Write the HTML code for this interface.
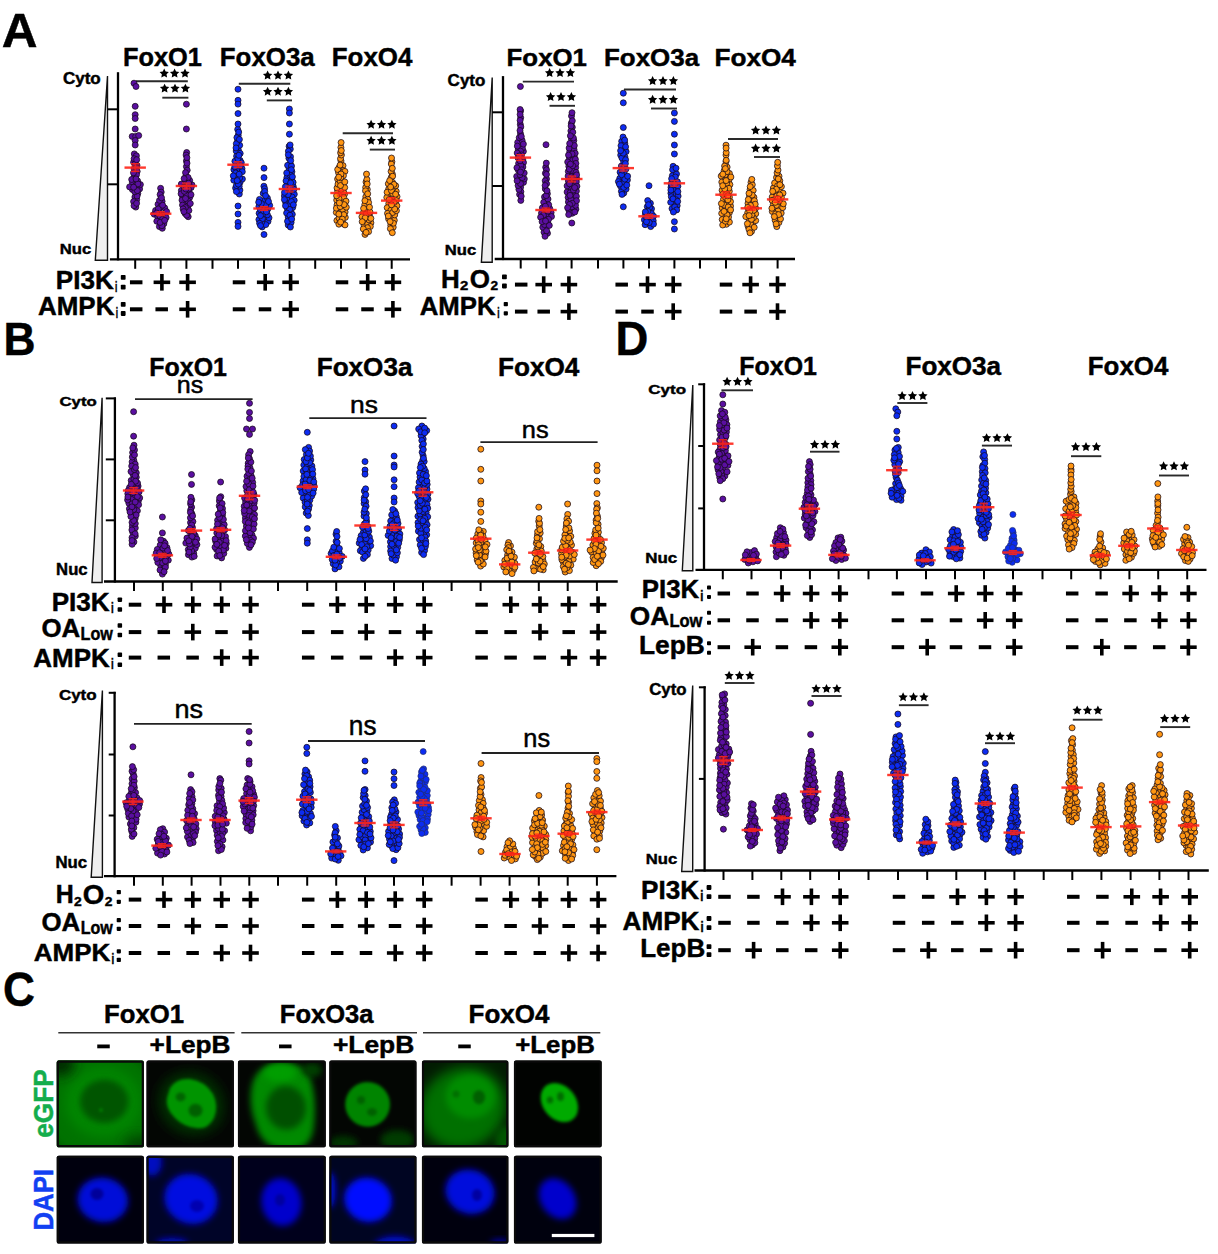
<!DOCTYPE html><html><head><meta charset="utf-8"><style>html,body{margin:0;padding:0;background:#fff;overflow:hidden;width:1218px;height:1254px;}svg{display:block;font-family:"Liberation Sans",sans-serif;}</style></head><body><svg width="1218" height="1254" viewBox="0 0 1218 1254"><rect width="100%" height="100%" fill="#fff"/><defs>
<filter id="b3" x="-50%" y="-50%" width="200%" height="200%"><feGaussianBlur stdDeviation="3"/></filter>
<filter id="b2" x="-50%" y="-50%" width="200%" height="200%"><feGaussianBlur stdDeviation="1.6"/></filter>
<filter id="b6" x="-50%" y="-50%" width="200%" height="200%"><feGaussianBlur stdDeviation="6"/></filter>
<clipPath id="c00"><rect x="56.8" y="1060.6" width="87.0" height="86.6" rx="1.5"/></clipPath>
<clipPath id="c01"><rect x="56.8" y="1155.8" width="87.0" height="87.6" rx="1.5"/></clipPath>
<clipPath id="c10"><rect x="146.6" y="1060.6" width="87.2" height="86.6" rx="1.5"/></clipPath>
<clipPath id="c11"><rect x="146.6" y="1155.8" width="87.2" height="87.6" rx="1.5"/></clipPath>
<clipPath id="c20"><rect x="238.0" y="1060.6" width="87.7" height="86.6" rx="1.5"/></clipPath>
<clipPath id="c21"><rect x="238.0" y="1155.8" width="87.7" height="87.6" rx="1.5"/></clipPath>
<clipPath id="c30"><rect x="329.4" y="1060.6" width="87.0" height="86.6" rx="1.5"/></clipPath>
<clipPath id="c31"><rect x="329.4" y="1155.8" width="87.0" height="87.6" rx="1.5"/></clipPath>
<clipPath id="c40"><rect x="422.0" y="1060.6" width="86.3" height="86.6" rx="1.5"/></clipPath>
<clipPath id="c41"><rect x="422.0" y="1155.8" width="86.3" height="87.6" rx="1.5"/></clipPath>
<clipPath id="c50"><rect x="514.0" y="1060.6" width="87.6" height="86.6" rx="1.5"/></clipPath>
<clipPath id="c51"><rect x="514.0" y="1155.8" width="87.6" height="87.6" rx="1.5"/></clipPath>
</defs>
<text x="1.69" y="46.88" font-size="47.60" font-weight="bold" fill="#000" stroke="#000" stroke-width="0.45" textLength="35.79" lengthAdjust="spacingAndGlyphs">A</text>
<text x="123.03" y="66.28" font-size="26.53" font-weight="bold" fill="#000" stroke="#000" stroke-width="0.45" textLength="78.95" lengthAdjust="spacingAndGlyphs">FoxO1</text>
<text x="219.79" y="66.28" font-size="26.53" font-weight="bold" fill="#000" stroke="#000" stroke-width="0.45" textLength="94.92" lengthAdjust="spacingAndGlyphs">FoxO3a</text>
<text x="331.79" y="66.28" font-size="26.53" font-weight="bold" fill="#000" stroke="#000" stroke-width="0.45" textLength="80.62" lengthAdjust="spacingAndGlyphs">FoxO4</text>
<text x="62.93" y="84.28" font-size="15.77" font-weight="bold" fill="#000" stroke="#000" stroke-width="0.45" textLength="37.81" lengthAdjust="spacingAndGlyphs">Cyto</text>
<text x="59.71" y="253.97" font-size="15.48" font-weight="bold" fill="#000" stroke="#000" stroke-width="0.45" textLength="31.45" lengthAdjust="spacingAndGlyphs">Nuc</text>
<polygon points="107.50,76.00 107.50,260.30 95.30,260.30" fill="#efefef" stroke="#111" stroke-width="1.4" stroke-linejoin="miter"/>
<line x1="118.00" y1="72.20" x2="118.00" y2="260.40" stroke="#000" stroke-width="2.30"/>
<line x1="107.50" y1="109.30" x2="118.00" y2="109.30" stroke="#000" stroke-width="2.00"/>
<line x1="107.50" y1="184.30" x2="118.00" y2="184.30" stroke="#000" stroke-width="2.00"/>
<line x1="109.90" y1="259.30" x2="410.00" y2="259.30" stroke="#000" stroke-width="2.30"/>
<line x1="135.20" y1="259.30" x2="135.20" y2="268.80" stroke="#000" stroke-width="2.00"/>
<line x1="160.70" y1="259.30" x2="160.70" y2="268.80" stroke="#000" stroke-width="2.00"/>
<line x1="186.40" y1="259.30" x2="186.40" y2="268.80" stroke="#000" stroke-width="2.00"/>
<line x1="238.00" y1="259.30" x2="238.00" y2="268.80" stroke="#000" stroke-width="2.00"/>
<line x1="264.00" y1="259.30" x2="264.00" y2="268.80" stroke="#000" stroke-width="2.00"/>
<line x1="289.40" y1="259.30" x2="289.40" y2="268.80" stroke="#000" stroke-width="2.00"/>
<line x1="341.00" y1="259.30" x2="341.00" y2="268.80" stroke="#000" stroke-width="2.00"/>
<line x1="366.50" y1="259.30" x2="366.50" y2="268.80" stroke="#000" stroke-width="2.00"/>
<line x1="391.70" y1="259.30" x2="391.70" y2="268.80" stroke="#000" stroke-width="2.00"/>
<line x1="212.50" y1="259.30" x2="212.50" y2="268.80" stroke="#000" stroke-width="2.00"/>
<line x1="315.20" y1="259.30" x2="315.20" y2="268.80" stroke="#000" stroke-width="2.00"/>
<line x1="136.00" y1="81.30" x2="187.80" y2="81.30" stroke="#2a2a2a" stroke-width="1.90"/>
<polygon points="164.20,68.57 165.64,71.49 168.86,71.95 166.53,74.23 167.08,77.43 164.20,75.92 161.32,77.43 161.87,74.23 159.54,71.95 162.76,71.49" fill="#000"/>
<polygon points="174.60,68.57 176.04,71.49 179.26,71.95 176.93,74.23 177.48,77.43 174.60,75.92 171.72,77.43 172.27,74.23 169.94,71.95 173.16,71.49" fill="#000"/>
<polygon points="185.00,68.57 186.44,71.49 189.66,71.95 187.33,74.23 187.88,77.43 185.00,75.92 182.12,77.43 182.67,74.23 180.34,71.95 183.56,71.49" fill="#000"/>
<line x1="162.30" y1="97.70" x2="188.40" y2="97.70" stroke="#2a2a2a" stroke-width="1.90"/>
<polygon points="164.60,83.67 166.04,86.59 169.26,87.05 166.93,89.33 167.48,92.53 164.60,91.02 161.72,92.53 162.27,89.33 159.94,87.05 163.16,86.59" fill="#000"/>
<polygon points="175.00,83.67 176.44,86.59 179.66,87.05 177.33,89.33 177.88,92.53 175.00,91.02 172.12,92.53 172.67,89.33 170.34,87.05 173.56,86.59" fill="#000"/>
<polygon points="185.40,83.67 186.84,86.59 190.06,87.05 187.73,89.33 188.28,92.53 185.40,91.02 182.52,92.53 183.07,89.33 180.74,87.05 183.96,86.59" fill="#000"/>
<line x1="238.80" y1="83.80" x2="290.30" y2="83.80" stroke="#2a2a2a" stroke-width="1.90"/>
<polygon points="267.60,70.57 269.04,73.49 272.26,73.95 269.93,76.23 270.48,79.43 267.60,77.92 264.72,79.43 265.27,76.23 262.94,73.95 266.16,73.49" fill="#000"/>
<polygon points="278.00,70.57 279.44,73.49 282.66,73.95 280.33,76.23 280.88,79.43 278.00,77.92 275.12,79.43 275.67,76.23 273.34,73.95 276.56,73.49" fill="#000"/>
<polygon points="288.40,70.57 289.84,73.49 293.06,73.95 290.73,76.23 291.28,79.43 288.40,77.92 285.52,79.43 286.07,76.23 283.74,73.95 286.96,73.49" fill="#000"/>
<line x1="266.80" y1="100.40" x2="292.00" y2="100.40" stroke="#2a2a2a" stroke-width="1.90"/>
<polygon points="267.60,86.77 269.04,89.69 272.26,90.15 269.93,92.43 270.48,95.63 267.60,94.12 264.72,95.63 265.27,92.43 262.94,90.15 266.16,89.69" fill="#000"/>
<polygon points="278.00,86.77 279.44,89.69 282.66,90.15 280.33,92.43 280.88,95.63 278.00,94.12 275.12,95.63 275.67,92.43 273.34,90.15 276.56,89.69" fill="#000"/>
<polygon points="288.40,86.77 289.84,89.69 293.06,90.15 290.73,92.43 291.28,95.63 288.40,94.12 285.52,95.63 286.07,92.43 283.74,90.15 286.96,89.69" fill="#000"/>
<line x1="342.70" y1="133.30" x2="393.00" y2="133.30" stroke="#2a2a2a" stroke-width="1.90"/>
<polygon points="371.10,119.77 372.54,122.69 375.76,123.15 373.43,125.43 373.98,128.63 371.10,127.12 368.22,128.63 368.77,125.43 366.44,123.15 369.66,122.69" fill="#000"/>
<polygon points="381.50,119.77 382.94,122.69 386.16,123.15 383.83,125.43 384.38,128.63 381.50,127.12 378.62,128.63 379.17,125.43 376.84,123.15 380.06,122.69" fill="#000"/>
<polygon points="391.90,119.77 393.34,122.69 396.56,123.15 394.23,125.43 394.78,128.63 391.90,127.12 389.02,128.63 389.57,125.43 387.24,123.15 390.46,122.69" fill="#000"/>
<line x1="369.80" y1="149.60" x2="395.00" y2="149.60" stroke="#2a2a2a" stroke-width="1.90"/>
<polygon points="371.10,135.87 372.54,138.79 375.76,139.25 373.43,141.53 373.98,144.73 371.10,143.22 368.22,144.73 368.77,141.53 366.44,139.25 369.66,138.79" fill="#000"/>
<polygon points="381.50,135.87 382.94,138.79 386.16,139.25 383.83,141.53 384.38,144.73 381.50,143.22 378.62,144.73 379.17,141.53 376.84,139.25 380.06,138.79" fill="#000"/>
<polygon points="391.90,135.87 393.34,138.79 396.56,139.25 394.23,141.53 394.78,144.73 391.90,143.22 389.02,144.73 389.57,141.53 387.24,139.25 390.46,138.79" fill="#000"/>
<g fill="#5a0fa0" stroke="#150818" stroke-width="0.75"><circle cx="134.9" cy="197.0" r="3.00"/><circle cx="137.0" cy="165.3" r="3.00"/><circle cx="134.3" cy="153.9" r="3.00"/><circle cx="136.7" cy="199.5" r="3.00"/><circle cx="134.1" cy="176.9" r="3.00"/><circle cx="135.8" cy="207.1" r="3.00"/><circle cx="137.8" cy="193.5" r="3.00"/><circle cx="134.1" cy="169.0" r="3.00"/><circle cx="136.4" cy="155.8" r="3.00"/><circle cx="132.4" cy="182.5" r="3.00"/><circle cx="133.6" cy="162.3" r="3.00"/><circle cx="137.1" cy="196.0" r="3.00"/><circle cx="139.6" cy="188.9" r="3.00"/><circle cx="135.7" cy="185.5" r="3.00"/><circle cx="132.4" cy="189.5" r="3.00"/><circle cx="137.6" cy="180.9" r="3.00"/><circle cx="133.6" cy="201.6" r="3.00"/><circle cx="134.1" cy="158.7" r="3.00"/><circle cx="129.6" cy="186.9" r="3.00"/><circle cx="135.2" cy="163.9" r="3.00"/><circle cx="136.4" cy="167.8" r="3.00"/><circle cx="137.2" cy="171.4" r="3.00"/><circle cx="136.5" cy="174.7" r="3.00"/><circle cx="134.8" cy="191.8" r="3.00"/><circle cx="140.4" cy="184.6" r="3.00"/><circle cx="131.7" cy="179.5" r="3.00"/><circle cx="133.5" cy="172.8" r="3.00"/><circle cx="137.3" cy="190.6" r="3.00"/><circle cx="134.0" cy="205.7" r="3.00"/><circle cx="137.9" cy="183.9" r="3.00"/><circle cx="133.6" cy="187.2" r="3.00"/><circle cx="136.6" cy="203.3" r="3.00"/><circle cx="136.0" cy="178.9" r="3.00"/><circle cx="136.7" cy="159.7" r="3.00"/><circle cx="134.0" cy="83.2" r="3.00"/><circle cx="136.0" cy="86.5" r="3.00"/><circle cx="135.2" cy="106.3" r="3.00"/><circle cx="135.2" cy="114.7" r="3.00"/><circle cx="135.2" cy="118.5" r="3.00"/><circle cx="135.2" cy="129.0" r="3.00"/><circle cx="132.2" cy="136.4" r="3.00"/><circle cx="135.7" cy="136.4" r="3.00"/><circle cx="138.7" cy="135.5" r="3.00"/><circle cx="135.2" cy="140.5" r="3.00"/><circle cx="135.2" cy="145.0" r="3.00"/></g>
<g stroke="#ff2418" opacity="0.9"><rect x="131.0" y="163.6" width="8.4" height="8.0" fill="#ff2418" fill-opacity="0.45" stroke="none"/><line x1="124.5" y1="167.6" x2="145.9" y2="167.6" stroke-width="2.4"/><line x1="135.2" y1="163.6" x2="135.2" y2="171.6" stroke-width="1.4"/><line x1="131.0" y1="163.6" x2="139.4" y2="163.6" stroke-width="1.2"/><line x1="131.0" y1="171.6" x2="139.4" y2="171.6" stroke-width="1.2"/></g>
<g fill="#5a0fa0" stroke="#150818" stroke-width="0.75"><circle cx="159.3" cy="211.9" r="3.00"/><circle cx="159.4" cy="226.6" r="3.00"/><circle cx="154.2" cy="214.2" r="3.00"/><circle cx="164.7" cy="207.9" r="3.00"/><circle cx="162.5" cy="215.1" r="3.00"/><circle cx="157.8" cy="216.8" r="3.00"/><circle cx="162.1" cy="201.3" r="3.00"/><circle cx="158.0" cy="204.3" r="3.00"/><circle cx="160.7" cy="206.8" r="3.00"/><circle cx="166.6" cy="211.6" r="3.00"/><circle cx="163.8" cy="223.8" r="3.00"/><circle cx="162.3" cy="228.3" r="3.00"/><circle cx="161.9" cy="225.7" r="3.00"/><circle cx="155.6" cy="210.4" r="3.00"/><circle cx="158.3" cy="208.9" r="3.00"/><circle cx="166.1" cy="217.5" r="3.00"/><circle cx="162.6" cy="205.2" r="3.00"/><circle cx="159.5" cy="200.4" r="3.00"/><circle cx="160.6" cy="188.3" r="3.00"/><circle cx="161.2" cy="192.1" r="3.00"/><circle cx="160.1" cy="216.2" r="3.00"/><circle cx="160.1" cy="194.6" r="3.00"/><circle cx="156.7" cy="213.0" r="3.00"/><circle cx="162.5" cy="219.3" r="3.00"/><circle cx="156.8" cy="221.2" r="3.00"/><circle cx="160.2" cy="222.4" r="3.00"/><circle cx="161.5" cy="197.8" r="3.00"/><circle cx="164.7" cy="220.4" r="3.00"/></g>
<g stroke="#ff2418" opacity="0.9"><rect x="156.5" y="211.7" width="8.4" height="4.0" fill="#ff2418" fill-opacity="0.45" stroke="none"/><line x1="150.0" y1="213.7" x2="171.4" y2="213.7" stroke-width="2.4"/><line x1="160.7" y1="211.7" x2="160.7" y2="215.7" stroke-width="1.4"/><line x1="156.5" y1="211.7" x2="164.9" y2="211.7" stroke-width="1.2"/><line x1="156.5" y1="215.7" x2="164.9" y2="215.7" stroke-width="1.2"/></g>
<g fill="#5a0fa0" stroke="#150818" stroke-width="0.75"><circle cx="189.7" cy="197.5" r="3.00"/><circle cx="188.1" cy="186.1" r="3.00"/><circle cx="184.5" cy="202.3" r="3.00"/><circle cx="181.4" cy="190.4" r="3.00"/><circle cx="189.4" cy="192.7" r="3.00"/><circle cx="188.1" cy="205.9" r="3.00"/><circle cx="185.3" cy="181.7" r="3.00"/><circle cx="181.3" cy="184.1" r="3.00"/><circle cx="192.0" cy="184.9" r="3.00"/><circle cx="188.2" cy="201.1" r="3.00"/><circle cx="184.1" cy="187.2" r="3.00"/><circle cx="185.2" cy="213.6" r="3.00"/><circle cx="186.1" cy="175.4" r="3.00"/><circle cx="188.2" cy="216.7" r="3.00"/><circle cx="186.4" cy="160.9" r="3.00"/><circle cx="182.6" cy="196.9" r="3.00"/><circle cx="191.1" cy="187.6" r="3.00"/><circle cx="182.0" cy="200.2" r="3.00"/><circle cx="182.5" cy="205.1" r="3.00"/><circle cx="186.7" cy="215.2" r="3.00"/><circle cx="188.4" cy="189.2" r="3.00"/><circle cx="186.7" cy="195.3" r="3.00"/><circle cx="190.3" cy="203.5" r="3.00"/><circle cx="181.1" cy="193.8" r="3.00"/><circle cx="186.7" cy="152.5" r="3.00"/><circle cx="184.3" cy="191.3" r="3.00"/><circle cx="188.9" cy="210.5" r="3.00"/><circle cx="189.7" cy="180.5" r="3.00"/><circle cx="186.4" cy="166.6" r="3.00"/><circle cx="185.5" cy="198.5" r="3.00"/><circle cx="185.9" cy="189.0" r="3.00"/><circle cx="187.2" cy="170.2" r="3.00"/><circle cx="185.5" cy="172.6" r="3.00"/><circle cx="186.1" cy="155.0" r="3.00"/><circle cx="186.9" cy="157.7" r="3.00"/><circle cx="188.1" cy="177.5" r="3.00"/><circle cx="184.1" cy="178.6" r="3.00"/><circle cx="185.3" cy="207.6" r="3.00"/><circle cx="187.0" cy="163.2" r="3.00"/><circle cx="183.1" cy="208.9" r="3.00"/><circle cx="183.9" cy="211.6" r="3.00"/><circle cx="191.0" cy="194.7" r="3.00"/><circle cx="188.6" cy="183.2" r="3.00"/><circle cx="186.4" cy="104.2" r="3.00"/><circle cx="186.4" cy="129.0" r="3.00"/></g>
<g stroke="#ff2418" opacity="0.9"><rect x="182.2" y="183.0" width="8.4" height="6.0" fill="#ff2418" fill-opacity="0.45" stroke="none"/><line x1="175.7" y1="186.0" x2="197.1" y2="186.0" stroke-width="2.4"/><line x1="186.4" y1="183.0" x2="186.4" y2="189.0" stroke-width="1.4"/><line x1="182.2" y1="183.0" x2="190.6" y2="183.0" stroke-width="1.2"/><line x1="182.2" y1="189.0" x2="190.6" y2="189.0" stroke-width="1.2"/></g>
<g fill="#0c2cf2" stroke="#150818" stroke-width="0.75"><circle cx="238.4" cy="150.2" r="3.00"/><circle cx="239.7" cy="145.3" r="3.00"/><circle cx="236.2" cy="151.0" r="3.00"/><circle cx="236.6" cy="156.2" r="3.00"/><circle cx="237.6" cy="141.2" r="3.00"/><circle cx="238.2" cy="135.3" r="3.00"/><circle cx="235.6" cy="188.0" r="3.00"/><circle cx="236.5" cy="176.8" r="3.00"/><circle cx="240.2" cy="153.4" r="3.00"/><circle cx="240.1" cy="160.4" r="3.00"/><circle cx="236.3" cy="143.7" r="3.00"/><circle cx="237.7" cy="129.4" r="3.00"/><circle cx="237.2" cy="164.6" r="3.00"/><circle cx="234.9" cy="161.2" r="3.00"/><circle cx="239.3" cy="194.0" r="3.00"/><circle cx="236.9" cy="137.6" r="3.00"/><circle cx="238.3" cy="170.5" r="3.00"/><circle cx="241.3" cy="162.7" r="3.00"/><circle cx="233.9" cy="169.7" r="3.00"/><circle cx="242.0" cy="168.6" r="3.00"/><circle cx="240.1" cy="182.3" r="3.00"/><circle cx="240.3" cy="165.6" r="3.00"/><circle cx="239.9" cy="190.1" r="3.00"/><circle cx="242.4" cy="179.0" r="3.00"/><circle cx="239.2" cy="186.2" r="3.00"/><circle cx="233.8" cy="180.2" r="3.00"/><circle cx="236.4" cy="185.5" r="3.00"/><circle cx="236.4" cy="191.6" r="3.00"/><circle cx="238.3" cy="184.1" r="3.00"/><circle cx="239.7" cy="177.9" r="3.00"/><circle cx="242.3" cy="171.7" r="3.00"/><circle cx="235.7" cy="172.9" r="3.00"/><circle cx="239.2" cy="174.2" r="3.00"/><circle cx="236.0" cy="147.9" r="3.00"/><circle cx="237.9" cy="158.7" r="3.00"/><circle cx="238.7" cy="132.1" r="3.00"/><circle cx="237.2" cy="180.6" r="3.00"/><circle cx="238.9" cy="155.3" r="3.00"/><circle cx="233.3" cy="175.8" r="3.00"/><circle cx="234.8" cy="166.8" r="3.00"/><circle cx="239.4" cy="139.4" r="3.00"/><circle cx="238.0" cy="89.2" r="3.00"/><circle cx="238.0" cy="100.3" r="3.00"/><circle cx="238.0" cy="104.1" r="3.00"/><circle cx="238.0" cy="113.6" r="3.00"/><circle cx="238.0" cy="124.0" r="3.00"/><circle cx="238.0" cy="206.0" r="3.00"/><circle cx="238.0" cy="214.0" r="3.00"/><circle cx="238.0" cy="222.4" r="3.00"/><circle cx="238.0" cy="226.4" r="3.00"/></g>
<g stroke="#ff2418" opacity="0.9"><rect x="233.8" y="161.7" width="8.4" height="6.0" fill="#ff2418" fill-opacity="0.45" stroke="none"/><line x1="227.3" y1="164.7" x2="248.7" y2="164.7" stroke-width="2.4"/><line x1="238.0" y1="161.7" x2="238.0" y2="167.7" stroke-width="1.4"/><line x1="233.8" y1="161.7" x2="242.2" y2="161.7" stroke-width="1.2"/><line x1="233.8" y1="167.7" x2="242.2" y2="167.7" stroke-width="1.2"/></g>
<g fill="#0c2cf2" stroke="#150818" stroke-width="0.75"><circle cx="262.2" cy="226.9" r="3.00"/><circle cx="258.9" cy="219.6" r="3.00"/><circle cx="263.2" cy="193.4" r="3.00"/><circle cx="263.9" cy="186.2" r="3.00"/><circle cx="268.0" cy="221.4" r="3.00"/><circle cx="265.8" cy="224.6" r="3.00"/><circle cx="267.8" cy="209.1" r="3.00"/><circle cx="258.9" cy="206.5" r="3.00"/><circle cx="262.9" cy="207.2" r="3.00"/><circle cx="264.6" cy="188.7" r="3.00"/><circle cx="264.5" cy="216.7" r="3.00"/><circle cx="265.4" cy="208.3" r="3.00"/><circle cx="269.7" cy="205.4" r="3.00"/><circle cx="269.0" cy="217.8" r="3.00"/><circle cx="264.0" cy="200.6" r="3.00"/><circle cx="265.9" cy="204.6" r="3.00"/><circle cx="261.7" cy="222.2" r="3.00"/><circle cx="267.4" cy="198.1" r="3.00"/><circle cx="259.1" cy="213.3" r="3.00"/><circle cx="267.4" cy="214.8" r="3.00"/><circle cx="262.4" cy="218.7" r="3.00"/><circle cx="259.5" cy="199.4" r="3.00"/><circle cx="264.7" cy="191.4" r="3.00"/><circle cx="261.3" cy="203.6" r="3.00"/><circle cx="262.7" cy="213.9" r="3.00"/><circle cx="260.4" cy="209.7" r="3.00"/><circle cx="263.5" cy="210.9" r="3.00"/><circle cx="259.6" cy="223.3" r="3.00"/><circle cx="268.5" cy="201.5" r="3.00"/><circle cx="260.5" cy="225.6" r="3.00"/><circle cx="260.5" cy="215.7" r="3.00"/><circle cx="266.4" cy="211.8" r="3.00"/><circle cx="258.7" cy="202.2" r="3.00"/><circle cx="265.6" cy="195.7" r="3.00"/><circle cx="264.0" cy="168.2" r="3.00"/><circle cx="264.0" cy="177.6" r="3.00"/><circle cx="264.0" cy="234.5" r="3.00"/></g>
<g stroke="#ff2418" opacity="0.9"><rect x="259.8" y="206.5" width="8.4" height="4.0" fill="#ff2418" fill-opacity="0.45" stroke="none"/><line x1="253.3" y1="208.5" x2="274.7" y2="208.5" stroke-width="2.4"/><line x1="264.0" y1="206.5" x2="264.0" y2="210.5" stroke-width="1.4"/><line x1="259.8" y1="206.5" x2="268.2" y2="206.5" stroke-width="1.2"/><line x1="259.8" y1="210.5" x2="268.2" y2="210.5" stroke-width="1.2"/></g>
<g fill="#0c2cf2" stroke="#150818" stroke-width="0.75"><circle cx="289.1" cy="146.3" r="3.00"/><circle cx="288.2" cy="225.0" r="3.00"/><circle cx="288.2" cy="217.0" r="3.00"/><circle cx="290.8" cy="211.2" r="3.00"/><circle cx="289.1" cy="168.9" r="3.00"/><circle cx="291.0" cy="191.8" r="3.00"/><circle cx="291.5" cy="179.8" r="3.00"/><circle cx="286.9" cy="177.6" r="3.00"/><circle cx="290.1" cy="163.6" r="3.00"/><circle cx="284.4" cy="195.9" r="3.00"/><circle cx="290.3" cy="149.1" r="3.00"/><circle cx="291.1" cy="222.5" r="3.00"/><circle cx="287.5" cy="221.3" r="3.00"/><circle cx="294.3" cy="194.2" r="3.00"/><circle cx="288.9" cy="158.2" r="3.00"/><circle cx="293.2" cy="186.3" r="3.00"/><circle cx="288.7" cy="198.2" r="3.00"/><circle cx="285.7" cy="202.5" r="3.00"/><circle cx="286.6" cy="190.2" r="3.00"/><circle cx="290.4" cy="227.0" r="3.00"/><circle cx="287.5" cy="184.1" r="3.00"/><circle cx="290.1" cy="144.9" r="3.00"/><circle cx="287.6" cy="165.3" r="3.00"/><circle cx="291.9" cy="171.8" r="3.00"/><circle cx="286.0" cy="180.9" r="3.00"/><circle cx="287.3" cy="208.4" r="3.00"/><circle cx="291.5" cy="166.0" r="3.00"/><circle cx="292.1" cy="197.0" r="3.00"/><circle cx="293.9" cy="189.3" r="3.00"/><circle cx="292.7" cy="207.5" r="3.00"/><circle cx="293.1" cy="182.3" r="3.00"/><circle cx="292.3" cy="214.3" r="3.00"/><circle cx="290.5" cy="156.7" r="3.00"/><circle cx="289.8" cy="203.9" r="3.00"/><circle cx="285.4" cy="186.7" r="3.00"/><circle cx="290.6" cy="182.9" r="3.00"/><circle cx="289.6" cy="209.4" r="3.00"/><circle cx="290.2" cy="188.3" r="3.00"/><circle cx="288.4" cy="151.2" r="3.00"/><circle cx="294.2" cy="200.3" r="3.00"/><circle cx="288.0" cy="194.6" r="3.00"/><circle cx="286.6" cy="213.0" r="3.00"/><circle cx="284.4" cy="199.6" r="3.00"/><circle cx="284.5" cy="192.4" r="3.00"/><circle cx="291.4" cy="201.6" r="3.00"/><circle cx="291.3" cy="169.7" r="3.00"/><circle cx="290.3" cy="175.3" r="3.00"/><circle cx="286.7" cy="173.0" r="3.00"/><circle cx="289.9" cy="215.2" r="3.00"/><circle cx="292.4" cy="176.8" r="3.00"/><circle cx="291.7" cy="219.1" r="3.00"/><circle cx="288.3" cy="154.8" r="3.00"/><circle cx="290.7" cy="160.6" r="3.00"/><circle cx="293.4" cy="204.8" r="3.00"/><circle cx="285.5" cy="205.8" r="3.00"/><circle cx="289.4" cy="109.0" r="3.00"/><circle cx="289.4" cy="113.0" r="3.00"/><circle cx="289.4" cy="124.0" r="3.00"/><circle cx="289.4" cy="134.2" r="3.00"/></g>
<g stroke="#ff2418" opacity="0.9"><rect x="285.2" y="186.0" width="8.4" height="6.0" fill="#ff2418" fill-opacity="0.45" stroke="none"/><line x1="278.7" y1="189.0" x2="300.1" y2="189.0" stroke-width="2.4"/><line x1="289.4" y1="186.0" x2="289.4" y2="192.0" stroke-width="1.4"/><line x1="285.2" y1="186.0" x2="293.6" y2="186.0" stroke-width="1.2"/><line x1="285.2" y1="192.0" x2="293.6" y2="192.0" stroke-width="1.2"/></g>
<g fill="#ff9612" stroke="#150818" stroke-width="0.75"><circle cx="337.0" cy="205.0" r="3.00"/><circle cx="344.5" cy="194.2" r="3.00"/><circle cx="345.1" cy="212.0" r="3.00"/><circle cx="342.2" cy="201.8" r="3.00"/><circle cx="341.0" cy="160.9" r="3.00"/><circle cx="336.9" cy="220.5" r="3.00"/><circle cx="339.0" cy="210.5" r="3.00"/><circle cx="336.7" cy="200.1" r="3.00"/><circle cx="342.6" cy="209.3" r="3.00"/><circle cx="340.2" cy="196.6" r="3.00"/><circle cx="346.3" cy="207.2" r="3.00"/><circle cx="336.3" cy="212.4" r="3.00"/><circle cx="343.0" cy="165.6" r="3.00"/><circle cx="342.9" cy="223.3" r="3.00"/><circle cx="337.6" cy="190.9" r="3.00"/><circle cx="341.1" cy="193.5" r="3.00"/><circle cx="336.4" cy="208.2" r="3.00"/><circle cx="342.2" cy="183.1" r="3.00"/><circle cx="340.5" cy="158.7" r="3.00"/><circle cx="342.2" cy="170.2" r="3.00"/><circle cx="340.9" cy="147.4" r="3.00"/><circle cx="343.6" cy="192.3" r="3.00"/><circle cx="341.0" cy="215.7" r="3.00"/><circle cx="340.2" cy="206.6" r="3.00"/><circle cx="341.4" cy="155.0" r="3.00"/><circle cx="343.7" cy="197.5" r="3.00"/><circle cx="338.5" cy="172.6" r="3.00"/><circle cx="344.9" cy="171.4" r="3.00"/><circle cx="339.0" cy="198.8" r="3.00"/><circle cx="345.3" cy="217.4" r="3.00"/><circle cx="336.6" cy="195.8" r="3.00"/><circle cx="338.9" cy="224.2" r="3.00"/><circle cx="345.0" cy="224.9" r="3.00"/><circle cx="339.1" cy="167.6" r="3.00"/><circle cx="337.7" cy="169.5" r="3.00"/><circle cx="340.6" cy="152.8" r="3.00"/><circle cx="343.4" cy="175.7" r="3.00"/><circle cx="346.0" cy="201.2" r="3.00"/><circle cx="341.1" cy="189.3" r="3.00"/><circle cx="341.1" cy="142.5" r="3.00"/><circle cx="339.0" cy="218.1" r="3.00"/><circle cx="340.1" cy="165.1" r="3.00"/><circle cx="337.6" cy="179.1" r="3.00"/><circle cx="344.7" cy="187.5" r="3.00"/><circle cx="337.0" cy="187.9" r="3.00"/><circle cx="338.0" cy="184.1" r="3.00"/><circle cx="344.1" cy="204.6" r="3.00"/><circle cx="343.8" cy="214.7" r="3.00"/><circle cx="340.1" cy="181.0" r="3.00"/><circle cx="340.5" cy="185.5" r="3.00"/><circle cx="340.8" cy="177.8" r="3.00"/><circle cx="342.3" cy="219.1" r="3.00"/><circle cx="341.0" cy="174.0" r="3.00"/><circle cx="344.8" cy="181.9" r="3.00"/><circle cx="340.6" cy="222.1" r="3.00"/><circle cx="341.3" cy="150.5" r="3.00"/><circle cx="339.4" cy="202.9" r="3.00"/><circle cx="338.7" cy="177.2" r="3.00"/><circle cx="338.8" cy="214.1" r="3.00"/></g>
<g stroke="#ff2418" opacity="0.9"><rect x="336.8" y="190.0" width="8.4" height="6.0" fill="#ff2418" fill-opacity="0.45" stroke="none"/><line x1="330.3" y1="193.0" x2="351.7" y2="193.0" stroke-width="2.4"/><line x1="341.0" y1="190.0" x2="341.0" y2="196.0" stroke-width="1.4"/><line x1="336.8" y1="190.0" x2="345.2" y2="190.0" stroke-width="1.2"/><line x1="336.8" y1="196.0" x2="345.2" y2="196.0" stroke-width="1.2"/></g>
<g fill="#ff9612" stroke="#150818" stroke-width="0.75"><circle cx="367.3" cy="189.4" r="3.00"/><circle cx="369.3" cy="215.1" r="3.00"/><circle cx="364.2" cy="225.8" r="3.00"/><circle cx="366.0" cy="182.0" r="3.00"/><circle cx="370.9" cy="222.8" r="3.00"/><circle cx="363.5" cy="212.5" r="3.00"/><circle cx="367.8" cy="210.6" r="3.00"/><circle cx="365.8" cy="221.2" r="3.00"/><circle cx="365.0" cy="234.4" r="3.00"/><circle cx="365.8" cy="196.8" r="3.00"/><circle cx="367.8" cy="199.2" r="3.00"/><circle cx="366.3" cy="214.0" r="3.00"/><circle cx="361.9" cy="216.8" r="3.00"/><circle cx="365.7" cy="187.4" r="3.00"/><circle cx="367.7" cy="224.0" r="3.00"/><circle cx="370.0" cy="212.1" r="3.00"/><circle cx="367.6" cy="205.4" r="3.00"/><circle cx="364.8" cy="204.7" r="3.00"/><circle cx="370.3" cy="226.5" r="3.00"/><circle cx="366.9" cy="179.4" r="3.00"/><circle cx="368.6" cy="202.5" r="3.00"/><circle cx="365.5" cy="190.8" r="3.00"/><circle cx="367.4" cy="227.7" r="3.00"/><circle cx="363.3" cy="228.9" r="3.00"/><circle cx="369.0" cy="219.9" r="3.00"/><circle cx="363.6" cy="208.4" r="3.00"/><circle cx="365.2" cy="217.9" r="3.00"/><circle cx="368.6" cy="231.6" r="3.00"/><circle cx="367.2" cy="183.9" r="3.00"/><circle cx="370.9" cy="218.4" r="3.00"/><circle cx="364.9" cy="200.7" r="3.00"/><circle cx="366.1" cy="232.4" r="3.00"/><circle cx="366.5" cy="174.1" r="3.00"/><circle cx="369.5" cy="207.2" r="3.00"/><circle cx="367.7" cy="193.8" r="3.00"/><circle cx="362.2" cy="221.7" r="3.00"/></g>
<g stroke="#ff2418" opacity="0.9"><rect x="362.3" y="210.9" width="8.4" height="4.0" fill="#ff2418" fill-opacity="0.45" stroke="none"/><line x1="355.8" y1="212.9" x2="377.2" y2="212.9" stroke-width="2.4"/><line x1="366.5" y1="210.9" x2="366.5" y2="214.9" stroke-width="1.4"/><line x1="362.3" y1="210.9" x2="370.7" y2="210.9" stroke-width="1.2"/><line x1="362.3" y1="214.9" x2="370.7" y2="214.9" stroke-width="1.2"/></g>
<g fill="#ff9612" stroke="#150818" stroke-width="0.75"><circle cx="388.7" cy="189.0" r="3.00"/><circle cx="388.8" cy="203.5" r="3.00"/><circle cx="391.9" cy="161.7" r="3.00"/><circle cx="391.3" cy="164.0" r="3.00"/><circle cx="396.2" cy="191.3" r="3.00"/><circle cx="388.9" cy="195.0" r="3.00"/><circle cx="390.8" cy="225.3" r="3.00"/><circle cx="393.7" cy="206.8" r="3.00"/><circle cx="391.2" cy="177.5" r="3.00"/><circle cx="393.2" cy="227.2" r="3.00"/><circle cx="392.6" cy="198.6" r="3.00"/><circle cx="390.5" cy="217.4" r="3.00"/><circle cx="387.2" cy="207.7" r="3.00"/><circle cx="393.2" cy="188.0" r="3.00"/><circle cx="394.3" cy="220.3" r="3.00"/><circle cx="390.8" cy="210.3" r="3.00"/><circle cx="397.0" cy="196.6" r="3.00"/><circle cx="396.3" cy="200.6" r="3.00"/><circle cx="394.7" cy="214.9" r="3.00"/><circle cx="391.4" cy="201.7" r="3.00"/><circle cx="387.5" cy="213.4" r="3.00"/><circle cx="392.3" cy="174.0" r="3.00"/><circle cx="391.1" cy="171.4" r="3.00"/><circle cx="392.7" cy="212.5" r="3.00"/><circle cx="392.6" cy="176.2" r="3.00"/><circle cx="386.8" cy="197.4" r="3.00"/><circle cx="396.4" cy="210.7" r="3.00"/><circle cx="392.5" cy="182.4" r="3.00"/><circle cx="392.3" cy="168.3" r="3.00"/><circle cx="393.4" cy="223.2" r="3.00"/><circle cx="388.3" cy="183.8" r="3.00"/><circle cx="389.3" cy="199.5" r="3.00"/><circle cx="392.7" cy="193.5" r="3.00"/><circle cx="395.7" cy="185.8" r="3.00"/><circle cx="393.9" cy="184.4" r="3.00"/><circle cx="396.9" cy="205.8" r="3.00"/><circle cx="394.7" cy="209.0" r="3.00"/><circle cx="388.6" cy="218.8" r="3.00"/><circle cx="390.4" cy="228.7" r="3.00"/><circle cx="394.0" cy="202.4" r="3.00"/><circle cx="388.3" cy="216.0" r="3.00"/><circle cx="389.7" cy="180.6" r="3.00"/><circle cx="387.1" cy="192.2" r="3.00"/><circle cx="391.4" cy="190.5" r="3.00"/><circle cx="390.1" cy="221.6" r="3.00"/><circle cx="391.5" cy="158.0" r="3.00"/><circle cx="392.3" cy="232.7" r="3.00"/><circle cx="395.6" cy="194.2" r="3.00"/><circle cx="390.6" cy="187.0" r="3.00"/><circle cx="391.5" cy="204.8" r="3.00"/></g>
<g stroke="#ff2418" opacity="0.9"><rect x="387.5" y="197.6" width="8.4" height="6.0" fill="#ff2418" fill-opacity="0.45" stroke="none"/><line x1="381.0" y1="200.6" x2="402.4" y2="200.6" stroke-width="2.4"/><line x1="391.7" y1="197.6" x2="391.7" y2="203.6" stroke-width="1.4"/><line x1="387.5" y1="197.6" x2="395.9" y2="197.6" stroke-width="1.2"/><line x1="387.5" y1="203.6" x2="395.9" y2="203.6" stroke-width="1.2"/></g>
<text x="506.60" y="66.28" font-size="24.78" font-weight="bold" fill="#000" stroke="#000" stroke-width="0.45" textLength="80.40" lengthAdjust="spacingAndGlyphs">FoxO1</text>
<text x="603.99" y="66.28" font-size="24.78" font-weight="bold" fill="#000" stroke="#000" stroke-width="0.45" textLength="95.12" lengthAdjust="spacingAndGlyphs">FoxO3a</text>
<text x="714.47" y="66.28" font-size="24.78" font-weight="bold" fill="#000" stroke="#000" stroke-width="0.45" textLength="81.44" lengthAdjust="spacingAndGlyphs">FoxO4</text>
<text x="447.63" y="85.88" font-size="15.92" font-weight="bold" fill="#000" stroke="#000" stroke-width="0.45" textLength="37.71" lengthAdjust="spacingAndGlyphs">Cyto</text>
<text x="444.71" y="255.28" font-size="15.19" font-weight="bold" fill="#000" stroke="#000" stroke-width="0.45" textLength="31.45" lengthAdjust="spacingAndGlyphs">Nuc</text>
<polygon points="492.20,77.60 492.20,262.20 481.40,262.20" fill="#efefef" stroke="#111" stroke-width="1.4" stroke-linejoin="miter"/>
<line x1="503.00" y1="76.10" x2="503.00" y2="260.10" stroke="#000" stroke-width="2.30"/>
<line x1="492.20" y1="112.30" x2="503.00" y2="112.30" stroke="#000" stroke-width="2.00"/>
<line x1="492.20" y1="186.00" x2="503.00" y2="186.00" stroke="#000" stroke-width="2.00"/>
<line x1="494.70" y1="259.00" x2="795.00" y2="259.00" stroke="#000" stroke-width="2.30"/>
<line x1="520.70" y1="259.00" x2="520.70" y2="268.50" stroke="#000" stroke-width="2.00"/>
<line x1="546.30" y1="259.00" x2="546.30" y2="268.50" stroke="#000" stroke-width="2.00"/>
<line x1="571.60" y1="259.00" x2="571.60" y2="268.50" stroke="#000" stroke-width="2.00"/>
<line x1="623.40" y1="259.00" x2="623.40" y2="268.50" stroke="#000" stroke-width="2.00"/>
<line x1="649.00" y1="259.00" x2="649.00" y2="268.50" stroke="#000" stroke-width="2.00"/>
<line x1="674.40" y1="259.00" x2="674.40" y2="268.50" stroke="#000" stroke-width="2.00"/>
<line x1="726.00" y1="259.00" x2="726.00" y2="268.50" stroke="#000" stroke-width="2.00"/>
<line x1="751.50" y1="259.00" x2="751.50" y2="268.50" stroke="#000" stroke-width="2.00"/>
<line x1="777.60" y1="259.00" x2="777.60" y2="268.50" stroke="#000" stroke-width="2.00"/>
<line x1="598.00" y1="259.00" x2="598.00" y2="268.50" stroke="#000" stroke-width="2.00"/>
<line x1="700.00" y1="259.00" x2="700.00" y2="268.50" stroke="#000" stroke-width="2.00"/>
<line x1="522.80" y1="81.60" x2="574.00" y2="81.60" stroke="#2a2a2a" stroke-width="1.90"/>
<polygon points="549.60,68.07 551.04,70.99 554.26,71.45 551.93,73.73 552.48,76.93 549.60,75.42 546.72,76.93 547.27,73.73 544.94,71.45 548.16,70.99" fill="#000"/>
<polygon points="560.00,68.07 561.44,70.99 564.66,71.45 562.33,73.73 562.88,76.93 560.00,75.42 557.12,76.93 557.67,73.73 555.34,71.45 558.56,70.99" fill="#000"/>
<polygon points="570.40,68.07 571.84,70.99 575.06,71.45 572.73,73.73 573.28,76.93 570.40,75.42 567.52,76.93 568.07,73.73 565.74,71.45 568.96,70.99" fill="#000"/>
<line x1="549.50" y1="105.80" x2="575.00" y2="105.80" stroke="#2a2a2a" stroke-width="1.90"/>
<polygon points="550.60,92.07 552.04,94.99 555.26,95.45 552.93,97.73 553.48,100.93 550.60,99.42 547.72,100.93 548.27,97.73 545.94,95.45 549.16,94.99" fill="#000"/>
<polygon points="561.00,92.07 562.44,94.99 565.66,95.45 563.33,97.73 563.88,100.93 561.00,99.42 558.12,100.93 558.67,97.73 556.34,95.45 559.56,94.99" fill="#000"/>
<polygon points="571.40,92.07 572.84,94.99 576.06,95.45 573.73,97.73 574.28,100.93 571.40,99.42 568.52,100.93 569.07,97.73 566.74,95.45 569.96,94.99" fill="#000"/>
<line x1="624.00" y1="89.50" x2="676.00" y2="89.50" stroke="#2a2a2a" stroke-width="1.90"/>
<polygon points="652.60,76.07 654.04,78.99 657.26,79.45 654.93,81.73 655.48,84.93 652.60,83.42 649.72,84.93 650.27,81.73 647.94,79.45 651.16,78.99" fill="#000"/>
<polygon points="663.00,76.07 664.44,78.99 667.66,79.45 665.33,81.73 665.88,84.93 663.00,83.42 660.12,84.93 660.67,81.73 658.34,79.45 661.56,78.99" fill="#000"/>
<polygon points="673.40,76.07 674.84,78.99 678.06,79.45 675.73,81.73 676.28,84.93 673.40,83.42 670.52,84.93 671.07,81.73 668.74,79.45 671.96,78.99" fill="#000"/>
<line x1="651.00" y1="108.50" x2="677.00" y2="108.50" stroke="#2a2a2a" stroke-width="1.90"/>
<polygon points="652.60,94.87 654.04,97.79 657.26,98.25 654.93,100.53 655.48,103.73 652.60,102.22 649.72,103.73 650.27,100.53 647.94,98.25 651.16,97.79" fill="#000"/>
<polygon points="663.00,94.87 664.44,97.79 667.66,98.25 665.33,100.53 665.88,103.73 663.00,102.22 660.12,103.73 660.67,100.53 658.34,98.25 661.56,97.79" fill="#000"/>
<polygon points="673.40,94.87 674.84,97.79 678.06,98.25 675.73,100.53 676.28,103.73 673.40,102.22 670.52,103.73 671.07,100.53 668.74,98.25 671.96,97.79" fill="#000"/>
<line x1="728.00" y1="139.00" x2="778.00" y2="139.00" stroke="#2a2a2a" stroke-width="1.90"/>
<polygon points="755.60,125.57 757.04,128.49 760.26,128.95 757.93,131.23 758.48,134.43 755.60,132.92 752.72,134.43 753.27,131.23 750.94,128.95 754.16,128.49" fill="#000"/>
<polygon points="766.00,125.57 767.44,128.49 770.66,128.95 768.33,131.23 768.88,134.43 766.00,132.92 763.12,134.43 763.67,131.23 761.34,128.95 764.56,128.49" fill="#000"/>
<polygon points="776.40,125.57 777.84,128.49 781.06,128.95 778.73,131.23 779.28,134.43 776.40,132.92 773.52,134.43 774.07,131.23 771.74,128.95 774.96,128.49" fill="#000"/>
<line x1="754.00" y1="157.00" x2="780.00" y2="157.00" stroke="#2a2a2a" stroke-width="1.90"/>
<polygon points="755.60,143.57 757.04,146.49 760.26,146.95 757.93,149.23 758.48,152.43 755.60,150.92 752.72,152.43 753.27,149.23 750.94,146.95 754.16,146.49" fill="#000"/>
<polygon points="766.00,143.57 767.44,146.49 770.66,146.95 768.33,149.23 768.88,152.43 766.00,150.92 763.12,152.43 763.67,149.23 761.34,146.95 764.56,146.49" fill="#000"/>
<polygon points="776.40,143.57 777.84,146.49 781.06,146.95 778.73,149.23 779.28,152.43 776.40,150.92 773.52,152.43 774.07,149.23 771.74,146.95 774.96,146.49" fill="#000"/>
<g fill="#5a0fa0" stroke="#150818" stroke-width="0.75"><circle cx="518.3" cy="149.2" r="3.00"/><circle cx="520.9" cy="145.1" r="3.00"/><circle cx="519.9" cy="179.5" r="3.00"/><circle cx="518.4" cy="170.3" r="3.00"/><circle cx="520.6" cy="110.9" r="3.00"/><circle cx="518.6" cy="163.4" r="3.00"/><circle cx="523.5" cy="182.4" r="3.00"/><circle cx="524.3" cy="178.9" r="3.00"/><circle cx="517.7" cy="142.4" r="3.00"/><circle cx="520.9" cy="191.7" r="3.00"/><circle cx="520.3" cy="124.3" r="3.00"/><circle cx="520.5" cy="133.7" r="3.00"/><circle cx="520.8" cy="126.9" r="3.00"/><circle cx="516.7" cy="176.4" r="3.00"/><circle cx="522.7" cy="159.6" r="3.00"/><circle cx="522.2" cy="177.6" r="3.00"/><circle cx="520.6" cy="187.2" r="3.00"/><circle cx="523.5" cy="162.5" r="3.00"/><circle cx="523.4" cy="151.4" r="3.00"/><circle cx="520.0" cy="174.7" r="3.00"/><circle cx="520.7" cy="117.7" r="3.00"/><circle cx="522.9" cy="167.0" r="3.00"/><circle cx="518.1" cy="157.9" r="3.00"/><circle cx="520.1" cy="109.5" r="3.00"/><circle cx="522.4" cy="148.3" r="3.00"/><circle cx="520.5" cy="151.1" r="3.00"/><circle cx="520.8" cy="165.3" r="3.00"/><circle cx="520.0" cy="130.5" r="3.00"/><circle cx="520.1" cy="114.4" r="3.00"/><circle cx="521.5" cy="154.9" r="3.00"/><circle cx="519.6" cy="194.4" r="3.00"/><circle cx="517.2" cy="153.0" r="3.00"/><circle cx="519.4" cy="155.9" r="3.00"/><circle cx="516.9" cy="167.8" r="3.00"/><circle cx="520.1" cy="120.4" r="3.00"/><circle cx="520.0" cy="160.8" r="3.00"/><circle cx="518.9" cy="189.4" r="3.00"/><circle cx="522.1" cy="140.4" r="3.00"/><circle cx="517.3" cy="146.1" r="3.00"/><circle cx="518.1" cy="185.6" r="3.00"/><circle cx="519.2" cy="137.7" r="3.00"/><circle cx="524.2" cy="173.0" r="3.00"/><circle cx="521.6" cy="169.8" r="3.00"/><circle cx="523.4" cy="144.1" r="3.00"/><circle cx="520.5" cy="172.0" r="3.00"/><circle cx="520.8" cy="200.4" r="3.00"/><circle cx="521.2" cy="196.2" r="3.00"/><circle cx="520.5" cy="183.6" r="3.00"/><circle cx="517.1" cy="180.8" r="3.00"/><circle cx="521.3" cy="136.5" r="3.00"/><circle cx="520.4" cy="86.5" r="3.00"/></g>
<g stroke="#ff2418" opacity="0.9"><rect x="516.2" y="154.6" width="8.4" height="6.0" fill="#ff2418" fill-opacity="0.45" stroke="none"/><line x1="509.7" y1="157.6" x2="531.1" y2="157.6" stroke-width="2.4"/><line x1="520.4" y1="154.6" x2="520.4" y2="160.6" stroke-width="1.4"/><line x1="516.2" y1="154.6" x2="524.6" y2="154.6" stroke-width="1.2"/><line x1="516.2" y1="160.6" x2="524.6" y2="160.6" stroke-width="1.2"/></g>
<g fill="#5a0fa0" stroke="#150818" stroke-width="0.75"><circle cx="548.2" cy="214.4" r="3.00"/><circle cx="546.1" cy="228.0" r="3.00"/><circle cx="546.3" cy="201.6" r="3.00"/><circle cx="544.0" cy="232.2" r="3.00"/><circle cx="545.5" cy="210.1" r="3.00"/><circle cx="549.8" cy="208.7" r="3.00"/><circle cx="541.5" cy="213.1" r="3.00"/><circle cx="542.8" cy="227.2" r="3.00"/><circle cx="544.5" cy="196.9" r="3.00"/><circle cx="544.3" cy="218.2" r="3.00"/><circle cx="545.3" cy="188.9" r="3.00"/><circle cx="547.9" cy="223.4" r="3.00"/><circle cx="543.7" cy="202.3" r="3.00"/><circle cx="551.1" cy="212.6" r="3.00"/><circle cx="547.4" cy="193.7" r="3.00"/><circle cx="546.5" cy="178.9" r="3.00"/><circle cx="544.5" cy="224.6" r="3.00"/><circle cx="543.4" cy="215.2" r="3.00"/><circle cx="548.0" cy="199.1" r="3.00"/><circle cx="545.2" cy="180.8" r="3.00"/><circle cx="548.7" cy="204.8" r="3.00"/><circle cx="545.7" cy="167.3" r="3.00"/><circle cx="546.6" cy="183.7" r="3.00"/><circle cx="547.5" cy="233.3" r="3.00"/><circle cx="546.5" cy="169.8" r="3.00"/><circle cx="546.3" cy="163.1" r="3.00"/><circle cx="546.2" cy="195.6" r="3.00"/><circle cx="551.5" cy="216.5" r="3.00"/><circle cx="545.4" cy="173.3" r="3.00"/><circle cx="548.0" cy="211.2" r="3.00"/><circle cx="546.6" cy="230.8" r="3.00"/><circle cx="542.4" cy="207.8" r="3.00"/><circle cx="545.1" cy="185.5" r="3.00"/><circle cx="545.0" cy="236.3" r="3.00"/><circle cx="547.0" cy="190.8" r="3.00"/><circle cx="546.5" cy="174.4" r="3.00"/><circle cx="540.6" cy="217.2" r="3.00"/><circle cx="549.3" cy="225.4" r="3.00"/><circle cx="542.1" cy="221.7" r="3.00"/><circle cx="545.4" cy="206.2" r="3.00"/><circle cx="548.6" cy="219.3" r="3.00"/><circle cx="545.5" cy="221.0" r="3.00"/><circle cx="546.0" cy="144.7" r="3.00"/></g>
<g stroke="#ff2418" opacity="0.9"><rect x="541.8" y="208.0" width="8.4" height="4.0" fill="#ff2418" fill-opacity="0.45" stroke="none"/><line x1="535.3" y1="210.0" x2="556.7" y2="210.0" stroke-width="2.4"/><line x1="546.0" y1="208.0" x2="546.0" y2="212.0" stroke-width="1.4"/><line x1="541.8" y1="208.0" x2="550.2" y2="208.0" stroke-width="1.2"/><line x1="541.8" y1="212.0" x2="550.2" y2="212.0" stroke-width="1.2"/></g>
<g fill="#5a0fa0" stroke="#150818" stroke-width="0.75"><circle cx="575.7" cy="167.6" r="3.00"/><circle cx="568.9" cy="210.2" r="3.00"/><circle cx="569.5" cy="158.0" r="3.00"/><circle cx="573.4" cy="173.7" r="3.00"/><circle cx="569.8" cy="151.6" r="3.00"/><circle cx="571.5" cy="116.0" r="3.00"/><circle cx="572.3" cy="127.2" r="3.00"/><circle cx="571.8" cy="146.7" r="3.00"/><circle cx="568.3" cy="171.4" r="3.00"/><circle cx="574.8" cy="198.8" r="3.00"/><circle cx="568.1" cy="197.4" r="3.00"/><circle cx="570.9" cy="130.9" r="3.00"/><circle cx="571.5" cy="139.2" r="3.00"/><circle cx="572.5" cy="184.3" r="3.00"/><circle cx="570.3" cy="189.0" r="3.00"/><circle cx="574.3" cy="157.3" r="3.00"/><circle cx="575.9" cy="209.2" r="3.00"/><circle cx="574.0" cy="149.5" r="3.00"/><circle cx="568.4" cy="181.1" r="3.00"/><circle cx="576.4" cy="191.1" r="3.00"/><circle cx="572.0" cy="112.7" r="3.00"/><circle cx="572.8" cy="194.4" r="3.00"/><circle cx="572.0" cy="206.9" r="3.00"/><circle cx="571.3" cy="123.2" r="3.00"/><circle cx="576.6" cy="178.6" r="3.00"/><circle cx="567.1" cy="192.0" r="3.00"/><circle cx="575.2" cy="153.2" r="3.00"/><circle cx="568.1" cy="176.1" r="3.00"/><circle cx="572.8" cy="180.1" r="3.00"/><circle cx="568.4" cy="201.9" r="3.00"/><circle cx="576.4" cy="196.3" r="3.00"/><circle cx="572.2" cy="213.3" r="3.00"/><circle cx="570.2" cy="192.7" r="3.00"/><circle cx="572.1" cy="153.9" r="3.00"/><circle cx="568.5" cy="155.1" r="3.00"/><circle cx="572.6" cy="160.4" r="3.00"/><circle cx="571.1" cy="199.6" r="3.00"/><circle cx="574.8" cy="212.0" r="3.00"/><circle cx="573.8" cy="140.6" r="3.00"/><circle cx="569.1" cy="148.0" r="3.00"/><circle cx="576.3" cy="181.9" r="3.00"/><circle cx="575.5" cy="205.3" r="3.00"/><circle cx="573.4" cy="190.0" r="3.00"/><circle cx="576.9" cy="186.2" r="3.00"/><circle cx="575.4" cy="159.3" r="3.00"/><circle cx="572.2" cy="170.4" r="3.00"/><circle cx="568.8" cy="166.4" r="3.00"/><circle cx="569.3" cy="169.1" r="3.00"/><circle cx="571.5" cy="176.8" r="3.00"/><circle cx="574.3" cy="145.6" r="3.00"/><circle cx="576.5" cy="200.7" r="3.00"/><circle cx="573.4" cy="138.0" r="3.00"/><circle cx="576.0" cy="172.4" r="3.00"/><circle cx="569.7" cy="143.5" r="3.00"/><circle cx="572.8" cy="132.2" r="3.00"/><circle cx="574.0" cy="177.8" r="3.00"/><circle cx="575.9" cy="163.4" r="3.00"/><circle cx="572.7" cy="165.7" r="3.00"/><circle cx="568.7" cy="214.6" r="3.00"/><circle cx="572.3" cy="120.8" r="3.00"/><circle cx="572.2" cy="203.3" r="3.00"/><circle cx="567.7" cy="162.0" r="3.00"/><circle cx="569.6" cy="204.5" r="3.00"/><circle cx="567.1" cy="185.9" r="3.00"/><circle cx="570.4" cy="164.1" r="3.00"/><circle cx="570.4" cy="135.8" r="3.00"/><circle cx="567.6" cy="207.7" r="3.00"/><circle cx="576.6" cy="174.9" r="3.00"/><circle cx="571.1" cy="126.0" r="3.00"/><circle cx="570.0" cy="195.4" r="3.00"/><circle cx="569.5" cy="183.8" r="3.00"/><circle cx="574.7" cy="187.6" r="3.00"/><circle cx="571.8" cy="223.0" r="3.00"/></g>
<g stroke="#ff2418" opacity="0.9"><rect x="567.6" y="176.0" width="8.4" height="6.0" fill="#ff2418" fill-opacity="0.45" stroke="none"/><line x1="561.1" y1="179.0" x2="582.5" y2="179.0" stroke-width="2.4"/><line x1="571.8" y1="176.0" x2="571.8" y2="182.0" stroke-width="1.4"/><line x1="567.6" y1="176.0" x2="576.0" y2="176.0" stroke-width="1.2"/><line x1="567.6" y1="182.0" x2="576.0" y2="182.0" stroke-width="1.2"/></g>
<g fill="#0c2cf2" stroke="#150818" stroke-width="0.75"><circle cx="621.7" cy="141.3" r="3.00"/><circle cx="621.4" cy="166.1" r="3.00"/><circle cx="625.9" cy="169.1" r="3.00"/><circle cx="619.8" cy="178.3" r="3.00"/><circle cx="624.9" cy="156.9" r="3.00"/><circle cx="623.7" cy="148.8" r="3.00"/><circle cx="623.0" cy="137.0" r="3.00"/><circle cx="623.6" cy="161.6" r="3.00"/><circle cx="624.8" cy="143.3" r="3.00"/><circle cx="620.7" cy="155.1" r="3.00"/><circle cx="624.7" cy="140.1" r="3.00"/><circle cx="623.8" cy="193.1" r="3.00"/><circle cx="621.4" cy="191.3" r="3.00"/><circle cx="627.4" cy="180.0" r="3.00"/><circle cx="621.9" cy="157.9" r="3.00"/><circle cx="626.1" cy="151.6" r="3.00"/><circle cx="621.0" cy="145.7" r="3.00"/><circle cx="620.5" cy="186.1" r="3.00"/><circle cx="626.1" cy="189.1" r="3.00"/><circle cx="624.3" cy="173.7" r="3.00"/><circle cx="625.6" cy="159.7" r="3.00"/><circle cx="623.3" cy="182.5" r="3.00"/><circle cx="625.6" cy="146.8" r="3.00"/><circle cx="623.4" cy="177.1" r="3.00"/><circle cx="623.3" cy="153.2" r="3.00"/><circle cx="623.9" cy="167.3" r="3.00"/><circle cx="620.6" cy="150.7" r="3.00"/><circle cx="618.4" cy="181.6" r="3.00"/><circle cx="624.8" cy="179.1" r="3.00"/><circle cx="620.1" cy="172.2" r="3.00"/><circle cx="623.7" cy="187.4" r="3.00"/><circle cx="621.6" cy="174.7" r="3.00"/><circle cx="622.5" cy="170.1" r="3.00"/><circle cx="625.4" cy="163.5" r="3.00"/><circle cx="626.8" cy="185.1" r="3.00"/><circle cx="622.0" cy="194.4" r="3.00"/><circle cx="627.6" cy="176.2" r="3.00"/><circle cx="619.4" cy="184.1" r="3.00"/><circle cx="623.3" cy="93.2" r="3.00"/><circle cx="623.3" cy="102.8" r="3.00"/><circle cx="623.3" cy="127.5" r="3.00"/><circle cx="623.3" cy="206.8" r="3.00"/></g>
<g stroke="#ff2418" opacity="0.9"><rect x="619.1" y="165.1" width="8.4" height="6.0" fill="#ff2418" fill-opacity="0.45" stroke="none"/><line x1="612.6" y1="168.1" x2="634.0" y2="168.1" stroke-width="2.4"/><line x1="623.3" y1="165.1" x2="623.3" y2="171.1" stroke-width="1.4"/><line x1="619.1" y1="165.1" x2="627.5" y2="165.1" stroke-width="1.2"/><line x1="619.1" y1="171.1" x2="627.5" y2="171.1" stroke-width="1.2"/></g>
<g fill="#0c2cf2" stroke="#150818" stroke-width="0.75"><circle cx="650.4" cy="203.3" r="3.00"/><circle cx="647.3" cy="206.6" r="3.00"/><circle cx="649.2" cy="217.5" r="3.00"/><circle cx="647.7" cy="200.6" r="3.00"/><circle cx="650.7" cy="226.6" r="3.00"/><circle cx="645.1" cy="224.7" r="3.00"/><circle cx="651.5" cy="208.8" r="3.00"/><circle cx="645.4" cy="214.4" r="3.00"/><circle cx="649.6" cy="207.6" r="3.00"/><circle cx="653.2" cy="220.7" r="3.00"/><circle cx="651.5" cy="213.5" r="3.00"/><circle cx="653.5" cy="224.1" r="3.00"/><circle cx="647.8" cy="211.2" r="3.00"/><circle cx="644.4" cy="219.8" r="3.00"/><circle cx="648.5" cy="204.7" r="3.00"/><circle cx="645.3" cy="211.9" r="3.00"/><circle cx="653.5" cy="216.2" r="3.00"/><circle cx="649.2" cy="222.5" r="3.00"/><circle cx="646.6" cy="217.9" r="3.00"/><circle cx="646.5" cy="221.8" r="3.00"/><circle cx="649.0" cy="185.7" r="3.00"/></g>
<g stroke="#ff2418" opacity="0.9"><rect x="644.8" y="214.3" width="8.4" height="4.0" fill="#ff2418" fill-opacity="0.45" stroke="none"/><line x1="638.3" y1="216.3" x2="659.7" y2="216.3" stroke-width="2.4"/><line x1="649.0" y1="214.3" x2="649.0" y2="218.3" stroke-width="1.4"/><line x1="644.8" y1="214.3" x2="653.2" y2="214.3" stroke-width="1.2"/><line x1="644.8" y1="218.3" x2="653.2" y2="218.3" stroke-width="1.2"/></g>
<g fill="#0c2cf2" stroke="#150818" stroke-width="0.75"><circle cx="672.0" cy="208.6" r="3.00"/><circle cx="674.3" cy="203.5" r="3.00"/><circle cx="677.2" cy="205.7" r="3.00"/><circle cx="674.0" cy="194.3" r="3.00"/><circle cx="673.1" cy="166.3" r="3.00"/><circle cx="674.2" cy="188.7" r="3.00"/><circle cx="678.1" cy="196.1" r="3.00"/><circle cx="670.7" cy="202.3" r="3.00"/><circle cx="673.2" cy="181.0" r="3.00"/><circle cx="675.9" cy="199.7" r="3.00"/><circle cx="670.9" cy="193.2" r="3.00"/><circle cx="677.9" cy="186.3" r="3.00"/><circle cx="677.9" cy="191.6" r="3.00"/><circle cx="674.7" cy="206.9" r="3.00"/><circle cx="674.6" cy="172.7" r="3.00"/><circle cx="672.4" cy="175.6" r="3.00"/><circle cx="676.5" cy="173.9" r="3.00"/><circle cx="675.3" cy="177.0" r="3.00"/><circle cx="671.3" cy="196.7" r="3.00"/><circle cx="676.7" cy="209.9" r="3.00"/><circle cx="671.0" cy="187.3" r="3.00"/><circle cx="672.6" cy="169.7" r="3.00"/><circle cx="671.1" cy="183.7" r="3.00"/><circle cx="670.9" cy="190.1" r="3.00"/><circle cx="677.4" cy="181.8" r="3.00"/><circle cx="674.7" cy="184.4" r="3.00"/><circle cx="676.0" cy="168.2" r="3.00"/><circle cx="673.0" cy="198.8" r="3.00"/><circle cx="677.7" cy="201.4" r="3.00"/><circle cx="671.6" cy="178.7" r="3.00"/><circle cx="673.4" cy="212.0" r="3.00"/><circle cx="674.4" cy="113.0" r="3.00"/><circle cx="674.4" cy="121.4" r="3.00"/><circle cx="674.4" cy="134.2" r="3.00"/><circle cx="674.4" cy="145.0" r="3.00"/><circle cx="674.4" cy="154.0" r="3.00"/><circle cx="674.4" cy="221.7" r="3.00"/><circle cx="674.4" cy="229.0" r="3.00"/></g>
<g stroke="#ff2418" opacity="0.9"><rect x="670.2" y="180.3" width="8.4" height="6.0" fill="#ff2418" fill-opacity="0.45" stroke="none"/><line x1="663.7" y1="183.3" x2="685.1" y2="183.3" stroke-width="2.4"/><line x1="674.4" y1="180.3" x2="674.4" y2="186.3" stroke-width="1.4"/><line x1="670.2" y1="180.3" x2="678.6" y2="180.3" stroke-width="1.2"/><line x1="670.2" y1="186.3" x2="678.6" y2="186.3" stroke-width="1.2"/></g>
<g fill="#ff9612" stroke="#150818" stroke-width="0.75"><circle cx="726.4" cy="224.3" r="3.00"/><circle cx="726.3" cy="186.5" r="3.00"/><circle cx="722.7" cy="225.0" r="3.00"/><circle cx="724.2" cy="170.6" r="3.00"/><circle cx="726.0" cy="161.6" r="3.00"/><circle cx="723.5" cy="199.4" r="3.00"/><circle cx="729.4" cy="222.1" r="3.00"/><circle cx="726.9" cy="202.8" r="3.00"/><circle cx="729.3" cy="191.3" r="3.00"/><circle cx="724.1" cy="215.7" r="3.00"/><circle cx="730.5" cy="206.1" r="3.00"/><circle cx="729.4" cy="197.2" r="3.00"/><circle cx="722.2" cy="207.9" r="3.00"/><circle cx="726.0" cy="155.1" r="3.00"/><circle cx="724.8" cy="178.5" r="3.00"/><circle cx="730.5" cy="201.6" r="3.00"/><circle cx="729.4" cy="173.4" r="3.00"/><circle cx="721.2" cy="176.1" r="3.00"/><circle cx="729.1" cy="179.7" r="3.00"/><circle cx="727.1" cy="167.1" r="3.00"/><circle cx="730.9" cy="177.0" r="3.00"/><circle cx="729.4" cy="212.6" r="3.00"/><circle cx="725.6" cy="197.5" r="3.00"/><circle cx="725.2" cy="174.8" r="3.00"/><circle cx="721.8" cy="182.1" r="3.00"/><circle cx="726.0" cy="208.9" r="3.00"/><circle cx="724.2" cy="205.1" r="3.00"/><circle cx="728.5" cy="217.1" r="3.00"/><circle cx="729.9" cy="184.6" r="3.00"/><circle cx="722.1" cy="190.3" r="3.00"/><circle cx="722.7" cy="194.3" r="3.00"/><circle cx="727.0" cy="214.9" r="3.00"/><circle cx="722.2" cy="219.5" r="3.00"/><circle cx="728.8" cy="188.3" r="3.00"/><circle cx="727.9" cy="199.8" r="3.00"/><circle cx="721.4" cy="203.6" r="3.00"/><circle cx="727.0" cy="171.6" r="3.00"/><circle cx="721.7" cy="213.4" r="3.00"/><circle cx="726.7" cy="183.1" r="3.00"/><circle cx="726.7" cy="193.5" r="3.00"/><circle cx="727.8" cy="195.8" r="3.00"/><circle cx="725.4" cy="221.2" r="3.00"/><circle cx="726.2" cy="218.8" r="3.00"/><circle cx="724.6" cy="166.0" r="3.00"/><circle cx="724.7" cy="188.8" r="3.00"/><circle cx="725.3" cy="168.6" r="3.00"/><circle cx="726.0" cy="145.2" r="3.00"/><circle cx="726.2" cy="152.7" r="3.00"/><circle cx="726.1" cy="148.1" r="3.00"/><circle cx="724.0" cy="211.4" r="3.00"/><circle cx="728.2" cy="207.0" r="3.00"/><circle cx="726.2" cy="160.3" r="3.00"/><circle cx="722.7" cy="185.7" r="3.00"/><circle cx="730.6" cy="209.9" r="3.00"/><circle cx="726.1" cy="180.6" r="3.00"/><circle cx="722.8" cy="174.2" r="3.00"/></g>
<g stroke="#ff2418" opacity="0.9"><rect x="721.8" y="191.7" width="8.4" height="6.0" fill="#ff2418" fill-opacity="0.45" stroke="none"/><line x1="715.3" y1="194.7" x2="736.7" y2="194.7" stroke-width="2.4"/><line x1="726.0" y1="191.7" x2="726.0" y2="197.7" stroke-width="1.4"/><line x1="721.8" y1="191.7" x2="730.2" y2="191.7" stroke-width="1.2"/><line x1="721.8" y1="197.7" x2="730.2" y2="197.7" stroke-width="1.2"/></g>
<g fill="#ff9612" stroke="#150818" stroke-width="0.75"><circle cx="751.2" cy="209.3" r="3.00"/><circle cx="753.1" cy="222.3" r="3.00"/><circle cx="749.4" cy="219.8" r="3.00"/><circle cx="747.7" cy="212.8" r="3.00"/><circle cx="755.6" cy="208.2" r="3.00"/><circle cx="752.0" cy="202.5" r="3.00"/><circle cx="748.1" cy="226.4" r="3.00"/><circle cx="749.6" cy="196.1" r="3.00"/><circle cx="748.0" cy="203.3" r="3.00"/><circle cx="750.1" cy="189.4" r="3.00"/><circle cx="751.0" cy="182.4" r="3.00"/><circle cx="753.2" cy="190.4" r="3.00"/><circle cx="753.9" cy="197.3" r="3.00"/><circle cx="750.8" cy="224.5" r="3.00"/><circle cx="755.7" cy="220.6" r="3.00"/><circle cx="751.5" cy="231.4" r="3.00"/><circle cx="754.2" cy="227.3" r="3.00"/><circle cx="752.3" cy="184.7" r="3.00"/><circle cx="751.8" cy="179.4" r="3.00"/><circle cx="755.7" cy="213.8" r="3.00"/><circle cx="753.4" cy="217.8" r="3.00"/><circle cx="751.4" cy="219.3" r="3.00"/><circle cx="751.9" cy="214.8" r="3.00"/><circle cx="749.0" cy="229.4" r="3.00"/><circle cx="752.2" cy="195.1" r="3.00"/><circle cx="753.8" cy="210.3" r="3.00"/><circle cx="745.8" cy="216.6" r="3.00"/><circle cx="754.4" cy="200.7" r="3.00"/><circle cx="747.4" cy="223.7" r="3.00"/><circle cx="750.0" cy="232.8" r="3.00"/><circle cx="755.2" cy="204.2" r="3.00"/><circle cx="749.0" cy="193.3" r="3.00"/><circle cx="750.2" cy="186.6" r="3.00"/><circle cx="749.8" cy="211.4" r="3.00"/><circle cx="749.1" cy="215.6" r="3.00"/><circle cx="750.5" cy="205.4" r="3.00"/><circle cx="747.7" cy="207.4" r="3.00"/><circle cx="748.3" cy="199.5" r="3.00"/></g>
<g stroke="#ff2418" opacity="0.9"><rect x="747.1" y="206.3" width="8.4" height="4.0" fill="#ff2418" fill-opacity="0.45" stroke="none"/><line x1="740.6" y1="208.3" x2="762.0" y2="208.3" stroke-width="2.4"/><line x1="751.3" y1="206.3" x2="751.3" y2="210.3" stroke-width="1.4"/><line x1="747.1" y1="206.3" x2="755.5" y2="206.3" stroke-width="1.2"/><line x1="747.1" y1="210.3" x2="755.5" y2="210.3" stroke-width="1.2"/></g>
<g fill="#ff9612" stroke="#150818" stroke-width="0.75"><circle cx="781.2" cy="213.1" r="3.00"/><circle cx="776.5" cy="177.5" r="3.00"/><circle cx="774.9" cy="192.3" r="3.00"/><circle cx="774.7" cy="209.5" r="3.00"/><circle cx="779.3" cy="190.4" r="3.00"/><circle cx="773.4" cy="188.0" r="3.00"/><circle cx="778.8" cy="206.5" r="3.00"/><circle cx="772.2" cy="197.0" r="3.00"/><circle cx="779.0" cy="176.2" r="3.00"/><circle cx="783.0" cy="193.2" r="3.00"/><circle cx="781.4" cy="186.6" r="3.00"/><circle cx="779.8" cy="180.7" r="3.00"/><circle cx="773.3" cy="204.6" r="3.00"/><circle cx="777.1" cy="172.8" r="3.00"/><circle cx="777.7" cy="217.7" r="3.00"/><circle cx="778.0" cy="170.1" r="3.00"/><circle cx="781.4" cy="197.5" r="3.00"/><circle cx="775.1" cy="220.2" r="3.00"/><circle cx="776.8" cy="196.0" r="3.00"/><circle cx="778.9" cy="222.6" r="3.00"/><circle cx="777.4" cy="165.9" r="3.00"/><circle cx="775.0" cy="199.3" r="3.00"/><circle cx="778.1" cy="210.9" r="3.00"/><circle cx="774.6" cy="183.0" r="3.00"/><circle cx="776.8" cy="226.6" r="3.00"/><circle cx="777.7" cy="162.3" r="3.00"/><circle cx="782.7" cy="207.6" r="3.00"/><circle cx="772.3" cy="211.5" r="3.00"/><circle cx="783.3" cy="203.8" r="3.00"/><circle cx="777.6" cy="185.8" r="3.00"/><circle cx="776.3" cy="205.3" r="3.00"/><circle cx="780.5" cy="218.9" r="3.00"/><circle cx="776.4" cy="189.2" r="3.00"/><circle cx="779.0" cy="201.2" r="3.00"/><circle cx="779.7" cy="194.9" r="3.00"/><circle cx="775.6" cy="214.0" r="3.00"/><circle cx="777.8" cy="198.7" r="3.00"/><circle cx="778.3" cy="178.9" r="3.00"/><circle cx="771.9" cy="208.3" r="3.00"/><circle cx="772.7" cy="191.3" r="3.00"/><circle cx="778.6" cy="214.6" r="3.00"/><circle cx="774.3" cy="216.6" r="3.00"/><circle cx="772.1" cy="200.3" r="3.00"/><circle cx="776.1" cy="223.9" r="3.00"/><circle cx="775.2" cy="202.4" r="3.00"/><circle cx="779.9" cy="184.7" r="3.00"/></g>
<g stroke="#ff2418" opacity="0.9"><rect x="773.4" y="196.4" width="8.4" height="6.0" fill="#ff2418" fill-opacity="0.45" stroke="none"/><line x1="766.9" y1="199.4" x2="788.3" y2="199.4" stroke-width="2.4"/><line x1="777.6" y1="196.4" x2="777.6" y2="202.4" stroke-width="1.4"/><line x1="773.4" y1="196.4" x2="781.8" y2="196.4" stroke-width="1.2"/><line x1="773.4" y1="202.4" x2="781.8" y2="202.4" stroke-width="1.2"/></g>
<text x="55.78" y="288.97" font-size="26.24" font-weight="bold" fill="#000" stroke="#000" stroke-width="0.45" textLength="58.04" lengthAdjust="spacingAndGlyphs">PI3K</text>
<text x="115.04" y="291.67" font-size="14.20" font-weight="bold" fill="#000" stroke="#000" stroke-width="0.45" textLength="2.33" lengthAdjust="spacingAndGlyphs">i</text>
<rect x="120.80" y="275.00" width="4.80" height="4.80" fill="#000" rx="0.8"/>
<rect x="120.80" y="284.70" width="4.80" height="4.80" fill="#000" rx="0.8"/>
<text x="37.98" y="315.38" font-size="26.24" font-weight="bold" fill="#000" stroke="#000" stroke-width="0.45" textLength="76.44" lengthAdjust="spacingAndGlyphs">AMPK</text>
<text x="115.64" y="317.67" font-size="14.20" font-weight="bold" fill="#000" stroke="#000" stroke-width="0.45" textLength="2.33" lengthAdjust="spacingAndGlyphs">i</text>
<rect x="120.80" y="302.00" width="4.80" height="4.80" fill="#000" rx="0.8"/>
<rect x="120.80" y="311.10" width="4.80" height="4.80" fill="#000" rx="0.8"/>
<rect x="129.95" y="280.30" width="12.50" height="4.00" fill="#000" />
<rect x="153.60" y="280.50" width="16.60" height="3.60" fill="#000" />
<rect x="160.10" y="274.00" width="3.60" height="16.60" fill="#000" />
<rect x="179.30" y="280.50" width="16.60" height="3.60" fill="#000" />
<rect x="185.80" y="274.00" width="3.60" height="16.60" fill="#000" />
<rect x="232.75" y="280.30" width="12.50" height="4.00" fill="#000" />
<rect x="256.90" y="280.50" width="16.60" height="3.60" fill="#000" />
<rect x="263.40" y="274.00" width="3.60" height="16.60" fill="#000" />
<rect x="282.30" y="280.50" width="16.60" height="3.60" fill="#000" />
<rect x="288.80" y="274.00" width="3.60" height="16.60" fill="#000" />
<rect x="335.75" y="280.30" width="12.50" height="4.00" fill="#000" />
<rect x="359.40" y="280.50" width="16.60" height="3.60" fill="#000" />
<rect x="365.90" y="274.00" width="3.60" height="16.60" fill="#000" />
<rect x="384.60" y="280.50" width="16.60" height="3.60" fill="#000" />
<rect x="391.10" y="274.00" width="3.60" height="16.60" fill="#000" />
<rect x="129.95" y="307.30" width="12.50" height="4.00" fill="#000" />
<rect x="155.45" y="307.30" width="12.50" height="4.00" fill="#000" />
<rect x="179.30" y="307.50" width="16.60" height="3.60" fill="#000" />
<rect x="185.80" y="301.00" width="3.60" height="16.60" fill="#000" />
<rect x="232.75" y="307.30" width="12.50" height="4.00" fill="#000" />
<rect x="258.75" y="307.30" width="12.50" height="4.00" fill="#000" />
<rect x="282.30" y="307.50" width="16.60" height="3.60" fill="#000" />
<rect x="288.80" y="301.00" width="3.60" height="16.60" fill="#000" />
<rect x="335.75" y="307.30" width="12.50" height="4.00" fill="#000" />
<rect x="361.25" y="307.30" width="12.50" height="4.00" fill="#000" />
<rect x="384.60" y="307.50" width="16.60" height="3.60" fill="#000" />
<rect x="391.10" y="301.00" width="3.60" height="16.60" fill="#000" />
<text x="440.99" y="287.88" font-size="25.51" font-weight="bold" fill="#000" stroke="#000" stroke-width="0.45" textLength="18.73" lengthAdjust="spacingAndGlyphs">H</text>
<text x="460.01" y="290.47" font-size="13.60" font-weight="bold" fill="#000" stroke="#000" stroke-width="0.45" textLength="8.26" lengthAdjust="spacingAndGlyphs">2</text>
<text x="469.86" y="288.38" font-size="26.53" font-weight="bold" fill="#000" stroke="#000" stroke-width="0.45" textLength="20.21" lengthAdjust="spacingAndGlyphs">O</text>
<text x="490.55" y="290.47" font-size="13.60" font-weight="bold" fill="#000" stroke="#000" stroke-width="0.45" textLength="7.57" lengthAdjust="spacingAndGlyphs">2</text>
<rect x="502.00" y="274.40" width="4.80" height="4.80" fill="#000" rx="0.8"/>
<rect x="502.00" y="283.60" width="4.80" height="4.80" fill="#000" rx="0.8"/>
<text x="419.68" y="314.88" font-size="26.38" font-weight="bold" fill="#000" stroke="#000" stroke-width="0.45" textLength="75.83" lengthAdjust="spacingAndGlyphs">AMPK</text>
<text x="497.14" y="317.67" font-size="14.20" font-weight="bold" fill="#000" stroke="#000" stroke-width="0.45" textLength="2.33" lengthAdjust="spacingAndGlyphs">i</text>
<rect x="503.70" y="302.00" width="4.20" height="4.20" fill="#000" rx="0.8"/>
<rect x="503.70" y="311.20" width="4.20" height="4.20" fill="#000" rx="0.8"/>
<rect x="514.95" y="282.60" width="12.50" height="4.00" fill="#000" />
<rect x="535.40" y="282.80" width="16.60" height="3.60" fill="#000" />
<rect x="541.90" y="276.30" width="3.60" height="16.60" fill="#000" />
<rect x="560.60" y="282.80" width="16.60" height="3.60" fill="#000" />
<rect x="567.10" y="276.30" width="3.60" height="16.60" fill="#000" />
<rect x="615.45" y="282.60" width="12.50" height="4.00" fill="#000" />
<rect x="639.20" y="282.80" width="16.60" height="3.60" fill="#000" />
<rect x="645.70" y="276.30" width="3.60" height="16.60" fill="#000" />
<rect x="664.90" y="282.80" width="16.60" height="3.60" fill="#000" />
<rect x="671.40" y="276.30" width="3.60" height="16.60" fill="#000" />
<rect x="719.75" y="282.60" width="12.50" height="4.00" fill="#000" />
<rect x="742.30" y="282.80" width="16.60" height="3.60" fill="#000" />
<rect x="748.80" y="276.30" width="3.60" height="16.60" fill="#000" />
<rect x="769.20" y="282.80" width="16.60" height="3.60" fill="#000" />
<rect x="775.70" y="276.30" width="3.60" height="16.60" fill="#000" />
<rect x="514.95" y="309.60" width="12.50" height="4.00" fill="#000" />
<rect x="537.45" y="309.60" width="12.50" height="4.00" fill="#000" />
<rect x="560.60" y="309.80" width="16.60" height="3.60" fill="#000" />
<rect x="567.10" y="303.30" width="3.60" height="16.60" fill="#000" />
<rect x="615.45" y="309.60" width="12.50" height="4.00" fill="#000" />
<rect x="641.25" y="309.60" width="12.50" height="4.00" fill="#000" />
<rect x="664.90" y="309.80" width="16.60" height="3.60" fill="#000" />
<rect x="671.40" y="303.30" width="3.60" height="16.60" fill="#000" />
<rect x="719.75" y="309.60" width="12.50" height="4.00" fill="#000" />
<rect x="744.35" y="309.60" width="12.50" height="4.00" fill="#000" />
<rect x="769.20" y="309.80" width="16.60" height="3.60" fill="#000" />
<rect x="775.70" y="303.30" width="3.60" height="16.60" fill="#000" />
<text x="3.46" y="354.97" font-size="46.87" font-weight="bold" fill="#000" stroke="#000" stroke-width="0.45" textLength="32.03" lengthAdjust="spacingAndGlyphs">B</text>
<text x="149.36" y="375.57" font-size="25.94" font-weight="bold" fill="#000" stroke="#000" stroke-width="0.45" textLength="77.61" lengthAdjust="spacingAndGlyphs">FoxO1</text>
<text x="316.68" y="375.57" font-size="25.94" font-weight="bold" fill="#000" stroke="#000" stroke-width="0.45" textLength="95.83" lengthAdjust="spacingAndGlyphs">FoxO3a</text>
<text x="497.97" y="375.57" font-size="25.94" font-weight="bold" fill="#000" stroke="#000" stroke-width="0.45" textLength="81.44" lengthAdjust="spacingAndGlyphs">FoxO4</text>
<text x="176.89" y="393.15" font-size="24.24" font-weight="normal" fill="#000" stroke="#000" stroke-width="0.50" textLength="26.47" lengthAdjust="spacingAndGlyphs">ns</text>
<text x="350.00" y="413.05" font-size="24.24" font-weight="normal" fill="#000" stroke="#000" stroke-width="0.50" textLength="27.91" lengthAdjust="spacingAndGlyphs">ns</text>
<text x="521.86" y="438.15" font-size="24.05" font-weight="normal" fill="#000" stroke="#000" stroke-width="0.50" textLength="26.80" lengthAdjust="spacingAndGlyphs">ns</text>
<line x1="135.00" y1="399.20" x2="252.60" y2="399.20" stroke="#222" stroke-width="1.80"/>
<line x1="309.30" y1="418.20" x2="426.50" y2="418.20" stroke="#222" stroke-width="1.80"/>
<line x1="480.40" y1="442.20" x2="597.60" y2="442.20" stroke="#222" stroke-width="1.80"/>
<text x="59.44" y="405.67" font-size="13.44" font-weight="bold" fill="#000" stroke="#000" stroke-width="0.45" textLength="37.29" lengthAdjust="spacingAndGlyphs">Cyto</text>
<text x="56.11" y="575.48" font-size="15.77" font-weight="bold" fill="#000" stroke="#000" stroke-width="0.45" textLength="31.45" lengthAdjust="spacingAndGlyphs">Nuc</text>
<polygon points="102.10,397.80 102.10,582.50 92.00,582.50" fill="#efefef" stroke="#111" stroke-width="1.4" stroke-linejoin="miter"/>
<line x1="114.90" y1="397.40" x2="114.90" y2="582.60" stroke="#000" stroke-width="2.30"/>
<line x1="105.80" y1="459.40" x2="114.90" y2="459.40" stroke="#000" stroke-width="2.00"/>
<line x1="105.80" y1="520.30" x2="114.90" y2="520.30" stroke="#000" stroke-width="2.00"/>
<line x1="105.80" y1="398.40" x2="116.00" y2="398.40" stroke="#000" stroke-width="2.00"/>
<line x1="104.00" y1="581.50" x2="617.70" y2="581.50" stroke="#000" stroke-width="2.30"/>
<line x1="134.00" y1="581.50" x2="134.00" y2="591.00" stroke="#000" stroke-width="2.00"/>
<line x1="162.80" y1="581.50" x2="162.80" y2="591.00" stroke="#000" stroke-width="2.00"/>
<line x1="191.60" y1="581.50" x2="191.60" y2="591.00" stroke="#000" stroke-width="2.00"/>
<line x1="220.50" y1="581.50" x2="220.50" y2="591.00" stroke="#000" stroke-width="2.00"/>
<line x1="249.30" y1="581.50" x2="249.30" y2="591.00" stroke="#000" stroke-width="2.00"/>
<line x1="307.20" y1="581.50" x2="307.20" y2="591.00" stroke="#000" stroke-width="2.00"/>
<line x1="336.20" y1="581.50" x2="336.20" y2="591.00" stroke="#000" stroke-width="2.00"/>
<line x1="365.00" y1="581.50" x2="365.00" y2="591.00" stroke="#000" stroke-width="2.00"/>
<line x1="394.00" y1="581.50" x2="394.00" y2="591.00" stroke="#000" stroke-width="2.00"/>
<line x1="423.00" y1="581.50" x2="423.00" y2="591.00" stroke="#000" stroke-width="2.00"/>
<line x1="480.60" y1="581.50" x2="480.60" y2="591.00" stroke="#000" stroke-width="2.00"/>
<line x1="509.60" y1="581.50" x2="509.60" y2="591.00" stroke="#000" stroke-width="2.00"/>
<line x1="538.80" y1="581.50" x2="538.80" y2="591.00" stroke="#000" stroke-width="2.00"/>
<line x1="567.70" y1="581.50" x2="567.70" y2="591.00" stroke="#000" stroke-width="2.00"/>
<line x1="596.90" y1="581.50" x2="596.90" y2="591.00" stroke="#000" stroke-width="2.00"/>
<line x1="278.00" y1="581.50" x2="278.00" y2="591.00" stroke="#000" stroke-width="2.00"/>
<line x1="451.60" y1="581.50" x2="451.60" y2="591.00" stroke="#000" stroke-width="2.00"/>
<g fill="#5a0fa0" stroke="#150818" stroke-width="0.75"><circle cx="132.4" cy="513.1" r="3.00"/><circle cx="132.6" cy="452.6" r="3.00"/><circle cx="132.3" cy="526.3" r="3.00"/><circle cx="134.5" cy="449.9" r="3.00"/><circle cx="133.8" cy="460.3" r="3.00"/><circle cx="132.1" cy="461.9" r="3.00"/><circle cx="132.3" cy="457.1" r="3.00"/><circle cx="134.0" cy="445.2" r="3.00"/><circle cx="135.2" cy="485.4" r="3.00"/><circle cx="130.5" cy="494.9" r="3.00"/><circle cx="129.5" cy="487.6" r="3.00"/><circle cx="138.1" cy="486.1" r="3.00"/><circle cx="135.2" cy="464.1" r="3.00"/><circle cx="133.0" cy="474.4" r="3.00"/><circle cx="135.2" cy="518.6" r="3.00"/><circle cx="128.9" cy="503.3" r="3.00"/><circle cx="136.3" cy="472.8" r="3.00"/><circle cx="136.3" cy="477.2" r="3.00"/><circle cx="131.2" cy="480.4" r="3.00"/><circle cx="134.6" cy="489.6" r="3.00"/><circle cx="133.9" cy="541.9" r="3.00"/><circle cx="133.9" cy="479.1" r="3.00"/><circle cx="132.8" cy="447.9" r="3.00"/><circle cx="131.7" cy="466.1" r="3.00"/><circle cx="131.0" cy="471.5" r="3.00"/><circle cx="134.4" cy="469.6" r="3.00"/><circle cx="134.9" cy="505.8" r="3.00"/><circle cx="135.3" cy="527.9" r="3.00"/><circle cx="135.3" cy="523.6" r="3.00"/><circle cx="137.1" cy="488.6" r="3.00"/><circle cx="128.1" cy="490.7" r="3.00"/><circle cx="132.7" cy="498.9" r="3.00"/><circle cx="132.8" cy="532.6" r="3.00"/><circle cx="135.1" cy="475.5" r="3.00"/><circle cx="132.1" cy="544.3" r="3.00"/><circle cx="137.4" cy="510.8" r="3.00"/><circle cx="134.5" cy="454.9" r="3.00"/><circle cx="131.9" cy="529.9" r="3.00"/><circle cx="138.3" cy="501.1" r="3.00"/><circle cx="129.4" cy="508.8" r="3.00"/><circle cx="137.5" cy="483.0" r="3.00"/><circle cx="133.7" cy="509.6" r="3.00"/><circle cx="127.6" cy="499.9" r="3.00"/><circle cx="132.1" cy="503.8" r="3.00"/><circle cx="136.2" cy="515.0" r="3.00"/><circle cx="135.3" cy="536.1" r="3.00"/><circle cx="132.0" cy="522.4" r="3.00"/><circle cx="139.1" cy="491.9" r="3.00"/><circle cx="135.4" cy="495.3" r="3.00"/><circle cx="133.7" cy="520.6" r="3.00"/><circle cx="138.6" cy="504.7" r="3.00"/><circle cx="135.6" cy="481.2" r="3.00"/><circle cx="130.9" cy="516.5" r="3.00"/><circle cx="131.3" cy="484.3" r="3.00"/><circle cx="139.7" cy="497.9" r="3.00"/><circle cx="127.8" cy="493.7" r="3.00"/><circle cx="127.9" cy="497.0" r="3.00"/><circle cx="135.1" cy="533.8" r="3.00"/><circle cx="131.9" cy="506.9" r="3.00"/><circle cx="135.2" cy="502.0" r="3.00"/><circle cx="137.4" cy="496.6" r="3.00"/><circle cx="130.0" cy="512.0" r="3.00"/><circle cx="132.0" cy="537.6" r="3.00"/><circle cx="132.0" cy="540.5" r="3.00"/><circle cx="135.6" cy="467.6" r="3.00"/><circle cx="133.1" cy="492.6" r="3.00"/><circle cx="133.6" cy="411.7" r="3.00"/><circle cx="133.6" cy="436.2" r="3.00"/></g>
<g stroke="#ff2418" opacity="0.9"><rect x="129.4" y="487.5" width="8.4" height="6.0" fill="#ff2418" fill-opacity="0.45" stroke="none"/><line x1="122.9" y1="490.5" x2="144.3" y2="490.5" stroke-width="2.4"/><line x1="133.6" y1="487.5" x2="133.6" y2="493.5" stroke-width="1.4"/><line x1="129.4" y1="487.5" x2="137.8" y2="487.5" stroke-width="1.2"/><line x1="129.4" y1="493.5" x2="137.8" y2="493.5" stroke-width="1.2"/></g>
<g fill="#5a0fa0" stroke="#150818" stroke-width="0.75"><circle cx="164.7" cy="551.6" r="3.00"/><circle cx="168.3" cy="560.2" r="3.00"/><circle cx="163.5" cy="541.2" r="3.00"/><circle cx="165.4" cy="564.7" r="3.00"/><circle cx="160.2" cy="545.1" r="3.00"/><circle cx="162.0" cy="559.4" r="3.00"/><circle cx="157.3" cy="549.4" r="3.00"/><circle cx="165.1" cy="543.3" r="3.00"/><circle cx="160.7" cy="565.6" r="3.00"/><circle cx="157.9" cy="555.9" r="3.00"/><circle cx="157.8" cy="562.4" r="3.00"/><circle cx="162.6" cy="562.9" r="3.00"/><circle cx="163.7" cy="568.6" r="3.00"/><circle cx="166.3" cy="556.7" r="3.00"/><circle cx="165.4" cy="567.3" r="3.00"/><circle cx="162.4" cy="574.1" r="3.00"/><circle cx="162.2" cy="555.1" r="3.00"/><circle cx="168.8" cy="554.0" r="3.00"/><circle cx="156.2" cy="553.1" r="3.00"/><circle cx="160.0" cy="570.0" r="3.00"/><circle cx="160.7" cy="539.8" r="3.00"/><circle cx="166.9" cy="547.6" r="3.00"/><circle cx="159.7" cy="552.6" r="3.00"/><circle cx="160.3" cy="557.2" r="3.00"/><circle cx="163.0" cy="548.1" r="3.00"/><circle cx="165.4" cy="561.0" r="3.00"/><circle cx="164.1" cy="571.7" r="3.00"/><circle cx="167.6" cy="550.5" r="3.00"/><circle cx="156.7" cy="558.5" r="3.00"/><circle cx="164.5" cy="545.8" r="3.00"/><circle cx="162.4" cy="517.0" r="3.00"/><circle cx="162.4" cy="532.9" r="3.00"/></g>
<g stroke="#ff2418" opacity="0.9"><rect x="158.2" y="553.3" width="8.4" height="4.0" fill="#ff2418" fill-opacity="0.45" stroke="none"/><line x1="151.7" y1="555.3" x2="173.1" y2="555.3" stroke-width="2.4"/><line x1="162.4" y1="553.3" x2="162.4" y2="557.3" stroke-width="1.4"/><line x1="158.2" y1="553.3" x2="166.6" y2="553.3" stroke-width="1.2"/><line x1="158.2" y1="557.3" x2="166.6" y2="557.3" stroke-width="1.2"/></g>
<g fill="#5a0fa0" stroke="#150818" stroke-width="0.75"><circle cx="190.5" cy="522.6" r="3.00"/><circle cx="193.7" cy="553.3" r="3.00"/><circle cx="188.4" cy="554.7" r="3.00"/><circle cx="190.7" cy="533.8" r="3.00"/><circle cx="193.2" cy="545.7" r="3.00"/><circle cx="191.8" cy="513.6" r="3.00"/><circle cx="191.6" cy="507.2" r="3.00"/><circle cx="191.9" cy="557.1" r="3.00"/><circle cx="192.9" cy="521.6" r="3.00"/><circle cx="190.4" cy="517.8" r="3.00"/><circle cx="195.3" cy="535.8" r="3.00"/><circle cx="192.4" cy="527.3" r="3.00"/><circle cx="192.6" cy="539.6" r="3.00"/><circle cx="191.8" cy="499.9" r="3.00"/><circle cx="185.8" cy="543.1" r="3.00"/><circle cx="188.4" cy="530.5" r="3.00"/><circle cx="188.3" cy="549.6" r="3.00"/><circle cx="195.3" cy="548.2" r="3.00"/><circle cx="190.6" cy="510.1" r="3.00"/><circle cx="190.4" cy="512.4" r="3.00"/><circle cx="193.7" cy="532.9" r="3.00"/><circle cx="186.9" cy="538.1" r="3.00"/><circle cx="191.6" cy="524.9" r="3.00"/><circle cx="196.9" cy="544.6" r="3.00"/><circle cx="190.9" cy="497.3" r="3.00"/><circle cx="194.2" cy="556.3" r="3.00"/><circle cx="191.3" cy="531.1" r="3.00"/><circle cx="191.7" cy="551.0" r="3.00"/><circle cx="190.6" cy="504.0" r="3.00"/><circle cx="192.6" cy="515.9" r="3.00"/><circle cx="190.2" cy="547.0" r="3.00"/><circle cx="196.8" cy="539.1" r="3.00"/><circle cx="189.9" cy="528.4" r="3.00"/><circle cx="192.0" cy="536.5" r="3.00"/><circle cx="189.6" cy="543.9" r="3.00"/><circle cx="188.8" cy="540.8" r="3.00"/><circle cx="189.0" cy="552.1" r="3.00"/><circle cx="195.5" cy="542.2" r="3.00"/><circle cx="190.7" cy="501.7" r="3.00"/><circle cx="191.5" cy="474.5" r="3.00"/><circle cx="191.5" cy="484.4" r="3.00"/></g>
<g stroke="#ff2418" opacity="0.9"><rect x="187.3" y="528.6" width="8.4" height="4.0" fill="#ff2418" fill-opacity="0.45" stroke="none"/><line x1="180.8" y1="530.6" x2="202.2" y2="530.6" stroke-width="2.4"/><line x1="191.5" y1="528.6" x2="191.5" y2="532.6" stroke-width="1.4"/><line x1="187.3" y1="528.6" x2="195.7" y2="528.6" stroke-width="1.2"/><line x1="187.3" y1="532.6" x2="195.7" y2="532.6" stroke-width="1.2"/></g>
<g fill="#5a0fa0" stroke="#150818" stroke-width="0.75"><circle cx="221.6" cy="557.9" r="3.00"/><circle cx="222.6" cy="540.1" r="3.00"/><circle cx="218.1" cy="537.5" r="3.00"/><circle cx="220.3" cy="511.4" r="3.00"/><circle cx="220.8" cy="496.7" r="3.00"/><circle cx="222.5" cy="531.4" r="3.00"/><circle cx="215.7" cy="541.5" r="3.00"/><circle cx="226.3" cy="543.5" r="3.00"/><circle cx="220.6" cy="522.3" r="3.00"/><circle cx="219.4" cy="500.9" r="3.00"/><circle cx="221.1" cy="546.5" r="3.00"/><circle cx="216.8" cy="533.0" r="3.00"/><circle cx="217.6" cy="520.2" r="3.00"/><circle cx="217.1" cy="556.0" r="3.00"/><circle cx="220.7" cy="552.8" r="3.00"/><circle cx="225.9" cy="548.3" r="3.00"/><circle cx="222.4" cy="515.5" r="3.00"/><circle cx="222.5" cy="508.6" r="3.00"/><circle cx="223.8" cy="553.5" r="3.00"/><circle cx="219.2" cy="505.8" r="3.00"/><circle cx="219.6" cy="532.1" r="3.00"/><circle cx="216.6" cy="528.6" r="3.00"/><circle cx="224.2" cy="524.6" r="3.00"/><circle cx="222.8" cy="512.6" r="3.00"/><circle cx="219.6" cy="526.0" r="3.00"/><circle cx="216.6" cy="549.6" r="3.00"/><circle cx="225.5" cy="536.6" r="3.00"/><circle cx="219.3" cy="542.3" r="3.00"/><circle cx="223.4" cy="550.0" r="3.00"/><circle cx="224.7" cy="529.9" r="3.00"/><circle cx="222.1" cy="503.6" r="3.00"/><circle cx="221.7" cy="535.6" r="3.00"/><circle cx="219.6" cy="497.9" r="3.00"/><circle cx="223.4" cy="519.4" r="3.00"/><circle cx="215.0" cy="547.2" r="3.00"/><circle cx="218.7" cy="551.1" r="3.00"/><circle cx="226.1" cy="540.7" r="3.00"/><circle cx="222.5" cy="527.7" r="3.00"/><circle cx="220.2" cy="507.9" r="3.00"/><circle cx="215.1" cy="539.0" r="3.00"/><circle cx="219.5" cy="517.4" r="3.00"/><circle cx="219.8" cy="555.5" r="3.00"/><circle cx="218.9" cy="535.0" r="3.00"/><circle cx="218.2" cy="514.2" r="3.00"/><circle cx="216.9" cy="544.4" r="3.00"/><circle cx="224.6" cy="545.4" r="3.00"/><circle cx="217.5" cy="524.0" r="3.00"/><circle cx="220.6" cy="482.0" r="3.00"/></g>
<g stroke="#ff2418" opacity="0.9"><rect x="216.4" y="527.8" width="8.4" height="4.0" fill="#ff2418" fill-opacity="0.45" stroke="none"/><line x1="209.9" y1="529.8" x2="231.3" y2="529.8" stroke-width="2.4"/><line x1="220.6" y1="527.8" x2="220.6" y2="531.8" stroke-width="1.4"/><line x1="216.4" y1="527.8" x2="224.8" y2="527.8" stroke-width="1.2"/><line x1="216.4" y1="531.8" x2="224.8" y2="531.8" stroke-width="1.2"/></g>
<g fill="#5a0fa0" stroke="#150818" stroke-width="0.75"><circle cx="245.6" cy="502.1" r="3.00"/><circle cx="246.9" cy="533.9" r="3.00"/><circle cx="249.9" cy="467.4" r="3.00"/><circle cx="249.5" cy="458.7" r="3.00"/><circle cx="251.5" cy="507.2" r="3.00"/><circle cx="251.1" cy="475.7" r="3.00"/><circle cx="251.3" cy="520.4" r="3.00"/><circle cx="246.8" cy="490.7" r="3.00"/><circle cx="246.6" cy="509.4" r="3.00"/><circle cx="245.4" cy="517.9" r="3.00"/><circle cx="247.6" cy="495.1" r="3.00"/><circle cx="254.0" cy="494.8" r="3.00"/><circle cx="249.4" cy="547.4" r="3.00"/><circle cx="254.1" cy="503.2" r="3.00"/><circle cx="250.9" cy="496.9" r="3.00"/><circle cx="244.6" cy="498.1" r="3.00"/><circle cx="251.0" cy="524.9" r="3.00"/><circle cx="252.0" cy="534.9" r="3.00"/><circle cx="251.5" cy="488.6" r="3.00"/><circle cx="252.8" cy="512.0" r="3.00"/><circle cx="246.0" cy="486.5" r="3.00"/><circle cx="248.2" cy="463.2" r="3.00"/><circle cx="248.1" cy="519.6" r="3.00"/><circle cx="248.7" cy="537.3" r="3.00"/><circle cx="247.0" cy="476.2" r="3.00"/><circle cx="248.7" cy="473.3" r="3.00"/><circle cx="249.3" cy="515.3" r="3.00"/><circle cx="244.2" cy="506.3" r="3.00"/><circle cx="248.0" cy="466.0" r="3.00"/><circle cx="244.6" cy="513.5" r="3.00"/><circle cx="253.5" cy="538.2" r="3.00"/><circle cx="247.8" cy="469.1" r="3.00"/><circle cx="249.6" cy="479.6" r="3.00"/><circle cx="246.4" cy="526.2" r="3.00"/><circle cx="254.1" cy="524.1" r="3.00"/><circle cx="250.2" cy="451.5" r="3.00"/><circle cx="248.9" cy="503.7" r="3.00"/><circle cx="247.3" cy="543.4" r="3.00"/><circle cx="251.3" cy="500.6" r="3.00"/><circle cx="249.2" cy="510.9" r="3.00"/><circle cx="250.2" cy="529.8" r="3.00"/><circle cx="247.7" cy="499.0" r="3.00"/><circle cx="252.7" cy="482.4" r="3.00"/><circle cx="250.6" cy="540.4" r="3.00"/><circle cx="248.6" cy="454.8" r="3.00"/><circle cx="250.7" cy="493.3" r="3.00"/><circle cx="252.2" cy="478.2" r="3.00"/><circle cx="245.3" cy="521.5" r="3.00"/><circle cx="254.5" cy="514.5" r="3.00"/><circle cx="245.3" cy="536.1" r="3.00"/><circle cx="252.4" cy="542.1" r="3.00"/><circle cx="245.4" cy="530.7" r="3.00"/><circle cx="254.6" cy="508.0" r="3.00"/><circle cx="250.1" cy="532.7" r="3.00"/><circle cx="248.4" cy="522.9" r="3.00"/><circle cx="252.3" cy="516.9" r="3.00"/><circle cx="250.9" cy="462.1" r="3.00"/><circle cx="248.9" cy="484.1" r="3.00"/><circle cx="249.3" cy="489.8" r="3.00"/><circle cx="251.0" cy="544.8" r="3.00"/><circle cx="248.3" cy="458.0" r="3.00"/><circle cx="246.7" cy="505.1" r="3.00"/><circle cx="254.5" cy="518.7" r="3.00"/><circle cx="253.0" cy="486.1" r="3.00"/><circle cx="251.4" cy="471.0" r="3.00"/><circle cx="254.7" cy="500.3" r="3.00"/><circle cx="253.4" cy="529.0" r="3.00"/><circle cx="253.3" cy="492.2" r="3.00"/><circle cx="246.6" cy="481.2" r="3.00"/><circle cx="246.3" cy="539.7" r="3.00"/><circle cx="244.2" cy="510.5" r="3.00"/><circle cx="248.4" cy="527.9" r="3.00"/><circle cx="249.5" cy="403.3" r="3.00"/><circle cx="249.5" cy="412.4" r="3.00"/><circle cx="249.5" cy="418.5" r="3.00"/><circle cx="246.5" cy="429.0" r="3.00"/><circle cx="252.5" cy="429.0" r="3.00"/><circle cx="249.5" cy="434.4" r="3.00"/></g>
<g stroke="#ff2418" opacity="0.9"><rect x="245.3" y="491.8" width="8.4" height="8.0" fill="#ff2418" fill-opacity="0.45" stroke="none"/><line x1="238.8" y1="495.8" x2="260.2" y2="495.8" stroke-width="2.4"/><line x1="249.5" y1="491.8" x2="249.5" y2="499.8" stroke-width="1.4"/><line x1="245.3" y1="491.8" x2="253.7" y2="491.8" stroke-width="1.2"/><line x1="245.3" y1="499.8" x2="253.7" y2="499.8" stroke-width="1.2"/></g>
<g fill="#0c2cf2" stroke="#150818" stroke-width="0.75"><circle cx="306.2" cy="486.9" r="3.00"/><circle cx="310.8" cy="460.0" r="3.00"/><circle cx="308.9" cy="467.2" r="3.00"/><circle cx="313.9" cy="485.4" r="3.00"/><circle cx="309.3" cy="505.4" r="3.00"/><circle cx="312.9" cy="478.5" r="3.00"/><circle cx="303.2" cy="471.0" r="3.00"/><circle cx="305.3" cy="495.0" r="3.00"/><circle cx="303.1" cy="480.9" r="3.00"/><circle cx="300.1" cy="487.8" r="3.00"/><circle cx="309.9" cy="500.1" r="3.00"/><circle cx="304.2" cy="459.5" r="3.00"/><circle cx="310.3" cy="472.4" r="3.00"/><circle cx="303.2" cy="498.1" r="3.00"/><circle cx="303.9" cy="476.4" r="3.00"/><circle cx="311.6" cy="491.7" r="3.00"/><circle cx="310.1" cy="486.2" r="3.00"/><circle cx="305.2" cy="506.9" r="3.00"/><circle cx="311.7" cy="496.1" r="3.00"/><circle cx="306.4" cy="454.6" r="3.00"/><circle cx="303.8" cy="465.0" r="3.00"/><circle cx="311.9" cy="466.0" r="3.00"/><circle cx="308.6" cy="508.9" r="3.00"/><circle cx="306.7" cy="471.3" r="3.00"/><circle cx="307.2" cy="464.0" r="3.00"/><circle cx="301.7" cy="492.5" r="3.00"/><circle cx="309.7" cy="462.7" r="3.00"/><circle cx="312.5" cy="469.6" r="3.00"/><circle cx="302.7" cy="484.7" r="3.00"/><circle cx="308.1" cy="477.3" r="3.00"/><circle cx="308.6" cy="447.4" r="3.00"/><circle cx="313.7" cy="489.1" r="3.00"/><circle cx="306.0" cy="461.6" r="3.00"/><circle cx="306.2" cy="513.0" r="3.00"/><circle cx="308.8" cy="494.2" r="3.00"/><circle cx="307.8" cy="483.3" r="3.00"/><circle cx="310.9" cy="475.7" r="3.00"/><circle cx="305.6" cy="490.8" r="3.00"/><circle cx="305.6" cy="468.9" r="3.00"/><circle cx="309.6" cy="451.1" r="3.00"/><circle cx="305.0" cy="502.2" r="3.00"/><circle cx="306.2" cy="479.7" r="3.00"/><circle cx="308.7" cy="489.6" r="3.00"/><circle cx="306.9" cy="474.4" r="3.00"/><circle cx="307.2" cy="501.0" r="3.00"/><circle cx="305.3" cy="449.6" r="3.00"/><circle cx="310.4" cy="456.1" r="3.00"/><circle cx="313.1" cy="493.1" r="3.00"/><circle cx="305.2" cy="484.0" r="3.00"/><circle cx="307.4" cy="457.9" r="3.00"/><circle cx="308.5" cy="453.3" r="3.00"/><circle cx="309.9" cy="480.4" r="3.00"/><circle cx="308.3" cy="515.5" r="3.00"/><circle cx="307.5" cy="497.3" r="3.00"/><circle cx="307.2" cy="504.0" r="3.00"/><circle cx="307.7" cy="511.1" r="3.00"/><circle cx="312.8" cy="474.0" r="3.00"/><circle cx="313.8" cy="481.9" r="3.00"/><circle cx="307.3" cy="432.3" r="3.00"/><circle cx="307.3" cy="528.6" r="3.00"/><circle cx="307.3" cy="539.8" r="3.00"/><circle cx="307.3" cy="543.2" r="3.00"/></g>
<g stroke="#ff2418" opacity="0.9"><rect x="303.1" y="484.7" width="8.4" height="4.0" fill="#ff2418" fill-opacity="0.45" stroke="none"/><line x1="296.6" y1="486.7" x2="318.0" y2="486.7" stroke-width="2.4"/><line x1="307.3" y1="484.7" x2="307.3" y2="488.7" stroke-width="1.4"/><line x1="303.1" y1="484.7" x2="311.5" y2="484.7" stroke-width="1.2"/><line x1="303.1" y1="488.7" x2="311.5" y2="488.7" stroke-width="1.2"/></g>
<g fill="#0c2cf2" stroke="#150818" stroke-width="0.75"><circle cx="336.4" cy="557.6" r="3.00"/><circle cx="331.1" cy="553.5" r="3.00"/><circle cx="336.7" cy="546.1" r="3.00"/><circle cx="336.0" cy="534.2" r="3.00"/><circle cx="333.2" cy="563.8" r="3.00"/><circle cx="336.1" cy="541.3" r="3.00"/><circle cx="335.0" cy="568.9" r="3.00"/><circle cx="340.3" cy="561.2" r="3.00"/><circle cx="339.2" cy="552.6" r="3.00"/><circle cx="334.9" cy="550.1" r="3.00"/><circle cx="332.2" cy="559.5" r="3.00"/><circle cx="339.0" cy="566.8" r="3.00"/><circle cx="342.2" cy="556.4" r="3.00"/><circle cx="336.7" cy="531.5" r="3.00"/><circle cx="336.7" cy="562.4" r="3.00"/><circle cx="337.0" cy="536.5" r="3.00"/><circle cx="332.4" cy="551.0" r="3.00"/><circle cx="333.8" cy="547.2" r="3.00"/><circle cx="335.6" cy="564.9" r="3.00"/><circle cx="339.6" cy="558.1" r="3.00"/><circle cx="337.2" cy="542.4" r="3.00"/><circle cx="339.4" cy="548.5" r="3.00"/><circle cx="335.0" cy="560.2" r="3.00"/><circle cx="333.9" cy="555.4" r="3.00"/><circle cx="336.8" cy="554.2" r="3.00"/></g>
<g stroke="#ff2418" opacity="0.9"><rect x="332.2" y="554.8" width="8.4" height="4.0" fill="#ff2418" fill-opacity="0.45" stroke="none"/><line x1="325.7" y1="556.8" x2="347.1" y2="556.8" stroke-width="2.4"/><line x1="336.4" y1="554.8" x2="336.4" y2="558.8" stroke-width="1.4"/><line x1="332.2" y1="554.8" x2="340.6" y2="554.8" stroke-width="1.2"/><line x1="332.2" y1="558.8" x2="340.6" y2="558.8" stroke-width="1.2"/></g>
<g fill="#0c2cf2" stroke="#150818" stroke-width="0.75"><circle cx="363.5" cy="540.3" r="3.00"/><circle cx="362.2" cy="547.6" r="3.00"/><circle cx="369.4" cy="537.1" r="3.00"/><circle cx="363.2" cy="532.6" r="3.00"/><circle cx="364.9" cy="553.0" r="3.00"/><circle cx="365.7" cy="501.7" r="3.00"/><circle cx="370.7" cy="545.7" r="3.00"/><circle cx="359.2" cy="543.1" r="3.00"/><circle cx="367.9" cy="542.4" r="3.00"/><circle cx="367.3" cy="533.4" r="3.00"/><circle cx="364.3" cy="491.1" r="3.00"/><circle cx="368.2" cy="550.0" r="3.00"/><circle cx="370.4" cy="540.9" r="3.00"/><circle cx="361.1" cy="535.8" r="3.00"/><circle cx="364.0" cy="516.1" r="3.00"/><circle cx="364.6" cy="543.8" r="3.00"/><circle cx="366.3" cy="513.5" r="3.00"/><circle cx="364.3" cy="524.0" r="3.00"/><circle cx="366.1" cy="538.6" r="3.00"/><circle cx="367.8" cy="526.4" r="3.00"/><circle cx="366.6" cy="521.2" r="3.00"/><circle cx="364.8" cy="534.9" r="3.00"/><circle cx="366.8" cy="546.8" r="3.00"/><circle cx="364.0" cy="512.2" r="3.00"/><circle cx="365.8" cy="529.9" r="3.00"/><circle cx="360.0" cy="539.5" r="3.00"/><circle cx="364.1" cy="503.6" r="3.00"/><circle cx="364.3" cy="497.5" r="3.00"/><circle cx="364.1" cy="500.1" r="3.00"/><circle cx="365.8" cy="522.8" r="3.00"/><circle cx="360.3" cy="550.7" r="3.00"/><circle cx="366.4" cy="517.8" r="3.00"/><circle cx="362.5" cy="552.0" r="3.00"/><circle cx="363.4" cy="558.4" r="3.00"/><circle cx="367.4" cy="554.6" r="3.00"/><circle cx="362.6" cy="527.1" r="3.00"/><circle cx="365.6" cy="488.8" r="3.00"/><circle cx="368.8" cy="531.2" r="3.00"/><circle cx="366.1" cy="506.2" r="3.00"/><circle cx="361.7" cy="544.6" r="3.00"/><circle cx="365.0" cy="548.9" r="3.00"/><circle cx="368.1" cy="528.5" r="3.00"/><circle cx="365.8" cy="494.7" r="3.00"/><circle cx="365.1" cy="556.3" r="3.00"/><circle cx="364.8" cy="509.1" r="3.00"/><circle cx="365.0" cy="461.6" r="3.00"/><circle cx="365.0" cy="470.0" r="3.00"/><circle cx="365.0" cy="474.2" r="3.00"/></g>
<g stroke="#ff2418" opacity="0.9"><rect x="360.8" y="523.5" width="8.4" height="4.0" fill="#ff2418" fill-opacity="0.45" stroke="none"/><line x1="354.3" y1="525.5" x2="375.7" y2="525.5" stroke-width="2.4"/><line x1="365.0" y1="523.5" x2="365.0" y2="527.5" stroke-width="1.4"/><line x1="360.8" y1="523.5" x2="369.2" y2="523.5" stroke-width="1.2"/><line x1="360.8" y1="527.5" x2="369.2" y2="527.5" stroke-width="1.2"/></g>
<g fill="#0c2cf2" stroke="#150818" stroke-width="0.75"><circle cx="395.2" cy="545.0" r="3.00"/><circle cx="394.6" cy="511.1" r="3.00"/><circle cx="390.4" cy="541.8" r="3.00"/><circle cx="396.5" cy="556.7" r="3.00"/><circle cx="394.4" cy="526.7" r="3.00"/><circle cx="388.1" cy="535.4" r="3.00"/><circle cx="390.0" cy="526.2" r="3.00"/><circle cx="393.0" cy="517.8" r="3.00"/><circle cx="390.6" cy="546.6" r="3.00"/><circle cx="394.3" cy="539.1" r="3.00"/><circle cx="398.5" cy="529.0" r="3.00"/><circle cx="398.0" cy="523.5" r="3.00"/><circle cx="396.4" cy="516.9" r="3.00"/><circle cx="393.1" cy="533.1" r="3.00"/><circle cx="391.7" cy="514.9" r="3.00"/><circle cx="389.4" cy="531.0" r="3.00"/><circle cx="392.0" cy="558.5" r="3.00"/><circle cx="397.0" cy="532.3" r="3.00"/><circle cx="392.8" cy="509.5" r="3.00"/><circle cx="393.3" cy="555.1" r="3.00"/><circle cx="399.3" cy="539.9" r="3.00"/><circle cx="397.7" cy="547.4" r="3.00"/><circle cx="390.7" cy="521.0" r="3.00"/><circle cx="396.5" cy="541.3" r="3.00"/><circle cx="392.0" cy="528.3" r="3.00"/><circle cx="394.2" cy="548.4" r="3.00"/><circle cx="394.8" cy="530.1" r="3.00"/><circle cx="394.1" cy="522.8" r="3.00"/><circle cx="397.3" cy="520.1" r="3.00"/><circle cx="398.7" cy="543.2" r="3.00"/><circle cx="392.2" cy="524.6" r="3.00"/><circle cx="397.4" cy="552.8" r="3.00"/><circle cx="395.9" cy="513.7" r="3.00"/><circle cx="391.9" cy="544.2" r="3.00"/><circle cx="390.6" cy="551.0" r="3.00"/><circle cx="399.9" cy="534.0" r="3.00"/><circle cx="391.1" cy="537.8" r="3.00"/><circle cx="395.6" cy="560.2" r="3.00"/><circle cx="391.1" cy="553.7" r="3.00"/><circle cx="396.4" cy="549.9" r="3.00"/><circle cx="397.2" cy="536.2" r="3.00"/><circle cx="399.6" cy="537.3" r="3.00"/><circle cx="394.1" cy="426.0" r="3.00"/><circle cx="394.1" cy="456.0" r="3.00"/><circle cx="394.1" cy="465.0" r="3.00"/><circle cx="394.1" cy="467.0" r="3.00"/><circle cx="394.1" cy="479.8" r="3.00"/><circle cx="394.1" cy="486.7" r="3.00"/><circle cx="394.1" cy="498.0" r="3.00"/><circle cx="394.1" cy="502.0" r="3.00"/></g>
<g stroke="#ff2418" opacity="0.9"><rect x="389.9" y="524.5" width="8.4" height="6.0" fill="#ff2418" fill-opacity="0.45" stroke="none"/><line x1="383.4" y1="527.5" x2="404.8" y2="527.5" stroke-width="2.4"/><line x1="394.1" y1="524.5" x2="394.1" y2="530.5" stroke-width="1.4"/><line x1="389.9" y1="524.5" x2="398.3" y2="524.5" stroke-width="1.2"/><line x1="389.9" y1="530.5" x2="398.3" y2="530.5" stroke-width="1.2"/></g>
<g fill="#0c2cf2" stroke="#150818" stroke-width="0.75"><circle cx="422.6" cy="460.6" r="3.00"/><circle cx="423.6" cy="506.2" r="3.00"/><circle cx="421.6" cy="552.5" r="3.00"/><circle cx="423.1" cy="455.6" r="3.00"/><circle cx="417.9" cy="516.2" r="3.00"/><circle cx="427.0" cy="489.1" r="3.00"/><circle cx="421.6" cy="470.7" r="3.00"/><circle cx="424.6" cy="550.5" r="3.00"/><circle cx="421.3" cy="492.2" r="3.00"/><circle cx="425.1" cy="495.4" r="3.00"/><circle cx="421.6" cy="523.4" r="3.00"/><circle cx="422.3" cy="485.4" r="3.00"/><circle cx="424.2" cy="461.5" r="3.00"/><circle cx="422.4" cy="535.8" r="3.00"/><circle cx="419.0" cy="496.2" r="3.00"/><circle cx="426.7" cy="534.8" r="3.00"/><circle cx="422.9" cy="434.4" r="3.00"/><circle cx="423.2" cy="439.0" r="3.00"/><circle cx="426.7" cy="430.6" r="3.00"/><circle cx="418.4" cy="487.7" r="3.00"/><circle cx="425.9" cy="521.2" r="3.00"/><circle cx="421.9" cy="426.0" r="3.00"/><circle cx="422.1" cy="446.4" r="3.00"/><circle cx="423.5" cy="490.0" r="3.00"/><circle cx="419.5" cy="539.5" r="3.00"/><circle cx="417.7" cy="502.5" r="3.00"/><circle cx="425.2" cy="478.4" r="3.00"/><circle cx="426.2" cy="512.6" r="3.00"/><circle cx="428.0" cy="499.2" r="3.00"/><circle cx="425.6" cy="471.6" r="3.00"/><circle cx="420.0" cy="477.0" r="3.00"/><circle cx="418.4" cy="531.2" r="3.00"/><circle cx="422.1" cy="452.3" r="3.00"/><circle cx="419.1" cy="482.0" r="3.00"/><circle cx="424.1" cy="532.1" r="3.00"/><circle cx="422.8" cy="515.3" r="3.00"/><circle cx="421.1" cy="435.7" r="3.00"/><circle cx="421.8" cy="440.5" r="3.00"/><circle cx="418.0" cy="522.6" r="3.00"/><circle cx="423.4" cy="541.6" r="3.00"/><circle cx="427.9" cy="494.2" r="3.00"/><circle cx="422.3" cy="498.2" r="3.00"/><circle cx="417.6" cy="493.4" r="3.00"/><circle cx="418.7" cy="429.0" r="3.00"/><circle cx="423.5" cy="458.3" r="3.00"/><circle cx="424.2" cy="468.5" r="3.00"/><circle cx="424.9" cy="487.0" r="3.00"/><circle cx="424.5" cy="501.5" r="3.00"/><circle cx="425.0" cy="537.0" r="3.00"/><circle cx="425.7" cy="540.9" r="3.00"/><circle cx="421.8" cy="479.9" r="3.00"/><circle cx="427.7" cy="516.8" r="3.00"/><circle cx="420.7" cy="533.2" r="3.00"/><circle cx="420.7" cy="519.4" r="3.00"/><circle cx="419.5" cy="472.9" r="3.00"/><circle cx="418.0" cy="507.6" r="3.00"/><circle cx="427.0" cy="504.5" r="3.00"/><circle cx="420.1" cy="514.0" r="3.00"/><circle cx="420.8" cy="431.8" r="3.00"/><circle cx="424.6" cy="428.1" r="3.00"/><circle cx="424.7" cy="432.8" r="3.00"/><circle cx="423.4" cy="443.9" r="3.00"/><circle cx="420.2" cy="545.0" r="3.00"/><circle cx="427.2" cy="484.4" r="3.00"/><circle cx="425.4" cy="546.5" r="3.00"/><circle cx="421.5" cy="537.9" r="3.00"/><circle cx="421.0" cy="464.0" r="3.00"/><circle cx="426.4" cy="497.5" r="3.00"/><circle cx="427.1" cy="524.8" r="3.00"/><circle cx="424.5" cy="483.1" r="3.00"/><circle cx="422.8" cy="511.6" r="3.00"/><circle cx="419.3" cy="510.8" r="3.00"/><circle cx="420.1" cy="505.3" r="3.00"/><circle cx="421.5" cy="548.3" r="3.00"/><circle cx="423.3" cy="449.5" r="3.00"/><circle cx="422.7" cy="466.2" r="3.00"/><circle cx="418.8" cy="491.0" r="3.00"/><circle cx="424.8" cy="518.4" r="3.00"/><circle cx="423.6" cy="554.6" r="3.00"/><circle cx="421.0" cy="528.3" r="3.00"/><circle cx="427.7" cy="508.2" r="3.00"/><circle cx="423.2" cy="474.4" r="3.00"/><circle cx="422.3" cy="503.2" r="3.00"/><circle cx="425.3" cy="527.2" r="3.00"/><circle cx="425.9" cy="543.5" r="3.00"/><circle cx="426.9" cy="481.0" r="3.00"/><circle cx="420.2" cy="500.7" r="3.00"/><circle cx="426.4" cy="475.7" r="3.00"/><circle cx="424.9" cy="509.2" r="3.00"/><circle cx="423.0" cy="520.8" r="3.00"/><circle cx="418.2" cy="526.1" r="3.00"/><circle cx="420.3" cy="467.5" r="3.00"/><circle cx="426.7" cy="529.9" r="3.00"/></g>
<g stroke="#ff2418" opacity="0.9"><rect x="418.5" y="488.3" width="8.4" height="8.0" fill="#ff2418" fill-opacity="0.45" stroke="none"/><line x1="412.0" y1="492.3" x2="433.4" y2="492.3" stroke-width="2.4"/><line x1="422.7" y1="488.3" x2="422.7" y2="496.3" stroke-width="1.4"/><line x1="418.5" y1="488.3" x2="426.9" y2="488.3" stroke-width="1.2"/><line x1="418.5" y1="496.3" x2="426.9" y2="496.3" stroke-width="1.2"/></g>
<g fill="#ff9612" stroke="#150818" stroke-width="0.75"><circle cx="482.4" cy="545.7" r="3.00"/><circle cx="477.2" cy="559.9" r="3.00"/><circle cx="480.6" cy="566.1" r="3.00"/><circle cx="483.4" cy="550.7" r="3.00"/><circle cx="477.8" cy="533.9" r="3.00"/><circle cx="476.2" cy="542.9" r="3.00"/><circle cx="483.3" cy="564.0" r="3.00"/><circle cx="482.2" cy="558.4" r="3.00"/><circle cx="483.3" cy="531.4" r="3.00"/><circle cx="485.0" cy="540.3" r="3.00"/><circle cx="487.0" cy="544.4" r="3.00"/><circle cx="479.4" cy="554.9" r="3.00"/><circle cx="480.3" cy="532.3" r="3.00"/><circle cx="480.7" cy="542.5" r="3.00"/><circle cx="476.1" cy="552.9" r="3.00"/><circle cx="485.4" cy="554.0" r="3.00"/><circle cx="479.5" cy="549.9" r="3.00"/><circle cx="483.0" cy="536.3" r="3.00"/><circle cx="478.8" cy="529.8" r="3.00"/><circle cx="480.4" cy="560.9" r="3.00"/><circle cx="476.3" cy="555.7" r="3.00"/><circle cx="476.3" cy="538.0" r="3.00"/><circle cx="478.0" cy="541.0" r="3.00"/><circle cx="486.0" cy="551.2" r="3.00"/><circle cx="478.1" cy="562.2" r="3.00"/><circle cx="481.2" cy="539.4" r="3.00"/><circle cx="478.6" cy="544.8" r="3.00"/><circle cx="475.6" cy="549.0" r="3.00"/><circle cx="485.1" cy="557.0" r="3.00"/><circle cx="485.3" cy="546.9" r="3.00"/><circle cx="478.3" cy="547.6" r="3.00"/><circle cx="480.7" cy="535.2" r="3.00"/><circle cx="480.8" cy="449.2" r="3.00"/><circle cx="480.8" cy="469.3" r="3.00"/><circle cx="480.8" cy="481.0" r="3.00"/><circle cx="480.8" cy="501.0" r="3.00"/><circle cx="480.8" cy="504.0" r="3.00"/><circle cx="480.8" cy="512.2" r="3.00"/><circle cx="480.8" cy="521.4" r="3.00"/></g>
<g stroke="#ff2418" opacity="0.9"><rect x="476.6" y="536.7" width="8.4" height="4.0" fill="#ff2418" fill-opacity="0.45" stroke="none"/><line x1="470.1" y1="538.7" x2="491.5" y2="538.7" stroke-width="2.4"/><line x1="480.8" y1="536.7" x2="480.8" y2="540.7" stroke-width="1.4"/><line x1="476.6" y1="536.7" x2="485.0" y2="536.7" stroke-width="1.2"/><line x1="476.6" y1="540.7" x2="485.0" y2="540.7" stroke-width="1.2"/></g>
<g fill="#ff9612" stroke="#150818" stroke-width="0.75"><circle cx="514.8" cy="563.2" r="3.00"/><circle cx="510.5" cy="545.9" r="3.00"/><circle cx="504.8" cy="560.4" r="3.00"/><circle cx="508.6" cy="542.5" r="3.00"/><circle cx="508.2" cy="564.7" r="3.00"/><circle cx="503.8" cy="567.0" r="3.00"/><circle cx="507.9" cy="545.1" r="3.00"/><circle cx="513.5" cy="569.8" r="3.00"/><circle cx="510.3" cy="559.4" r="3.00"/><circle cx="508.0" cy="561.5" r="3.00"/><circle cx="512.0" cy="565.9" r="3.00"/><circle cx="514.4" cy="557.2" r="3.00"/><circle cx="512.0" cy="552.2" r="3.00"/><circle cx="514.9" cy="567.2" r="3.00"/><circle cx="507.6" cy="555.0" r="3.00"/><circle cx="509.1" cy="570.7" r="3.00"/><circle cx="509.7" cy="553.3" r="3.00"/><circle cx="508.5" cy="547.6" r="3.00"/><circle cx="512.0" cy="573.6" r="3.00"/><circle cx="507.0" cy="568.3" r="3.00"/><circle cx="506.7" cy="549.8" r="3.00"/><circle cx="507.1" cy="558.2" r="3.00"/><circle cx="511.9" cy="562.0" r="3.00"/><circle cx="509.0" cy="551.2" r="3.00"/><circle cx="505.8" cy="571.9" r="3.00"/><circle cx="504.6" cy="564.3" r="3.00"/><circle cx="511.1" cy="556.2" r="3.00"/></g>
<g stroke="#ff2418" opacity="0.9"><rect x="505.5" y="562.9" width="8.4" height="3.0" fill="#ff2418" fill-opacity="0.45" stroke="none"/><line x1="499.0" y1="564.4" x2="520.4" y2="564.4" stroke-width="2.4"/><line x1="509.7" y1="562.9" x2="509.7" y2="565.9" stroke-width="1.4"/><line x1="505.5" y1="562.9" x2="513.9" y2="562.9" stroke-width="1.2"/><line x1="505.5" y1="565.9" x2="513.9" y2="565.9" stroke-width="1.2"/></g>
<g fill="#ff9612" stroke="#150818" stroke-width="0.75"><circle cx="536.9" cy="568.5" r="3.00"/><circle cx="536.8" cy="549.0" r="3.00"/><circle cx="539.5" cy="538.8" r="3.00"/><circle cx="543.2" cy="569.8" r="3.00"/><circle cx="540.8" cy="546.5" r="3.00"/><circle cx="533.4" cy="567.4" r="3.00"/><circle cx="539.2" cy="525.9" r="3.00"/><circle cx="537.5" cy="534.8" r="3.00"/><circle cx="540.6" cy="565.5" r="3.00"/><circle cx="538.0" cy="547.3" r="3.00"/><circle cx="540.5" cy="569.2" r="3.00"/><circle cx="536.3" cy="543.3" r="3.00"/><circle cx="536.9" cy="555.3" r="3.00"/><circle cx="540.2" cy="533.0" r="3.00"/><circle cx="535.1" cy="562.0" r="3.00"/><circle cx="538.7" cy="521.3" r="3.00"/><circle cx="539.5" cy="523.3" r="3.00"/><circle cx="537.0" cy="540.8" r="3.00"/><circle cx="541.3" cy="551.1" r="3.00"/><circle cx="538.9" cy="544.8" r="3.00"/><circle cx="538.0" cy="552.1" r="3.00"/><circle cx="542.9" cy="560.4" r="3.00"/><circle cx="537.6" cy="531.6" r="3.00"/><circle cx="538.3" cy="563.0" r="3.00"/><circle cx="537.0" cy="537.9" r="3.00"/><circle cx="544.3" cy="564.0" r="3.00"/><circle cx="543.2" cy="566.6" r="3.00"/><circle cx="533.9" cy="570.9" r="3.00"/><circle cx="539.5" cy="558.1" r="3.00"/><circle cx="539.1" cy="518.4" r="3.00"/><circle cx="542.9" cy="556.6" r="3.00"/><circle cx="534.8" cy="553.1" r="3.00"/><circle cx="540.3" cy="554.3" r="3.00"/><circle cx="540.0" cy="561.2" r="3.00"/><circle cx="539.9" cy="529.6" r="3.00"/><circle cx="536.3" cy="558.9" r="3.00"/><circle cx="538.8" cy="507.2" r="3.00"/></g>
<g stroke="#ff2418" opacity="0.9"><rect x="534.6" y="550.7" width="8.4" height="4.0" fill="#ff2418" fill-opacity="0.45" stroke="none"/><line x1="528.1" y1="552.7" x2="549.5" y2="552.7" stroke-width="2.4"/><line x1="538.8" y1="550.7" x2="538.8" y2="554.7" stroke-width="1.4"/><line x1="534.6" y1="550.7" x2="543.0" y2="550.7" stroke-width="1.2"/><line x1="534.6" y1="554.7" x2="543.0" y2="554.7" stroke-width="1.2"/></g>
<g fill="#ff9612" stroke="#150818" stroke-width="0.75"><circle cx="564.8" cy="551.7" r="3.00"/><circle cx="573.2" cy="559.2" r="3.00"/><circle cx="571.5" cy="545.1" r="3.00"/><circle cx="564.7" cy="557.8" r="3.00"/><circle cx="566.7" cy="532.5" r="3.00"/><circle cx="568.8" cy="561.2" r="3.00"/><circle cx="572.7" cy="552.4" r="3.00"/><circle cx="563.2" cy="562.0" r="3.00"/><circle cx="569.6" cy="556.0" r="3.00"/><circle cx="563.3" cy="566.5" r="3.00"/><circle cx="567.1" cy="543.6" r="3.00"/><circle cx="567.7" cy="514.4" r="3.00"/><circle cx="570.8" cy="565.2" r="3.00"/><circle cx="566.9" cy="518.9" r="3.00"/><circle cx="569.6" cy="530.9" r="3.00"/><circle cx="570.8" cy="536.3" r="3.00"/><circle cx="565.2" cy="572.0" r="3.00"/><circle cx="568.7" cy="549.1" r="3.00"/><circle cx="561.5" cy="553.6" r="3.00"/><circle cx="566.3" cy="526.2" r="3.00"/><circle cx="561.6" cy="549.8" r="3.00"/><circle cx="566.2" cy="555.2" r="3.00"/><circle cx="565.0" cy="548.0" r="3.00"/><circle cx="574.3" cy="554.5" r="3.00"/><circle cx="569.4" cy="570.6" r="3.00"/><circle cx="561.9" cy="559.7" r="3.00"/><circle cx="568.6" cy="521.2" r="3.00"/><circle cx="562.3" cy="547.2" r="3.00"/><circle cx="567.0" cy="567.7" r="3.00"/><circle cx="565.7" cy="545.6" r="3.00"/><circle cx="563.5" cy="541.3" r="3.00"/><circle cx="566.1" cy="563.2" r="3.00"/><circle cx="570.3" cy="542.1" r="3.00"/><circle cx="564.9" cy="534.9" r="3.00"/><circle cx="567.4" cy="540.3" r="3.00"/><circle cx="568.9" cy="527.9" r="3.00"/><circle cx="570.5" cy="551.1" r="3.00"/><circle cx="564.8" cy="538.3" r="3.00"/><circle cx="565.7" cy="529.5" r="3.00"/><circle cx="561.7" cy="557.2" r="3.00"/><circle cx="568.3" cy="564.5" r="3.00"/><circle cx="568.7" cy="537.9" r="3.00"/><circle cx="564.5" cy="569.2" r="3.00"/><circle cx="566.4" cy="523.0" r="3.00"/><circle cx="567.6" cy="504.0" r="3.00"/></g>
<g stroke="#ff2418" opacity="0.9"><rect x="563.4" y="548.5" width="8.4" height="4.0" fill="#ff2418" fill-opacity="0.45" stroke="none"/><line x1="556.9" y1="550.5" x2="578.3" y2="550.5" stroke-width="2.4"/><line x1="567.6" y1="548.5" x2="567.6" y2="552.5" stroke-width="1.4"/><line x1="563.4" y1="548.5" x2="571.8" y2="548.5" stroke-width="1.2"/><line x1="563.4" y1="552.5" x2="571.8" y2="552.5" stroke-width="1.2"/></g>
<g fill="#ff9612" stroke="#150818" stroke-width="0.75"><circle cx="592.9" cy="545.0" r="3.00"/><circle cx="596.2" cy="565.7" r="3.00"/><circle cx="597.3" cy="559.9" r="3.00"/><circle cx="597.9" cy="541.1" r="3.00"/><circle cx="601.5" cy="542.8" r="3.00"/><circle cx="594.0" cy="538.6" r="3.00"/><circle cx="596.8" cy="503.6" r="3.00"/><circle cx="598.0" cy="536.3" r="3.00"/><circle cx="591.6" cy="552.1" r="3.00"/><circle cx="593.1" cy="557.4" r="3.00"/><circle cx="596.3" cy="553.4" r="3.00"/><circle cx="601.3" cy="557.9" r="3.00"/><circle cx="601.7" cy="551.7" r="3.00"/><circle cx="597.4" cy="507.9" r="3.00"/><circle cx="594.9" cy="533.3" r="3.00"/><circle cx="593.2" cy="562.5" r="3.00"/><circle cx="599.4" cy="554.1" r="3.00"/><circle cx="598.1" cy="547.4" r="3.00"/><circle cx="603.0" cy="555.1" r="3.00"/><circle cx="597.4" cy="516.1" r="3.00"/><circle cx="598.4" cy="532.2" r="3.00"/><circle cx="596.1" cy="520.1" r="3.00"/><circle cx="598.1" cy="524.2" r="3.00"/><circle cx="595.7" cy="529.9" r="3.00"/><circle cx="594.6" cy="541.6" r="3.00"/><circle cx="594.7" cy="559.6" r="3.00"/><circle cx="596.6" cy="509.2" r="3.00"/><circle cx="598.6" cy="550.8" r="3.00"/><circle cx="603.3" cy="548.3" r="3.00"/><circle cx="596.0" cy="535.1" r="3.00"/><circle cx="597.3" cy="556.3" r="3.00"/><circle cx="600.7" cy="561.4" r="3.00"/><circle cx="596.1" cy="544.4" r="3.00"/><circle cx="596.2" cy="522.8" r="3.00"/><circle cx="601.0" cy="546.3" r="3.00"/><circle cx="594.4" cy="548.6" r="3.00"/><circle cx="600.5" cy="539.5" r="3.00"/><circle cx="598.2" cy="528.1" r="3.00"/><circle cx="596.4" cy="513.2" r="3.00"/><circle cx="590.1" cy="550.1" r="3.00"/><circle cx="597.7" cy="518.4" r="3.00"/><circle cx="598.4" cy="563.7" r="3.00"/><circle cx="597.0" cy="465.2" r="3.00"/><circle cx="597.0" cy="470.8" r="3.00"/><circle cx="597.0" cy="481.0" r="3.00"/><circle cx="597.0" cy="493.6" r="3.00"/></g>
<g stroke="#ff2418" opacity="0.9"><rect x="592.8" y="537.6" width="8.4" height="4.0" fill="#ff2418" fill-opacity="0.45" stroke="none"/><line x1="586.3" y1="539.6" x2="607.7" y2="539.6" stroke-width="2.4"/><line x1="597.0" y1="537.6" x2="597.0" y2="541.6" stroke-width="1.4"/><line x1="592.8" y1="537.6" x2="601.2" y2="537.6" stroke-width="1.2"/><line x1="592.8" y1="541.6" x2="601.2" y2="541.6" stroke-width="1.2"/></g>
<text x="51.68" y="611.17" font-size="25.94" font-weight="bold" fill="#000" stroke="#000" stroke-width="0.45" textLength="58.04" lengthAdjust="spacingAndGlyphs">PI3K</text>
<text x="111.04" y="613.48" font-size="14.20" font-weight="bold" fill="#000" stroke="#000" stroke-width="0.45" textLength="2.73" lengthAdjust="spacingAndGlyphs">i</text>
<rect x="117.60" y="597.40" width="4.50" height="4.50" fill="#000" rx="0.8"/>
<rect x="117.60" y="607.20" width="4.50" height="4.50" fill="#000" rx="0.8"/>
<text x="41.46" y="636.98" font-size="26.38" font-weight="bold" fill="#000" stroke="#000" stroke-width="0.45" textLength="38.79" lengthAdjust="spacingAndGlyphs">OA</text>
<text x="80.54" y="639.57" font-size="18.39" font-weight="bold" fill="#000" stroke="#000" stroke-width="0.45" textLength="32.30" lengthAdjust="spacingAndGlyphs">Low</text>
<rect x="117.60" y="623.20" width="4.50" height="4.50" fill="#000" rx="0.8"/>
<rect x="117.60" y="632.70" width="4.50" height="4.50" fill="#000" rx="0.8"/>
<text x="33.28" y="666.57" font-size="26.24" font-weight="bold" fill="#000" stroke="#000" stroke-width="0.45" textLength="76.44" lengthAdjust="spacingAndGlyphs">AMPK</text>
<text x="111.04" y="669.07" font-size="14.20" font-weight="bold" fill="#000" stroke="#000" stroke-width="0.45" textLength="2.73" lengthAdjust="spacingAndGlyphs">i</text>
<rect x="117.60" y="652.60" width="4.50" height="4.50" fill="#000" rx="0.8"/>
<rect x="117.60" y="662.60" width="4.50" height="4.50" fill="#000" rx="0.8"/>
<rect x="128.75" y="602.70" width="12.50" height="4.00" fill="#000" />
<rect x="155.70" y="602.90" width="16.60" height="3.60" fill="#000" />
<rect x="162.20" y="596.40" width="3.60" height="16.60" fill="#000" />
<rect x="184.50" y="602.90" width="16.60" height="3.60" fill="#000" />
<rect x="191.00" y="596.40" width="3.60" height="16.60" fill="#000" />
<rect x="213.40" y="602.90" width="16.60" height="3.60" fill="#000" />
<rect x="219.90" y="596.40" width="3.60" height="16.60" fill="#000" />
<rect x="242.20" y="602.90" width="16.60" height="3.60" fill="#000" />
<rect x="248.70" y="596.40" width="3.60" height="16.60" fill="#000" />
<rect x="301.95" y="602.70" width="12.50" height="4.00" fill="#000" />
<rect x="329.10" y="602.90" width="16.60" height="3.60" fill="#000" />
<rect x="335.60" y="596.40" width="3.60" height="16.60" fill="#000" />
<rect x="357.90" y="602.90" width="16.60" height="3.60" fill="#000" />
<rect x="364.40" y="596.40" width="3.60" height="16.60" fill="#000" />
<rect x="386.90" y="602.90" width="16.60" height="3.60" fill="#000" />
<rect x="393.40" y="596.40" width="3.60" height="16.60" fill="#000" />
<rect x="415.90" y="602.90" width="16.60" height="3.60" fill="#000" />
<rect x="422.40" y="596.40" width="3.60" height="16.60" fill="#000" />
<rect x="475.35" y="602.70" width="12.50" height="4.00" fill="#000" />
<rect x="502.50" y="602.90" width="16.60" height="3.60" fill="#000" />
<rect x="509.00" y="596.40" width="3.60" height="16.60" fill="#000" />
<rect x="531.70" y="602.90" width="16.60" height="3.60" fill="#000" />
<rect x="538.20" y="596.40" width="3.60" height="16.60" fill="#000" />
<rect x="560.60" y="602.90" width="16.60" height="3.60" fill="#000" />
<rect x="567.10" y="596.40" width="3.60" height="16.60" fill="#000" />
<rect x="589.80" y="602.90" width="16.60" height="3.60" fill="#000" />
<rect x="596.30" y="596.40" width="3.60" height="16.60" fill="#000" />
<rect x="128.75" y="630.10" width="12.50" height="4.00" fill="#000" />
<rect x="157.55" y="630.10" width="12.50" height="4.00" fill="#000" />
<rect x="184.50" y="630.30" width="16.60" height="3.60" fill="#000" />
<rect x="191.00" y="623.80" width="3.60" height="16.60" fill="#000" />
<rect x="215.25" y="630.10" width="12.50" height="4.00" fill="#000" />
<rect x="242.20" y="630.30" width="16.60" height="3.60" fill="#000" />
<rect x="248.70" y="623.80" width="3.60" height="16.60" fill="#000" />
<rect x="301.95" y="630.10" width="12.50" height="4.00" fill="#000" />
<rect x="330.95" y="630.10" width="12.50" height="4.00" fill="#000" />
<rect x="357.90" y="630.30" width="16.60" height="3.60" fill="#000" />
<rect x="364.40" y="623.80" width="3.60" height="16.60" fill="#000" />
<rect x="388.75" y="630.10" width="12.50" height="4.00" fill="#000" />
<rect x="415.90" y="630.30" width="16.60" height="3.60" fill="#000" />
<rect x="422.40" y="623.80" width="3.60" height="16.60" fill="#000" />
<rect x="475.35" y="630.10" width="12.50" height="4.00" fill="#000" />
<rect x="504.35" y="630.10" width="12.50" height="4.00" fill="#000" />
<rect x="531.70" y="630.30" width="16.60" height="3.60" fill="#000" />
<rect x="538.20" y="623.80" width="3.60" height="16.60" fill="#000" />
<rect x="562.45" y="630.10" width="12.50" height="4.00" fill="#000" />
<rect x="589.80" y="630.30" width="16.60" height="3.60" fill="#000" />
<rect x="596.30" y="623.80" width="3.60" height="16.60" fill="#000" />
<rect x="128.75" y="655.60" width="12.50" height="4.00" fill="#000" />
<rect x="157.55" y="655.60" width="12.50" height="4.00" fill="#000" />
<rect x="186.35" y="655.60" width="12.50" height="4.00" fill="#000" />
<rect x="213.40" y="655.80" width="16.60" height="3.60" fill="#000" />
<rect x="219.90" y="649.30" width="3.60" height="16.60" fill="#000" />
<rect x="242.20" y="655.80" width="16.60" height="3.60" fill="#000" />
<rect x="248.70" y="649.30" width="3.60" height="16.60" fill="#000" />
<rect x="301.95" y="655.60" width="12.50" height="4.00" fill="#000" />
<rect x="330.95" y="655.60" width="12.50" height="4.00" fill="#000" />
<rect x="359.75" y="655.60" width="12.50" height="4.00" fill="#000" />
<rect x="386.90" y="655.80" width="16.60" height="3.60" fill="#000" />
<rect x="393.40" y="649.30" width="3.60" height="16.60" fill="#000" />
<rect x="415.90" y="655.80" width="16.60" height="3.60" fill="#000" />
<rect x="422.40" y="649.30" width="3.60" height="16.60" fill="#000" />
<rect x="475.35" y="655.60" width="12.50" height="4.00" fill="#000" />
<rect x="504.35" y="655.60" width="12.50" height="4.00" fill="#000" />
<rect x="533.55" y="655.60" width="12.50" height="4.00" fill="#000" />
<rect x="560.60" y="655.80" width="16.60" height="3.60" fill="#000" />
<rect x="567.10" y="649.30" width="3.60" height="16.60" fill="#000" />
<rect x="589.80" y="655.80" width="16.60" height="3.60" fill="#000" />
<rect x="596.30" y="649.30" width="3.60" height="16.60" fill="#000" />
<text x="174.45" y="718.25" font-size="25.57" font-weight="normal" fill="#000" stroke="#000" stroke-width="0.50" textLength="28.57" lengthAdjust="spacingAndGlyphs">ns</text>
<text x="348.81" y="735.25" font-size="27.46" font-weight="normal" fill="#000" stroke="#000" stroke-width="0.50" textLength="27.69" lengthAdjust="spacingAndGlyphs">ns</text>
<text x="523.36" y="747.25" font-size="25.57" font-weight="normal" fill="#000" stroke="#000" stroke-width="0.50" textLength="26.80" lengthAdjust="spacingAndGlyphs">ns</text>
<line x1="134.00" y1="723.80" x2="251.70" y2="723.80" stroke="#222" stroke-width="1.80"/>
<line x1="308.00" y1="741.00" x2="425.00" y2="741.00" stroke="#222" stroke-width="1.80"/>
<line x1="481.60" y1="753.00" x2="599.00" y2="753.00" stroke="#222" stroke-width="1.80"/>
<text x="58.93" y="699.98" font-size="15.33" font-weight="bold" fill="#000" stroke="#000" stroke-width="0.45" textLength="37.61" lengthAdjust="spacingAndGlyphs">Cyto</text>
<text x="55.50" y="868.38" font-size="15.77" font-weight="bold" fill="#000" stroke="#000" stroke-width="0.45" textLength="31.66" lengthAdjust="spacingAndGlyphs">Nuc</text>
<polygon points="102.40,690.60 102.40,877.20 91.20,877.20" fill="#efefef" stroke="#111" stroke-width="1.4" stroke-linejoin="miter"/>
<line x1="114.60" y1="691.80" x2="114.60" y2="877.30" stroke="#000" stroke-width="2.30"/>
<line x1="108.70" y1="754.50" x2="114.60" y2="754.50" stroke="#000" stroke-width="2.00"/>
<line x1="108.70" y1="815.50" x2="114.60" y2="815.50" stroke="#000" stroke-width="2.00"/>
<line x1="108.70" y1="692.80" x2="115.70" y2="692.80" stroke="#000" stroke-width="2.00"/>
<line x1="104.00" y1="876.20" x2="616.40" y2="876.20" stroke="#000" stroke-width="2.30"/>
<line x1="134.00" y1="876.20" x2="134.00" y2="885.70" stroke="#000" stroke-width="2.00"/>
<line x1="162.80" y1="876.20" x2="162.80" y2="885.70" stroke="#000" stroke-width="2.00"/>
<line x1="191.60" y1="876.20" x2="191.60" y2="885.70" stroke="#000" stroke-width="2.00"/>
<line x1="220.50" y1="876.20" x2="220.50" y2="885.70" stroke="#000" stroke-width="2.00"/>
<line x1="249.30" y1="876.20" x2="249.30" y2="885.70" stroke="#000" stroke-width="2.00"/>
<line x1="307.20" y1="876.20" x2="307.20" y2="885.70" stroke="#000" stroke-width="2.00"/>
<line x1="336.20" y1="876.20" x2="336.20" y2="885.70" stroke="#000" stroke-width="2.00"/>
<line x1="365.00" y1="876.20" x2="365.00" y2="885.70" stroke="#000" stroke-width="2.00"/>
<line x1="394.00" y1="876.20" x2="394.00" y2="885.70" stroke="#000" stroke-width="2.00"/>
<line x1="423.00" y1="876.20" x2="423.00" y2="885.70" stroke="#000" stroke-width="2.00"/>
<line x1="480.60" y1="876.20" x2="480.60" y2="885.70" stroke="#000" stroke-width="2.00"/>
<line x1="509.60" y1="876.20" x2="509.60" y2="885.70" stroke="#000" stroke-width="2.00"/>
<line x1="538.80" y1="876.20" x2="538.80" y2="885.70" stroke="#000" stroke-width="2.00"/>
<line x1="567.70" y1="876.20" x2="567.70" y2="885.70" stroke="#000" stroke-width="2.00"/>
<line x1="596.90" y1="876.20" x2="596.90" y2="885.70" stroke="#000" stroke-width="2.00"/>
<line x1="278.00" y1="876.20" x2="278.00" y2="885.70" stroke="#000" stroke-width="2.00"/>
<line x1="451.60" y1="876.20" x2="451.60" y2="885.70" stroke="#000" stroke-width="2.00"/>
<g fill="#5a0fa0" stroke="#150818" stroke-width="0.75"><circle cx="133.8" cy="827.7" r="3.00"/><circle cx="130.9" cy="793.7" r="3.00"/><circle cx="131.8" cy="831.5" r="3.00"/><circle cx="132.2" cy="798.3" r="3.00"/><circle cx="135.8" cy="805.5" r="3.00"/><circle cx="134.4" cy="787.6" r="3.00"/><circle cx="135.9" cy="810.5" r="3.00"/><circle cx="137.0" cy="797.9" r="3.00"/><circle cx="135.9" cy="822.2" r="3.00"/><circle cx="133.2" cy="818.2" r="3.00"/><circle cx="128.8" cy="801.4" r="3.00"/><circle cx="128.9" cy="817.1" r="3.00"/><circle cx="131.0" cy="812.3" r="3.00"/><circle cx="136.1" cy="819.2" r="3.00"/><circle cx="132.1" cy="778.7" r="3.00"/><circle cx="134.8" cy="799.7" r="3.00"/><circle cx="131.8" cy="804.4" r="3.00"/><circle cx="137.2" cy="814.7" r="3.00"/><circle cx="132.2" cy="836.4" r="3.00"/><circle cx="127.8" cy="809.3" r="3.00"/><circle cx="139.5" cy="804.0" r="3.00"/><circle cx="132.0" cy="783.7" r="3.00"/><circle cx="128.8" cy="796.4" r="3.00"/><circle cx="133.1" cy="810.9" r="3.00"/><circle cx="134.2" cy="781.1" r="3.00"/><circle cx="133.2" cy="773.7" r="3.00"/><circle cx="126.1" cy="802.8" r="3.00"/><circle cx="134.0" cy="833.9" r="3.00"/><circle cx="130.4" cy="823.9" r="3.00"/><circle cx="138.8" cy="807.5" r="3.00"/><circle cx="131.3" cy="829.2" r="3.00"/><circle cx="128.3" cy="813.4" r="3.00"/><circle cx="134.1" cy="776.6" r="3.00"/><circle cx="135.6" cy="792.6" r="3.00"/><circle cx="132.0" cy="771.2" r="3.00"/><circle cx="131.6" cy="815.9" r="3.00"/><circle cx="131.8" cy="821.0" r="3.00"/><circle cx="132.3" cy="790.5" r="3.00"/><circle cx="130.9" cy="808.6" r="3.00"/><circle cx="133.7" cy="769.7" r="3.00"/><circle cx="133.8" cy="795.4" r="3.00"/><circle cx="133.9" cy="785.3" r="3.00"/><circle cx="126.7" cy="806.3" r="3.00"/><circle cx="131.2" cy="788.7" r="3.00"/><circle cx="139.7" cy="800.6" r="3.00"/><circle cx="131.8" cy="825.9" r="3.00"/><circle cx="132.4" cy="766.6" r="3.00"/><circle cx="133.1" cy="801.9" r="3.00"/><circle cx="132.9" cy="746.8" r="3.00"/></g>
<g stroke="#ff2418" opacity="0.9"><rect x="128.7" y="798.6" width="8.4" height="6.0" fill="#ff2418" fill-opacity="0.45" stroke="none"/><line x1="122.2" y1="801.6" x2="143.6" y2="801.6" stroke-width="2.4"/><line x1="132.9" y1="798.6" x2="132.9" y2="804.6" stroke-width="1.4"/><line x1="128.7" y1="798.6" x2="137.1" y2="798.6" stroke-width="1.2"/><line x1="128.7" y1="804.6" x2="137.1" y2="804.6" stroke-width="1.2"/></g>
<g fill="#5a0fa0" stroke="#150818" stroke-width="0.75"><circle cx="160.2" cy="837.4" r="3.00"/><circle cx="162.8" cy="828.7" r="3.00"/><circle cx="159.5" cy="849.0" r="3.00"/><circle cx="160.3" cy="829.7" r="3.00"/><circle cx="158.3" cy="844.1" r="3.00"/><circle cx="164.6" cy="843.7" r="3.00"/><circle cx="166.1" cy="849.6" r="3.00"/><circle cx="168.5" cy="845.1" r="3.00"/><circle cx="166.3" cy="838.2" r="3.00"/><circle cx="162.8" cy="847.4" r="3.00"/><circle cx="164.6" cy="832.1" r="3.00"/><circle cx="157.5" cy="853.1" r="3.00"/><circle cx="155.8" cy="848.3" r="3.00"/><circle cx="164.5" cy="854.0" r="3.00"/><circle cx="161.5" cy="834.2" r="3.00"/><circle cx="159.0" cy="833.7" r="3.00"/><circle cx="161.0" cy="842.3" r="3.00"/><circle cx="157.2" cy="839.2" r="3.00"/><circle cx="161.9" cy="851.2" r="3.00"/><circle cx="165.5" cy="840.8" r="3.00"/><circle cx="158.2" cy="841.4" r="3.00"/><circle cx="166.9" cy="852.0" r="3.00"/><circle cx="160.0" cy="846.3" r="3.00"/><circle cx="160.6" cy="855.1" r="3.00"/><circle cx="163.9" cy="836.3" r="3.00"/></g>
<g stroke="#ff2418" opacity="0.9"><rect x="157.8" y="843.6" width="8.4" height="4.0" fill="#ff2418" fill-opacity="0.45" stroke="none"/><line x1="151.3" y1="845.6" x2="172.7" y2="845.6" stroke-width="2.4"/><line x1="162.0" y1="843.6" x2="162.0" y2="847.6" stroke-width="1.4"/><line x1="157.8" y1="843.6" x2="166.2" y2="843.6" stroke-width="1.2"/><line x1="157.8" y1="847.6" x2="166.2" y2="847.6" stroke-width="1.2"/></g>
<g fill="#5a0fa0" stroke="#150818" stroke-width="0.75"><circle cx="192.5" cy="822.8" r="3.00"/><circle cx="187.9" cy="824.5" r="3.00"/><circle cx="192.0" cy="796.5" r="3.00"/><circle cx="192.4" cy="838.7" r="3.00"/><circle cx="193.3" cy="830.1" r="3.00"/><circle cx="187.5" cy="837.0" r="3.00"/><circle cx="190.9" cy="834.2" r="3.00"/><circle cx="189.8" cy="812.2" r="3.00"/><circle cx="191.9" cy="803.7" r="3.00"/><circle cx="195.9" cy="823.9" r="3.00"/><circle cx="187.3" cy="831.3" r="3.00"/><circle cx="190.6" cy="789.6" r="3.00"/><circle cx="191.0" cy="825.6" r="3.00"/><circle cx="192.0" cy="791.8" r="3.00"/><circle cx="194.6" cy="813.6" r="3.00"/><circle cx="196.2" cy="828.7" r="3.00"/><circle cx="189.2" cy="798.6" r="3.00"/><circle cx="188.7" cy="804.7" r="3.00"/><circle cx="186.6" cy="820.5" r="3.00"/><circle cx="192.8" cy="808.8" r="3.00"/><circle cx="194.1" cy="818.6" r="3.00"/><circle cx="187.8" cy="810.2" r="3.00"/><circle cx="195.5" cy="831.9" r="3.00"/><circle cx="189.7" cy="818.0" r="3.00"/><circle cx="193.4" cy="833.6" r="3.00"/><circle cx="189.1" cy="840.3" r="3.00"/><circle cx="187.6" cy="815.3" r="3.00"/><circle cx="191.0" cy="806.3" r="3.00"/><circle cx="192.5" cy="811.4" r="3.00"/><circle cx="192.8" cy="799.9" r="3.00"/><circle cx="186.3" cy="827.9" r="3.00"/><circle cx="192.3" cy="816.2" r="3.00"/><circle cx="193.1" cy="842.5" r="3.00"/><circle cx="194.7" cy="835.7" r="3.00"/><circle cx="189.5" cy="821.3" r="3.00"/><circle cx="189.5" cy="802.5" r="3.00"/><circle cx="189.9" cy="843.6" r="3.00"/><circle cx="193.6" cy="826.9" r="3.00"/><circle cx="189.7" cy="793.4" r="3.00"/><circle cx="191.0" cy="774.8" r="3.00"/></g>
<g stroke="#ff2418" opacity="0.9"><rect x="186.8" y="818.0" width="8.4" height="4.0" fill="#ff2418" fill-opacity="0.45" stroke="none"/><line x1="180.3" y1="820.0" x2="201.7" y2="820.0" stroke-width="2.4"/><line x1="191.0" y1="818.0" x2="191.0" y2="822.0" stroke-width="1.4"/><line x1="186.8" y1="818.0" x2="195.2" y2="818.0" stroke-width="1.2"/><line x1="186.8" y1="822.0" x2="195.2" y2="822.0" stroke-width="1.2"/></g>
<g fill="#5a0fa0" stroke="#150818" stroke-width="0.75"><circle cx="219.0" cy="814.6" r="3.00"/><circle cx="219.9" cy="821.9" r="3.00"/><circle cx="221.1" cy="796.4" r="3.00"/><circle cx="215.3" cy="821.6" r="3.00"/><circle cx="217.0" cy="805.8" r="3.00"/><circle cx="224.3" cy="812.6" r="3.00"/><circle cx="218.5" cy="795.3" r="3.00"/><circle cx="218.7" cy="790.0" r="3.00"/><circle cx="216.5" cy="830.5" r="3.00"/><circle cx="220.7" cy="839.3" r="3.00"/><circle cx="217.2" cy="835.2" r="3.00"/><circle cx="218.5" cy="850.7" r="3.00"/><circle cx="224.1" cy="819.3" r="3.00"/><circle cx="221.2" cy="788.3" r="3.00"/><circle cx="219.5" cy="801.5" r="3.00"/><circle cx="220.9" cy="809.4" r="3.00"/><circle cx="222.1" cy="846.7" r="3.00"/><circle cx="223.6" cy="808.1" r="3.00"/><circle cx="219.8" cy="778.6" r="3.00"/><circle cx="221.8" cy="800.3" r="3.00"/><circle cx="224.6" cy="830.8" r="3.00"/><circle cx="220.3" cy="832.6" r="3.00"/><circle cx="226.3" cy="823.2" r="3.00"/><circle cx="221.2" cy="826.7" r="3.00"/><circle cx="217.3" cy="841.4" r="3.00"/><circle cx="215.2" cy="816.3" r="3.00"/><circle cx="223.0" cy="815.7" r="3.00"/><circle cx="220.8" cy="780.2" r="3.00"/><circle cx="222.7" cy="833.3" r="3.00"/><circle cx="217.6" cy="820.2" r="3.00"/><circle cx="222.9" cy="840.0" r="3.00"/><circle cx="218.2" cy="828.3" r="3.00"/><circle cx="221.6" cy="836.3" r="3.00"/><circle cx="222.6" cy="803.8" r="3.00"/><circle cx="221.5" cy="792.2" r="3.00"/><circle cx="219.7" cy="806.7" r="3.00"/><circle cx="218.9" cy="797.8" r="3.00"/><circle cx="216.7" cy="810.4" r="3.00"/><circle cx="218.2" cy="837.8" r="3.00"/><circle cx="214.9" cy="825.7" r="3.00"/><circle cx="221.3" cy="849.5" r="3.00"/><circle cx="218.8" cy="786.5" r="3.00"/><circle cx="222.4" cy="829.2" r="3.00"/><circle cx="219.9" cy="843.9" r="3.00"/><circle cx="217.9" cy="825.2" r="3.00"/><circle cx="219.4" cy="811.6" r="3.00"/><circle cx="221.2" cy="818.4" r="3.00"/><circle cx="217.8" cy="817.2" r="3.00"/><circle cx="219.9" cy="783.4" r="3.00"/><circle cx="217.9" cy="845.6" r="3.00"/><circle cx="222.6" cy="824.1" r="3.00"/></g>
<g stroke="#ff2418" opacity="0.9"><rect x="215.8" y="818.0" width="8.4" height="4.0" fill="#ff2418" fill-opacity="0.45" stroke="none"/><line x1="209.3" y1="820.0" x2="230.7" y2="820.0" stroke-width="2.4"/><line x1="220.0" y1="818.0" x2="220.0" y2="822.0" stroke-width="1.4"/><line x1="215.8" y1="818.0" x2="224.2" y2="818.0" stroke-width="1.2"/><line x1="215.8" y1="822.0" x2="224.2" y2="822.0" stroke-width="1.2"/></g>
<g fill="#5a0fa0" stroke="#150818" stroke-width="0.75"><circle cx="253.1" cy="810.8" r="3.00"/><circle cx="246.6" cy="809.1" r="3.00"/><circle cx="245.8" cy="818.5" r="3.00"/><circle cx="245.9" cy="813.9" r="3.00"/><circle cx="246.6" cy="793.5" r="3.00"/><circle cx="247.1" cy="785.0" r="3.00"/><circle cx="248.2" cy="825.0" r="3.00"/><circle cx="252.0" cy="786.7" r="3.00"/><circle cx="250.8" cy="797.5" r="3.00"/><circle cx="253.7" cy="805.6" r="3.00"/><circle cx="248.4" cy="789.6" r="3.00"/><circle cx="246.6" cy="799.8" r="3.00"/><circle cx="250.1" cy="781.6" r="3.00"/><circle cx="251.9" cy="820.2" r="3.00"/><circle cx="253.6" cy="794.3" r="3.00"/><circle cx="250.6" cy="830.8" r="3.00"/><circle cx="254.4" cy="797.2" r="3.00"/><circle cx="249.8" cy="812.3" r="3.00"/><circle cx="243.2" cy="806.4" r="3.00"/><circle cx="248.1" cy="804.2" r="3.00"/><circle cx="253.5" cy="801.1" r="3.00"/><circle cx="245.7" cy="822.6" r="3.00"/><circle cx="248.2" cy="821.2" r="3.00"/><circle cx="252.7" cy="790.8" r="3.00"/><circle cx="250.9" cy="826.8" r="3.00"/><circle cx="245.9" cy="788.8" r="3.00"/><circle cx="244.1" cy="811.1" r="3.00"/><circle cx="249.9" cy="784.3" r="3.00"/><circle cx="250.2" cy="807.5" r="3.00"/><circle cx="247.1" cy="828.3" r="3.00"/><circle cx="253.2" cy="814.8" r="3.00"/><circle cx="248.8" cy="815.5" r="3.00"/><circle cx="244.7" cy="803.8" r="3.00"/><circle cx="243.7" cy="798.5" r="3.00"/><circle cx="247.7" cy="778.5" r="3.00"/><circle cx="249.6" cy="779.6" r="3.00"/><circle cx="252.8" cy="808.1" r="3.00"/><circle cx="252.1" cy="824.1" r="3.00"/><circle cx="249.2" cy="795.3" r="3.00"/><circle cx="251.0" cy="803.0" r="3.00"/><circle cx="250.0" cy="792.2" r="3.00"/><circle cx="251.3" cy="816.8" r="3.00"/><circle cx="242.9" cy="801.4" r="3.00"/><circle cx="249.1" cy="731.5" r="3.00"/><circle cx="249.1" cy="743.0" r="3.00"/><circle cx="249.1" cy="760.8" r="3.00"/><circle cx="249.1" cy="764.0" r="3.00"/></g>
<g stroke="#ff2418" opacity="0.9"><rect x="244.9" y="797.6" width="8.4" height="6.0" fill="#ff2418" fill-opacity="0.45" stroke="none"/><line x1="238.4" y1="800.6" x2="259.8" y2="800.6" stroke-width="2.4"/><line x1="249.1" y1="797.6" x2="249.1" y2="803.6" stroke-width="1.4"/><line x1="244.9" y1="797.6" x2="253.3" y2="797.6" stroke-width="1.2"/><line x1="244.9" y1="803.6" x2="253.3" y2="803.6" stroke-width="1.2"/></g>
<g fill="#0c2cf2" stroke="#150818" stroke-width="0.75"><circle cx="308.4" cy="801.2" r="3.00"/><circle cx="306.6" cy="825.0" r="3.00"/><circle cx="305.2" cy="814.2" r="3.00"/><circle cx="306.1" cy="808.5" r="3.00"/><circle cx="304.5" cy="791.6" r="3.00"/><circle cx="302.4" cy="804.1" r="3.00"/><circle cx="310.4" cy="813.4" r="3.00"/><circle cx="307.1" cy="771.9" r="3.00"/><circle cx="306.8" cy="781.3" r="3.00"/><circle cx="306.1" cy="786.5" r="3.00"/><circle cx="302.8" cy="810.5" r="3.00"/><circle cx="304.1" cy="799.7" r="3.00"/><circle cx="310.9" cy="798.9" r="3.00"/><circle cx="307.1" cy="795.5" r="3.00"/><circle cx="304.9" cy="774.0" r="3.00"/><circle cx="311.3" cy="802.9" r="3.00"/><circle cx="311.2" cy="807.3" r="3.00"/><circle cx="308.6" cy="776.7" r="3.00"/><circle cx="309.8" cy="822.9" r="3.00"/><circle cx="307.2" cy="811.5" r="3.00"/><circle cx="306.5" cy="775.5" r="3.00"/><circle cx="310.1" cy="786.8" r="3.00"/><circle cx="309.7" cy="780.2" r="3.00"/><circle cx="303.6" cy="784.7" r="3.00"/><circle cx="303.9" cy="821.0" r="3.00"/><circle cx="310.4" cy="792.5" r="3.00"/><circle cx="302.1" cy="815.8" r="3.00"/><circle cx="308.2" cy="818.9" r="3.00"/><circle cx="308.0" cy="789.1" r="3.00"/><circle cx="308.2" cy="806.0" r="3.00"/><circle cx="305.9" cy="805.2" r="3.00"/><circle cx="302.9" cy="796.2" r="3.00"/><circle cx="304.5" cy="778.6" r="3.00"/><circle cx="309.9" cy="783.5" r="3.00"/><circle cx="309.7" cy="790.4" r="3.00"/><circle cx="301.9" cy="812.6" r="3.00"/><circle cx="309.0" cy="808.9" r="3.00"/><circle cx="305.0" cy="818.4" r="3.00"/><circle cx="305.1" cy="794.0" r="3.00"/><circle cx="306.9" cy="822.3" r="3.00"/><circle cx="308.4" cy="797.8" r="3.00"/><circle cx="305.5" cy="770.1" r="3.00"/><circle cx="311.5" cy="816.4" r="3.00"/><circle cx="306.8" cy="747.3" r="3.00"/><circle cx="306.8" cy="753.5" r="3.00"/></g>
<g stroke="#ff2418" opacity="0.9"><rect x="302.6" y="796.7" width="8.4" height="6.0" fill="#ff2418" fill-opacity="0.45" stroke="none"/><line x1="296.1" y1="799.7" x2="317.5" y2="799.7" stroke-width="2.4"/><line x1="306.8" y1="796.7" x2="306.8" y2="802.7" stroke-width="1.4"/><line x1="302.6" y1="796.7" x2="311.0" y2="796.7" stroke-width="1.2"/><line x1="302.6" y1="802.7" x2="311.0" y2="802.7" stroke-width="1.2"/></g>
<g fill="#0c2cf2" stroke="#150818" stroke-width="0.75"><circle cx="331.7" cy="858.1" r="3.00"/><circle cx="333.5" cy="850.6" r="3.00"/><circle cx="338.1" cy="848.8" r="3.00"/><circle cx="335.2" cy="845.4" r="3.00"/><circle cx="339.7" cy="852.6" r="3.00"/><circle cx="334.6" cy="835.0" r="3.00"/><circle cx="335.5" cy="854.5" r="3.00"/><circle cx="337.5" cy="837.9" r="3.00"/><circle cx="338.3" cy="860.3" r="3.00"/><circle cx="332.5" cy="848.0" r="3.00"/><circle cx="338.9" cy="846.0" r="3.00"/><circle cx="336.2" cy="830.7" r="3.00"/><circle cx="341.0" cy="855.8" r="3.00"/><circle cx="332.9" cy="842.0" r="3.00"/><circle cx="335.1" cy="839.9" r="3.00"/><circle cx="337.4" cy="843.8" r="3.00"/><circle cx="335.3" cy="826.4" r="3.00"/><circle cx="335.2" cy="859.0" r="3.00"/><circle cx="335.2" cy="832.8" r="3.00"/><circle cx="336.6" cy="851.5" r="3.00"/><circle cx="338.1" cy="856.5" r="3.00"/><circle cx="335.2" cy="837.2" r="3.00"/><circle cx="330.7" cy="853.9" r="3.00"/></g>
<g stroke="#ff2418" opacity="0.9"><rect x="331.5" y="849.9" width="8.4" height="3.0" fill="#ff2418" fill-opacity="0.45" stroke="none"/><line x1="325.0" y1="851.4" x2="346.4" y2="851.4" stroke-width="2.4"/><line x1="335.7" y1="849.9" x2="335.7" y2="852.9" stroke-width="1.4"/><line x1="331.5" y1="849.9" x2="339.9" y2="849.9" stroke-width="1.2"/><line x1="331.5" y1="852.9" x2="339.9" y2="852.9" stroke-width="1.2"/></g>
<g fill="#0c2cf2" stroke="#150818" stroke-width="0.75"><circle cx="366.8" cy="819.0" r="3.00"/><circle cx="367.0" cy="811.3" r="3.00"/><circle cx="361.8" cy="826.4" r="3.00"/><circle cx="365.2" cy="795.5" r="3.00"/><circle cx="362.2" cy="841.6" r="3.00"/><circle cx="363.2" cy="797.5" r="3.00"/><circle cx="363.5" cy="815.4" r="3.00"/><circle cx="365.1" cy="789.5" r="3.00"/><circle cx="367.6" cy="838.2" r="3.00"/><circle cx="370.5" cy="842.1" r="3.00"/><circle cx="362.1" cy="812.3" r="3.00"/><circle cx="366.8" cy="828.9" r="3.00"/><circle cx="359.8" cy="829.3" r="3.00"/><circle cx="362.9" cy="821.5" r="3.00"/><circle cx="364.1" cy="809.7" r="3.00"/><circle cx="363.6" cy="793.6" r="3.00"/><circle cx="370.3" cy="831.4" r="3.00"/><circle cx="369.8" cy="827.1" r="3.00"/><circle cx="358.9" cy="839.7" r="3.00"/><circle cx="362.6" cy="837.0" r="3.00"/><circle cx="363.1" cy="830.6" r="3.00"/><circle cx="368.7" cy="816.6" r="3.00"/><circle cx="367.6" cy="807.5" r="3.00"/><circle cx="371.0" cy="837.8" r="3.00"/><circle cx="367.4" cy="847.9" r="3.00"/><circle cx="365.6" cy="835.5" r="3.00"/><circle cx="366.5" cy="814.5" r="3.00"/><circle cx="359.8" cy="834.4" r="3.00"/><circle cx="364.0" cy="790.3" r="3.00"/><circle cx="366.4" cy="824.4" r="3.00"/><circle cx="365.2" cy="840.0" r="3.00"/><circle cx="367.5" cy="832.5" r="3.00"/><circle cx="366.5" cy="801.1" r="3.00"/><circle cx="370.0" cy="834.0" r="3.00"/><circle cx="365.3" cy="844.1" r="3.00"/><circle cx="363.2" cy="850.0" r="3.00"/><circle cx="362.5" cy="806.1" r="3.00"/><circle cx="360.8" cy="845.4" r="3.00"/><circle cx="363.8" cy="846.8" r="3.00"/><circle cx="364.6" cy="803.7" r="3.00"/><circle cx="369.3" cy="821.0" r="3.00"/><circle cx="360.6" cy="823.0" r="3.00"/><circle cx="364.8" cy="799.3" r="3.00"/><circle cx="363.9" cy="825.0" r="3.00"/><circle cx="368.4" cy="843.6" r="3.00"/><circle cx="361.2" cy="817.8" r="3.00"/><circle cx="366.5" cy="805.3" r="3.00"/><circle cx="365.0" cy="760.9" r="3.00"/><circle cx="365.0" cy="771.3" r="3.00"/></g>
<g stroke="#ff2418" opacity="0.9"><rect x="360.8" y="820.0" width="8.4" height="6.0" fill="#ff2418" fill-opacity="0.45" stroke="none"/><line x1="354.3" y1="823.0" x2="375.7" y2="823.0" stroke-width="2.4"/><line x1="365.0" y1="820.0" x2="365.0" y2="826.0" stroke-width="1.4"/><line x1="360.8" y1="820.0" x2="369.2" y2="820.0" stroke-width="1.2"/><line x1="360.8" y1="826.0" x2="369.2" y2="826.0" stroke-width="1.2"/></g>
<g fill="#0c2cf2" stroke="#150818" stroke-width="0.75"><circle cx="394.0" cy="833.2" r="3.00"/><circle cx="399.6" cy="834.0" r="3.00"/><circle cx="394.3" cy="799.8" r="3.00"/><circle cx="396.1" cy="849.7" r="3.00"/><circle cx="396.2" cy="843.1" r="3.00"/><circle cx="398.6" cy="828.9" r="3.00"/><circle cx="391.5" cy="814.4" r="3.00"/><circle cx="391.7" cy="845.9" r="3.00"/><circle cx="388.6" cy="831.3" r="3.00"/><circle cx="392.6" cy="802.0" r="3.00"/><circle cx="392.8" cy="848.6" r="3.00"/><circle cx="390.7" cy="824.2" r="3.00"/><circle cx="389.5" cy="839.2" r="3.00"/><circle cx="395.6" cy="823.5" r="3.00"/><circle cx="396.0" cy="811.9" r="3.00"/><circle cx="391.8" cy="807.7" r="3.00"/><circle cx="396.6" cy="838.1" r="3.00"/><circle cx="391.2" cy="836.1" r="3.00"/><circle cx="392.7" cy="822.4" r="3.00"/><circle cx="397.5" cy="819.5" r="3.00"/><circle cx="395.6" cy="803.3" r="3.00"/><circle cx="389.2" cy="844.5" r="3.00"/><circle cx="393.7" cy="826.6" r="3.00"/><circle cx="397.9" cy="847.7" r="3.00"/><circle cx="394.9" cy="809.0" r="3.00"/><circle cx="399.5" cy="837.4" r="3.00"/><circle cx="397.9" cy="825.8" r="3.00"/><circle cx="399.2" cy="843.6" r="3.00"/><circle cx="395.3" cy="815.9" r="3.00"/><circle cx="393.2" cy="805.0" r="3.00"/><circle cx="393.3" cy="841.0" r="3.00"/><circle cx="390.1" cy="827.8" r="3.00"/><circle cx="390.5" cy="817.1" r="3.00"/><circle cx="397.2" cy="831.7" r="3.00"/><circle cx="388.2" cy="835.5" r="3.00"/><circle cx="393.3" cy="818.1" r="3.00"/><circle cx="390.1" cy="820.6" r="3.00"/><circle cx="390.3" cy="841.9" r="3.00"/><circle cx="393.0" cy="830.0" r="3.00"/><circle cx="398.5" cy="839.6" r="3.00"/><circle cx="392.2" cy="810.4" r="3.00"/><circle cx="394.0" cy="772.0" r="3.00"/><circle cx="394.0" cy="778.7" r="3.00"/><circle cx="394.0" cy="785.5" r="3.00"/><circle cx="394.0" cy="860.6" r="3.00"/></g>
<g stroke="#ff2418" opacity="0.9"><rect x="389.8" y="821.9" width="8.4" height="6.0" fill="#ff2418" fill-opacity="0.45" stroke="none"/><line x1="383.3" y1="824.9" x2="404.7" y2="824.9" stroke-width="2.4"/><line x1="394.0" y1="821.9" x2="394.0" y2="827.9" stroke-width="1.4"/><line x1="389.8" y1="821.9" x2="398.2" y2="821.9" stroke-width="1.2"/><line x1="389.8" y1="827.9" x2="398.2" y2="827.9" stroke-width="1.2"/></g>
<g fill="#0c2cf2" stroke="#222c6a" stroke-width="0.70"><circle cx="425.3" cy="827.7" r="3.00"/><circle cx="418.1" cy="802.1" r="3.00"/><circle cx="420.7" cy="781.0" r="3.00"/><circle cx="424.0" cy="805.2" r="3.00"/><circle cx="425.3" cy="782.0" r="3.00"/><circle cx="426.7" cy="799.6" r="3.00"/><circle cx="424.0" cy="817.9" r="3.00"/><circle cx="423.6" cy="768.9" r="3.00"/><circle cx="428.5" cy="807.5" r="3.00"/><circle cx="419.5" cy="806.0" r="3.00"/><circle cx="422.2" cy="800.8" r="3.00"/><circle cx="427.9" cy="804.1" r="3.00"/><circle cx="421.0" cy="829.9" r="3.00"/><circle cx="419.6" cy="797.4" r="3.00"/><circle cx="419.0" cy="815.6" r="3.00"/><circle cx="428.2" cy="814.5" r="3.00"/><circle cx="420.1" cy="819.6" r="3.00"/><circle cx="425.0" cy="774.2" r="3.00"/><circle cx="423.6" cy="792.9" r="3.00"/><circle cx="427.3" cy="795.5" r="3.00"/><circle cx="423.1" cy="777.6" r="3.00"/><circle cx="418.8" cy="792.3" r="3.00"/><circle cx="424.1" cy="823.4" r="3.00"/><circle cx="422.4" cy="809.2" r="3.00"/><circle cx="417.8" cy="812.1" r="3.00"/><circle cx="421.5" cy="771.9" r="3.00"/><circle cx="427.3" cy="790.7" r="3.00"/><circle cx="424.3" cy="798.5" r="3.00"/><circle cx="422.2" cy="784.6" r="3.00"/><circle cx="419.7" cy="783.1" r="3.00"/><circle cx="425.3" cy="832.4" r="3.00"/><circle cx="427.5" cy="819.1" r="3.00"/><circle cx="420.9" cy="776.1" r="3.00"/><circle cx="425.9" cy="811.3" r="3.00"/><circle cx="421.3" cy="788.7" r="3.00"/><circle cx="423.1" cy="828.7" r="3.00"/><circle cx="425.1" cy="787.5" r="3.00"/><circle cx="419.6" cy="826.3" r="3.00"/><circle cx="421.5" cy="816.6" r="3.00"/><circle cx="421.8" cy="833.5" r="3.00"/><circle cx="419.7" cy="785.9" r="3.00"/><circle cx="423.0" cy="820.6" r="3.00"/><circle cx="423.7" cy="789.5" r="3.00"/><circle cx="422.3" cy="770.3" r="3.00"/><circle cx="428.8" cy="810.6" r="3.00"/><circle cx="427.2" cy="821.7" r="3.00"/><circle cx="421.5" cy="824.2" r="3.00"/><circle cx="421.1" cy="803.4" r="3.00"/><circle cx="425.2" cy="808.2" r="3.00"/><circle cx="422.1" cy="796.3" r="3.00"/><circle cx="426.2" cy="779.4" r="3.00"/><circle cx="421.4" cy="813.1" r="3.00"/><circle cx="420.6" cy="794.2" r="3.00"/><circle cx="423.2" cy="751.6" r="3.00"/></g>
<g stroke="#ff2418" opacity="0.9"><rect x="419.0" y="799.7" width="8.4" height="6.0" fill="#ff2418" fill-opacity="0.45" stroke="none"/><line x1="412.5" y1="802.7" x2="433.9" y2="802.7" stroke-width="2.4"/><line x1="423.2" y1="799.7" x2="423.2" y2="805.7" stroke-width="1.4"/><line x1="419.0" y1="799.7" x2="427.4" y2="799.7" stroke-width="1.2"/><line x1="419.0" y1="805.7" x2="427.4" y2="805.7" stroke-width="1.2"/></g>
<g fill="#ff9612" stroke="#150818" stroke-width="0.75"><circle cx="479.0" cy="809.9" r="3.00"/><circle cx="482.7" cy="823.4" r="3.00"/><circle cx="479.8" cy="833.5" r="3.00"/><circle cx="478.2" cy="820.7" r="3.00"/><circle cx="480.4" cy="788.3" r="3.00"/><circle cx="483.6" cy="830.7" r="3.00"/><circle cx="482.4" cy="799.7" r="3.00"/><circle cx="479.3" cy="800.5" r="3.00"/><circle cx="486.6" cy="826.3" r="3.00"/><circle cx="481.0" cy="794.4" r="3.00"/><circle cx="483.2" cy="803.4" r="3.00"/><circle cx="475.7" cy="827.2" r="3.00"/><circle cx="479.9" cy="828.3" r="3.00"/><circle cx="484.5" cy="813.2" r="3.00"/><circle cx="486.7" cy="822.3" r="3.00"/><circle cx="481.1" cy="812.6" r="3.00"/><circle cx="483.1" cy="836.9" r="3.00"/><circle cx="480.7" cy="821.3" r="3.00"/><circle cx="481.1" cy="777.5" r="3.00"/><circle cx="484.0" cy="819.4" r="3.00"/><circle cx="481.6" cy="787.0" r="3.00"/><circle cx="480.1" cy="796.5" r="3.00"/><circle cx="478.7" cy="825.1" r="3.00"/><circle cx="480.6" cy="780.9" r="3.00"/><circle cx="480.5" cy="817.0" r="3.00"/><circle cx="483.3" cy="808.3" r="3.00"/><circle cx="478.5" cy="805.4" r="3.00"/><circle cx="481.5" cy="782.4" r="3.00"/><circle cx="476.9" cy="815.2" r="3.00"/><circle cx="476.9" cy="831.6" r="3.00"/><circle cx="477.5" cy="834.6" r="3.00"/><circle cx="480.2" cy="791.8" r="3.00"/><circle cx="484.5" cy="810.5" r="3.00"/><circle cx="476.1" cy="818.6" r="3.00"/><circle cx="483.7" cy="816.2" r="3.00"/><circle cx="478.3" cy="829.8" r="3.00"/><circle cx="480.8" cy="835.9" r="3.00"/><circle cx="480.8" cy="806.9" r="3.00"/><circle cx="474.9" cy="824.6" r="3.00"/><circle cx="481.0" cy="763.5" r="3.00"/><circle cx="481.0" cy="851.5" r="3.00"/></g>
<g stroke="#ff2418" opacity="0.9"><rect x="476.8" y="816.3" width="8.4" height="4.0" fill="#ff2418" fill-opacity="0.45" stroke="none"/><line x1="470.3" y1="818.3" x2="491.7" y2="818.3" stroke-width="2.4"/><line x1="481.0" y1="816.3" x2="481.0" y2="820.3" stroke-width="1.4"/><line x1="476.8" y1="816.3" x2="485.2" y2="816.3" stroke-width="1.2"/><line x1="476.8" y1="820.3" x2="485.2" y2="820.3" stroke-width="1.2"/></g>
<g fill="#ff9612" stroke="#150818" stroke-width="0.75"><circle cx="513.4" cy="848.0" r="3.00"/><circle cx="507.0" cy="846.8" r="3.00"/><circle cx="509.7" cy="850.9" r="3.00"/><circle cx="505.4" cy="852.4" r="3.00"/><circle cx="506.6" cy="849.9" r="3.00"/><circle cx="510.4" cy="846.3" r="3.00"/><circle cx="513.5" cy="854.8" r="3.00"/><circle cx="512.8" cy="843.9" r="3.00"/><circle cx="508.6" cy="857.0" r="3.00"/><circle cx="504.2" cy="858.0" r="3.00"/><circle cx="515.4" cy="858.9" r="3.00"/><circle cx="509.6" cy="840.8" r="3.00"/><circle cx="515.0" cy="851.4" r="3.00"/><circle cx="516.6" cy="856.2" r="3.00"/><circle cx="508.0" cy="842.7" r="3.00"/><circle cx="505.1" cy="855.3" r="3.00"/><circle cx="508.2" cy="853.7" r="3.00"/><circle cx="511.5" cy="860.5" r="3.00"/></g>
<g stroke="#ff2418" opacity="0.9"><rect x="505.8" y="852.5" width="8.4" height="3.0" fill="#ff2418" fill-opacity="0.45" stroke="none"/><line x1="499.3" y1="854.0" x2="520.7" y2="854.0" stroke-width="2.4"/><line x1="510.0" y1="852.5" x2="510.0" y2="855.5" stroke-width="1.4"/><line x1="505.8" y1="852.5" x2="514.2" y2="852.5" stroke-width="1.2"/><line x1="505.8" y1="855.5" x2="514.2" y2="855.5" stroke-width="1.2"/></g>
<g fill="#ff9612" stroke="#150818" stroke-width="0.75"><circle cx="545.7" cy="834.4" r="3.00"/><circle cx="537.4" cy="817.6" r="3.00"/><circle cx="544.3" cy="826.2" r="3.00"/><circle cx="539.3" cy="835.0" r="3.00"/><circle cx="532.5" cy="842.6" r="3.00"/><circle cx="532.2" cy="837.3" r="3.00"/><circle cx="539.3" cy="827.2" r="3.00"/><circle cx="535.5" cy="830.0" r="3.00"/><circle cx="534.4" cy="820.9" r="3.00"/><circle cx="539.2" cy="810.4" r="3.00"/><circle cx="535.3" cy="856.4" r="3.00"/><circle cx="543.1" cy="837.8" r="3.00"/><circle cx="532.6" cy="828.1" r="3.00"/><circle cx="536.4" cy="838.6" r="3.00"/><circle cx="534.5" cy="824.8" r="3.00"/><circle cx="540.3" cy="857.1" r="3.00"/><circle cx="540.1" cy="840.3" r="3.00"/><circle cx="541.6" cy="815.1" r="3.00"/><circle cx="539.8" cy="846.5" r="3.00"/><circle cx="534.7" cy="847.4" r="3.00"/><circle cx="542.6" cy="820.1" r="3.00"/><circle cx="542.0" cy="829.4" r="3.00"/><circle cx="534.8" cy="836.1" r="3.00"/><circle cx="532.5" cy="833.6" r="3.00"/><circle cx="545.7" cy="845.7" r="3.00"/><circle cx="540.0" cy="816.7" r="3.00"/><circle cx="536.3" cy="812.8" r="3.00"/><circle cx="545.8" cy="839.4" r="3.00"/><circle cx="542.8" cy="848.6" r="3.00"/><circle cx="537.3" cy="859.6" r="3.00"/><circle cx="541.4" cy="825.2" r="3.00"/><circle cx="542.7" cy="853.2" r="3.00"/><circle cx="537.6" cy="823.3" r="3.00"/><circle cx="536.7" cy="843.8" r="3.00"/><circle cx="539.5" cy="831.3" r="3.00"/><circle cx="535.1" cy="818.6" r="3.00"/><circle cx="542.8" cy="840.9" r="3.00"/><circle cx="537.7" cy="850.4" r="3.00"/><circle cx="538.0" cy="854.0" r="3.00"/><circle cx="538.7" cy="858.3" r="3.00"/><circle cx="542.2" cy="822.7" r="3.00"/><circle cx="533.2" cy="854.9" r="3.00"/><circle cx="534.7" cy="852.0" r="3.00"/><circle cx="541.3" cy="812.1" r="3.00"/><circle cx="545.8" cy="851.5" r="3.00"/><circle cx="544.0" cy="831.9" r="3.00"/><circle cx="537.3" cy="847.7" r="3.00"/><circle cx="536.8" cy="832.9" r="3.00"/><circle cx="542.6" cy="844.4" r="3.00"/><circle cx="532.3" cy="849.5" r="3.00"/><circle cx="545.3" cy="842.2" r="3.00"/><circle cx="538.9" cy="795.5" r="3.00"/></g>
<g stroke="#ff2418" opacity="0.9"><rect x="534.7" y="834.1" width="8.4" height="4.0" fill="#ff2418" fill-opacity="0.45" stroke="none"/><line x1="528.2" y1="836.1" x2="549.6" y2="836.1" stroke-width="2.4"/><line x1="538.9" y1="834.1" x2="538.9" y2="838.1" stroke-width="1.4"/><line x1="534.7" y1="834.1" x2="543.1" y2="834.1" stroke-width="1.2"/><line x1="534.7" y1="838.1" x2="543.1" y2="838.1" stroke-width="1.2"/></g>
<g fill="#ff9612" stroke="#150818" stroke-width="0.75"><circle cx="563.9" cy="830.9" r="3.00"/><circle cx="568.3" cy="786.0" r="3.00"/><circle cx="572.2" cy="833.4" r="3.00"/><circle cx="572.9" cy="844.9" r="3.00"/><circle cx="565.9" cy="823.9" r="3.00"/><circle cx="565.4" cy="854.4" r="3.00"/><circle cx="568.0" cy="808.3" r="3.00"/><circle cx="571.7" cy="839.5" r="3.00"/><circle cx="565.5" cy="838.8" r="3.00"/><circle cx="563.5" cy="845.6" r="3.00"/><circle cx="568.5" cy="860.5" r="3.00"/><circle cx="567.8" cy="843.2" r="3.00"/><circle cx="570.6" cy="825.2" r="3.00"/><circle cx="569.1" cy="830.0" r="3.00"/><circle cx="572.3" cy="853.1" r="3.00"/><circle cx="569.3" cy="821.2" r="3.00"/><circle cx="564.3" cy="842.3" r="3.00"/><circle cx="569.5" cy="813.4" r="3.00"/><circle cx="569.7" cy="841.1" r="3.00"/><circle cx="569.2" cy="847.6" r="3.00"/><circle cx="568.8" cy="837.4" r="3.00"/><circle cx="563.3" cy="835.5" r="3.00"/><circle cx="569.6" cy="856.5" r="3.00"/><circle cx="568.5" cy="802.3" r="3.00"/><circle cx="565.2" cy="858.3" r="3.00"/><circle cx="567.3" cy="822.2" r="3.00"/><circle cx="562.3" cy="850.8" r="3.00"/><circle cx="568.2" cy="792.4" r="3.00"/><circle cx="570.5" cy="843.8" r="3.00"/><circle cx="565.7" cy="818.2" r="3.00"/><circle cx="567.1" cy="832.7" r="3.00"/><circle cx="568.5" cy="796.3" r="3.00"/><circle cx="569.9" cy="834.5" r="3.00"/><circle cx="568.4" cy="791.3" r="3.00"/><circle cx="567.9" cy="800.7" r="3.00"/><circle cx="571.7" cy="819.6" r="3.00"/><circle cx="574.0" cy="849.6" r="3.00"/><circle cx="564.3" cy="826.0" r="3.00"/><circle cx="572.7" cy="855.4" r="3.00"/><circle cx="571.6" cy="859.0" r="3.00"/><circle cx="565.2" cy="848.4" r="3.00"/><circle cx="568.7" cy="806.3" r="3.00"/><circle cx="569.0" cy="816.8" r="3.00"/><circle cx="572.6" cy="828.4" r="3.00"/><circle cx="567.3" cy="812.2" r="3.00"/><circle cx="573.1" cy="836.5" r="3.00"/><circle cx="566.4" cy="815.8" r="3.00"/><circle cx="566.9" cy="846.7" r="3.00"/><circle cx="568.6" cy="852.7" r="3.00"/><circle cx="566.9" cy="827.8" r="3.00"/><circle cx="564.9" cy="851.8" r="3.00"/></g>
<g stroke="#ff2418" opacity="0.9"><rect x="564.0" y="831.7" width="8.4" height="4.0" fill="#ff2418" fill-opacity="0.45" stroke="none"/><line x1="557.5" y1="833.7" x2="578.9" y2="833.7" stroke-width="2.4"/><line x1="568.2" y1="831.7" x2="568.2" y2="835.7" stroke-width="1.4"/><line x1="564.0" y1="831.7" x2="572.4" y2="831.7" stroke-width="1.2"/><line x1="564.0" y1="835.7" x2="572.4" y2="835.7" stroke-width="1.2"/></g>
<g fill="#ff9612" stroke="#150818" stroke-width="0.75"><circle cx="596.0" cy="814.8" r="3.00"/><circle cx="595.6" cy="833.3" r="3.00"/><circle cx="595.1" cy="806.8" r="3.00"/><circle cx="602.0" cy="817.5" r="3.00"/><circle cx="599.8" cy="831.0" r="3.00"/><circle cx="599.3" cy="835.5" r="3.00"/><circle cx="597.2" cy="826.9" r="3.00"/><circle cx="601.2" cy="823.0" r="3.00"/><circle cx="593.1" cy="824.7" r="3.00"/><circle cx="597.0" cy="822.5" r="3.00"/><circle cx="596.5" cy="799.5" r="3.00"/><circle cx="600.3" cy="807.8" r="3.00"/><circle cx="591.4" cy="813.9" r="3.00"/><circle cx="592.8" cy="818.0" r="3.00"/><circle cx="593.8" cy="835.9" r="3.00"/><circle cx="600.4" cy="813.6" r="3.00"/><circle cx="599.2" cy="795.8" r="3.00"/><circle cx="593.7" cy="810.4" r="3.00"/><circle cx="596.9" cy="839.2" r="3.00"/><circle cx="599.7" cy="825.4" r="3.00"/><circle cx="600.5" cy="801.1" r="3.00"/><circle cx="597.4" cy="811.9" r="3.00"/><circle cx="597.6" cy="808.8" r="3.00"/><circle cx="597.4" cy="790.5" r="3.00"/><circle cx="599.5" cy="838.3" r="3.00"/><circle cx="598.3" cy="804.7" r="3.00"/><circle cx="601.9" cy="811.3" r="3.00"/><circle cx="591.9" cy="821.6" r="3.00"/><circle cx="593.8" cy="797.9" r="3.00"/><circle cx="595.6" cy="794.3" r="3.00"/><circle cx="592.6" cy="803.7" r="3.00"/><circle cx="593.3" cy="829.9" r="3.00"/><circle cx="600.4" cy="805.4" r="3.00"/><circle cx="599.3" cy="819.9" r="3.00"/><circle cx="596.1" cy="819.3" r="3.00"/><circle cx="598.7" cy="815.9" r="3.00"/><circle cx="601.0" cy="827.8" r="3.00"/><circle cx="598.7" cy="792.6" r="3.00"/><circle cx="594.5" cy="801.6" r="3.00"/><circle cx="597.6" cy="832.1" r="3.00"/><circle cx="596.8" cy="758.5" r="3.00"/><circle cx="596.8" cy="761.6" r="3.00"/><circle cx="596.8" cy="771.5" r="3.00"/><circle cx="596.8" cy="778.3" r="3.00"/><circle cx="596.8" cy="849.7" r="3.00"/></g>
<g stroke="#ff2418" opacity="0.9"><rect x="592.6" y="810.1" width="8.4" height="4.0" fill="#ff2418" fill-opacity="0.45" stroke="none"/><line x1="586.1" y1="812.1" x2="607.5" y2="812.1" stroke-width="2.4"/><line x1="596.8" y1="810.1" x2="596.8" y2="814.1" stroke-width="1.4"/><line x1="592.6" y1="810.1" x2="601.0" y2="810.1" stroke-width="1.2"/><line x1="592.6" y1="814.1" x2="601.0" y2="814.1" stroke-width="1.2"/></g>
<text x="55.76" y="903.38" font-size="25.36" font-weight="bold" fill="#000" stroke="#000" stroke-width="0.45" textLength="18.00" lengthAdjust="spacingAndGlyphs">H</text>
<text x="73.95" y="906.27" font-size="13.60" font-weight="bold" fill="#000" stroke="#000" stroke-width="0.45" textLength="7.68" lengthAdjust="spacingAndGlyphs">2</text>
<text x="82.79" y="903.98" font-size="27.11" font-weight="bold" fill="#000" stroke="#000" stroke-width="0.45" textLength="21.55" lengthAdjust="spacingAndGlyphs">O</text>
<text x="104.65" y="906.27" font-size="13.60" font-weight="bold" fill="#000" stroke="#000" stroke-width="0.45" textLength="7.68" lengthAdjust="spacingAndGlyphs">2</text>
<rect x="116.70" y="890.00" width="4.20" height="4.20" fill="#000" rx="0.8"/>
<rect x="116.70" y="899.70" width="4.20" height="4.20" fill="#000" rx="0.8"/>
<text x="41.46" y="930.98" font-size="25.36" font-weight="bold" fill="#000" stroke="#000" stroke-width="0.45" textLength="38.79" lengthAdjust="spacingAndGlyphs">OA</text>
<text x="80.75" y="933.88" font-size="17.66" font-weight="bold" fill="#000" stroke="#000" stroke-width="0.45" textLength="32.09" lengthAdjust="spacingAndGlyphs">Low</text>
<rect x="116.70" y="918.10" width="4.20" height="4.20" fill="#000" rx="0.8"/>
<rect x="116.70" y="926.70" width="4.20" height="4.20" fill="#000" rx="0.8"/>
<text x="33.78" y="961.48" font-size="24.64" font-weight="bold" fill="#000" stroke="#000" stroke-width="0.45" textLength="76.54" lengthAdjust="spacingAndGlyphs">AMPK</text>
<text x="111.54" y="963.77" font-size="14.20" font-weight="bold" fill="#000" stroke="#000" stroke-width="0.45" textLength="2.73" lengthAdjust="spacingAndGlyphs">i</text>
<rect x="116.70" y="949.20" width="4.20" height="4.20" fill="#000" rx="0.8"/>
<rect x="116.70" y="957.80" width="4.20" height="4.20" fill="#000" rx="0.8"/>
<rect x="128.75" y="897.60" width="12.50" height="4.00" fill="#000" />
<rect x="155.70" y="897.80" width="16.60" height="3.60" fill="#000" />
<rect x="162.20" y="891.30" width="3.60" height="16.60" fill="#000" />
<rect x="184.50" y="897.80" width="16.60" height="3.60" fill="#000" />
<rect x="191.00" y="891.30" width="3.60" height="16.60" fill="#000" />
<rect x="213.40" y="897.80" width="16.60" height="3.60" fill="#000" />
<rect x="219.90" y="891.30" width="3.60" height="16.60" fill="#000" />
<rect x="242.20" y="897.80" width="16.60" height="3.60" fill="#000" />
<rect x="248.70" y="891.30" width="3.60" height="16.60" fill="#000" />
<rect x="301.95" y="897.60" width="12.50" height="4.00" fill="#000" />
<rect x="329.10" y="897.80" width="16.60" height="3.60" fill="#000" />
<rect x="335.60" y="891.30" width="3.60" height="16.60" fill="#000" />
<rect x="357.90" y="897.80" width="16.60" height="3.60" fill="#000" />
<rect x="364.40" y="891.30" width="3.60" height="16.60" fill="#000" />
<rect x="386.90" y="897.80" width="16.60" height="3.60" fill="#000" />
<rect x="393.40" y="891.30" width="3.60" height="16.60" fill="#000" />
<rect x="415.90" y="897.80" width="16.60" height="3.60" fill="#000" />
<rect x="422.40" y="891.30" width="3.60" height="16.60" fill="#000" />
<rect x="475.35" y="897.60" width="12.50" height="4.00" fill="#000" />
<rect x="502.50" y="897.80" width="16.60" height="3.60" fill="#000" />
<rect x="509.00" y="891.30" width="3.60" height="16.60" fill="#000" />
<rect x="531.70" y="897.80" width="16.60" height="3.60" fill="#000" />
<rect x="538.20" y="891.30" width="3.60" height="16.60" fill="#000" />
<rect x="560.60" y="897.80" width="16.60" height="3.60" fill="#000" />
<rect x="567.10" y="891.30" width="3.60" height="16.60" fill="#000" />
<rect x="589.80" y="897.80" width="16.60" height="3.60" fill="#000" />
<rect x="596.30" y="891.30" width="3.60" height="16.60" fill="#000" />
<rect x="128.75" y="924.00" width="12.50" height="4.00" fill="#000" />
<rect x="157.55" y="924.00" width="12.50" height="4.00" fill="#000" />
<rect x="184.50" y="924.20" width="16.60" height="3.60" fill="#000" />
<rect x="191.00" y="917.70" width="3.60" height="16.60" fill="#000" />
<rect x="215.25" y="924.00" width="12.50" height="4.00" fill="#000" />
<rect x="242.20" y="924.20" width="16.60" height="3.60" fill="#000" />
<rect x="248.70" y="917.70" width="3.60" height="16.60" fill="#000" />
<rect x="301.95" y="924.00" width="12.50" height="4.00" fill="#000" />
<rect x="330.95" y="924.00" width="12.50" height="4.00" fill="#000" />
<rect x="357.90" y="924.20" width="16.60" height="3.60" fill="#000" />
<rect x="364.40" y="917.70" width="3.60" height="16.60" fill="#000" />
<rect x="388.75" y="924.00" width="12.50" height="4.00" fill="#000" />
<rect x="415.90" y="924.20" width="16.60" height="3.60" fill="#000" />
<rect x="422.40" y="917.70" width="3.60" height="16.60" fill="#000" />
<rect x="475.35" y="924.00" width="12.50" height="4.00" fill="#000" />
<rect x="504.35" y="924.00" width="12.50" height="4.00" fill="#000" />
<rect x="531.70" y="924.20" width="16.60" height="3.60" fill="#000" />
<rect x="538.20" y="917.70" width="3.60" height="16.60" fill="#000" />
<rect x="562.45" y="924.00" width="12.50" height="4.00" fill="#000" />
<rect x="589.80" y="924.20" width="16.60" height="3.60" fill="#000" />
<rect x="596.30" y="917.70" width="3.60" height="16.60" fill="#000" />
<rect x="128.75" y="951.00" width="12.50" height="4.00" fill="#000" />
<rect x="157.55" y="951.00" width="12.50" height="4.00" fill="#000" />
<rect x="186.35" y="951.00" width="12.50" height="4.00" fill="#000" />
<rect x="213.40" y="951.20" width="16.60" height="3.60" fill="#000" />
<rect x="219.90" y="944.70" width="3.60" height="16.60" fill="#000" />
<rect x="242.20" y="951.20" width="16.60" height="3.60" fill="#000" />
<rect x="248.70" y="944.70" width="3.60" height="16.60" fill="#000" />
<rect x="301.95" y="951.00" width="12.50" height="4.00" fill="#000" />
<rect x="330.95" y="951.00" width="12.50" height="4.00" fill="#000" />
<rect x="359.75" y="951.00" width="12.50" height="4.00" fill="#000" />
<rect x="386.90" y="951.20" width="16.60" height="3.60" fill="#000" />
<rect x="393.40" y="944.70" width="3.60" height="16.60" fill="#000" />
<rect x="415.90" y="951.20" width="16.60" height="3.60" fill="#000" />
<rect x="422.40" y="944.70" width="3.60" height="16.60" fill="#000" />
<rect x="475.35" y="951.00" width="12.50" height="4.00" fill="#000" />
<rect x="504.35" y="951.00" width="12.50" height="4.00" fill="#000" />
<rect x="533.55" y="951.00" width="12.50" height="4.00" fill="#000" />
<rect x="560.60" y="951.20" width="16.60" height="3.60" fill="#000" />
<rect x="567.10" y="944.70" width="3.60" height="16.60" fill="#000" />
<rect x="589.80" y="951.20" width="16.60" height="3.60" fill="#000" />
<rect x="596.30" y="944.70" width="3.60" height="16.60" fill="#000" />
<text x="615.49" y="355.17" font-size="47.60" font-weight="bold" fill="#000" stroke="#000" stroke-width="0.45" textLength="32.79" lengthAdjust="spacingAndGlyphs">D</text>
<text x="739.36" y="375.38" font-size="26.09" font-weight="bold" fill="#000" stroke="#000" stroke-width="0.45" textLength="77.61" lengthAdjust="spacingAndGlyphs">FoxO1</text>
<text x="905.48" y="375.38" font-size="26.09" font-weight="bold" fill="#000" stroke="#000" stroke-width="0.45" textLength="95.63" lengthAdjust="spacingAndGlyphs">FoxO3a</text>
<text x="1087.79" y="375.38" font-size="26.09" font-weight="bold" fill="#000" stroke="#000" stroke-width="0.45" textLength="80.52" lengthAdjust="spacingAndGlyphs">FoxO4</text>
<text x="648.33" y="394.17" font-size="13.44" font-weight="bold" fill="#000" stroke="#000" stroke-width="0.45" textLength="37.71" lengthAdjust="spacingAndGlyphs">Cyto</text>
<text x="645.19" y="562.98" font-size="15.04" font-weight="bold" fill="#000" stroke="#000" stroke-width="0.45" textLength="31.98" lengthAdjust="spacingAndGlyphs">Nuc</text>
<polygon points="692.80,385.00 692.80,570.80 682.30,570.80" fill="#efefef" stroke="#111" stroke-width="1.4" stroke-linejoin="miter"/>
<line x1="704.00" y1="383.30" x2="704.00" y2="570.90" stroke="#000" stroke-width="2.30"/>
<line x1="698.20" y1="446.00" x2="704.00" y2="446.00" stroke="#000" stroke-width="2.00"/>
<line x1="698.20" y1="508.40" x2="704.00" y2="508.40" stroke="#000" stroke-width="2.00"/>
<line x1="698.20" y1="384.30" x2="705.10" y2="384.30" stroke="#000" stroke-width="2.00"/>
<line x1="695.50" y1="569.80" x2="1206.50" y2="569.80" stroke="#000" stroke-width="2.30"/>
<line x1="722.80" y1="569.80" x2="722.80" y2="579.30" stroke="#000" stroke-width="2.00"/>
<line x1="751.50" y1="569.80" x2="751.50" y2="579.30" stroke="#000" stroke-width="2.00"/>
<line x1="780.90" y1="569.80" x2="780.90" y2="579.30" stroke="#000" stroke-width="2.00"/>
<line x1="809.90" y1="569.80" x2="809.90" y2="579.30" stroke="#000" stroke-width="2.00"/>
<line x1="838.60" y1="569.80" x2="838.60" y2="579.30" stroke="#000" stroke-width="2.00"/>
<line x1="896.90" y1="569.80" x2="896.90" y2="579.30" stroke="#000" stroke-width="2.00"/>
<line x1="926.00" y1="569.80" x2="926.00" y2="579.30" stroke="#000" stroke-width="2.00"/>
<line x1="955.00" y1="569.80" x2="955.00" y2="579.30" stroke="#000" stroke-width="2.00"/>
<line x1="984.00" y1="569.80" x2="984.00" y2="579.30" stroke="#000" stroke-width="2.00"/>
<line x1="1013.00" y1="569.80" x2="1013.00" y2="579.30" stroke="#000" stroke-width="2.00"/>
<line x1="1071.20" y1="569.80" x2="1071.20" y2="579.30" stroke="#000" stroke-width="2.00"/>
<line x1="1100.60" y1="569.80" x2="1100.60" y2="579.30" stroke="#000" stroke-width="2.00"/>
<line x1="1129.40" y1="569.80" x2="1129.40" y2="579.30" stroke="#000" stroke-width="2.00"/>
<line x1="1158.20" y1="569.80" x2="1158.20" y2="579.30" stroke="#000" stroke-width="2.00"/>
<line x1="1187.20" y1="569.80" x2="1187.20" y2="579.30" stroke="#000" stroke-width="2.00"/>
<line x1="868.50" y1="569.80" x2="868.50" y2="579.30" stroke="#000" stroke-width="2.00"/>
<line x1="1042.50" y1="569.80" x2="1042.50" y2="579.30" stroke="#000" stroke-width="2.00"/>
<line x1="721.40" y1="390.30" x2="753.00" y2="390.30" stroke="#2a2a2a" stroke-width="1.90"/>
<polygon points="727.10,376.87 728.54,379.79 731.76,380.25 729.43,382.53 729.98,385.73 727.10,384.22 724.22,385.73 724.77,382.53 722.44,380.25 725.66,379.79" fill="#000"/>
<polygon points="737.50,376.87 738.94,379.79 742.16,380.25 739.83,382.53 740.38,385.73 737.50,384.22 734.62,385.73 735.17,382.53 732.84,380.25 736.06,379.79" fill="#000"/>
<polygon points="747.90,376.87 749.34,379.79 752.56,380.25 750.23,382.53 750.78,385.73 747.90,384.22 745.02,385.73 745.57,382.53 743.24,380.25 746.46,379.79" fill="#000"/>
<line x1="810.00" y1="451.70" x2="839.50" y2="451.70" stroke="#2a2a2a" stroke-width="1.90"/>
<polygon points="814.60,439.77 816.04,442.69 819.26,443.15 816.93,445.43 817.48,448.63 814.60,447.12 811.72,448.63 812.27,445.43 809.94,443.15 813.16,442.69" fill="#000"/>
<polygon points="825.00,439.77 826.44,442.69 829.66,443.15 827.33,445.43 827.88,448.63 825.00,447.12 822.12,448.63 822.67,445.43 820.34,443.15 823.56,442.69" fill="#000"/>
<polygon points="835.40,439.77 836.84,442.69 840.06,443.15 837.73,445.43 838.28,448.63 835.40,447.12 832.52,448.63 833.07,445.43 830.74,443.15 833.96,442.69" fill="#000"/>
<line x1="897.30" y1="403.00" x2="927.40" y2="403.00" stroke="#2a2a2a" stroke-width="1.90"/>
<polygon points="902.10,391.07 903.54,393.99 906.76,394.45 904.43,396.73 904.98,399.93 902.10,398.42 899.22,399.93 899.77,396.73 897.44,394.45 900.66,393.99" fill="#000"/>
<polygon points="912.50,391.07 913.94,393.99 917.16,394.45 914.83,396.73 915.38,399.93 912.50,398.42 909.62,399.93 910.17,396.73 907.84,394.45 911.06,393.99" fill="#000"/>
<polygon points="922.90,391.07 924.34,393.99 927.56,394.45 925.23,396.73 925.78,399.93 922.90,398.42 920.02,399.93 920.57,396.73 918.24,394.45 921.46,393.99" fill="#000"/>
<line x1="981.90" y1="445.60" x2="1012.00" y2="445.60" stroke="#2a2a2a" stroke-width="1.90"/>
<polygon points="986.60,433.17 988.04,436.09 991.26,436.55 988.93,438.83 989.48,442.03 986.60,440.52 983.72,442.03 984.27,438.83 981.94,436.55 985.16,436.09" fill="#000"/>
<polygon points="997.00,433.17 998.44,436.09 1001.66,436.55 999.33,438.83 999.88,442.03 997.00,440.52 994.12,442.03 994.67,438.83 992.34,436.55 995.56,436.09" fill="#000"/>
<polygon points="1007.40,433.17 1008.84,436.09 1012.06,436.55 1009.73,438.83 1010.28,442.03 1007.40,440.52 1004.52,442.03 1005.07,438.83 1002.74,436.55 1005.96,436.09" fill="#000"/>
<line x1="1071.00" y1="456.20" x2="1101.30" y2="456.20" stroke="#2a2a2a" stroke-width="1.90"/>
<polygon points="1075.60,442.07 1077.04,444.99 1080.26,445.45 1077.93,447.73 1078.48,450.93 1075.60,449.42 1072.72,450.93 1073.27,447.73 1070.94,445.45 1074.16,444.99" fill="#000"/>
<polygon points="1086.00,442.07 1087.44,444.99 1090.66,445.45 1088.33,447.73 1088.88,450.93 1086.00,449.42 1083.12,450.93 1083.67,447.73 1081.34,445.45 1084.56,444.99" fill="#000"/>
<polygon points="1096.40,442.07 1097.84,444.99 1101.06,445.45 1098.73,447.73 1099.28,450.93 1096.40,449.42 1093.52,450.93 1094.07,447.73 1091.74,445.45 1094.96,444.99" fill="#000"/>
<line x1="1159.00" y1="475.50" x2="1189.00" y2="475.50" stroke="#2a2a2a" stroke-width="1.90"/>
<polygon points="1163.60,461.37 1165.04,464.29 1168.26,464.75 1165.93,467.03 1166.48,470.23 1163.60,468.72 1160.72,470.23 1161.27,467.03 1158.94,464.75 1162.16,464.29" fill="#000"/>
<polygon points="1174.00,461.37 1175.44,464.29 1178.66,464.75 1176.33,467.03 1176.88,470.23 1174.00,468.72 1171.12,470.23 1171.67,467.03 1169.34,464.75 1172.56,464.29" fill="#000"/>
<polygon points="1184.40,461.37 1185.84,464.29 1189.06,464.75 1186.73,467.03 1187.28,470.23 1184.40,468.72 1181.52,470.23 1182.07,467.03 1179.74,464.75 1182.96,464.29" fill="#000"/>
<g fill="#5a0fa0" stroke="#150818" stroke-width="0.75"><circle cx="722.9" cy="468.9" r="3.00"/><circle cx="724.9" cy="475.9" r="3.00"/><circle cx="720.3" cy="444.9" r="3.00"/><circle cx="725.9" cy="419.9" r="3.00"/><circle cx="725.5" cy="455.0" r="3.00"/><circle cx="725.4" cy="450.6" r="3.00"/><circle cx="720.3" cy="421.7" r="3.00"/><circle cx="726.9" cy="424.6" r="3.00"/><circle cx="725.2" cy="438.1" r="3.00"/><circle cx="722.0" cy="426.8" r="3.00"/><circle cx="727.1" cy="471.8" r="3.00"/><circle cx="719.7" cy="477.4" r="3.00"/><circle cx="725.8" cy="444.2" r="3.00"/><circle cx="719.9" cy="449.4" r="3.00"/><circle cx="720.5" cy="434.6" r="3.00"/><circle cx="726.4" cy="432.0" r="3.00"/><circle cx="721.5" cy="410.6" r="3.00"/><circle cx="721.7" cy="475.1" r="3.00"/><circle cx="722.2" cy="418.3" r="3.00"/><circle cx="720.2" cy="415.9" r="3.00"/><circle cx="722.7" cy="462.4" r="3.00"/><circle cx="723.9" cy="422.7" r="3.00"/><circle cx="722.5" cy="441.4" r="3.00"/><circle cx="718.1" cy="469.8" r="3.00"/><circle cx="719.6" cy="429.4" r="3.00"/><circle cx="727.0" cy="459.7" r="3.00"/><circle cx="719.2" cy="457.1" r="3.00"/><circle cx="724.8" cy="412.3" r="3.00"/><circle cx="724.0" cy="443.0" r="3.00"/><circle cx="718.2" cy="463.9" r="3.00"/><circle cx="721.6" cy="453.3" r="3.00"/><circle cx="725.2" cy="417.2" r="3.00"/><circle cx="723.2" cy="447.7" r="3.00"/><circle cx="728.0" cy="455.8" r="3.00"/><circle cx="716.4" cy="460.6" r="3.00"/><circle cx="722.4" cy="413.9" r="3.00"/><circle cx="719.6" cy="440.0" r="3.00"/><circle cx="718.2" cy="452.1" r="3.00"/><circle cx="723.0" cy="432.5" r="3.00"/><circle cx="727.9" cy="465.4" r="3.00"/><circle cx="722.1" cy="437.1" r="3.00"/><circle cx="726.1" cy="446.6" r="3.00"/><circle cx="720.9" cy="471.3" r="3.00"/><circle cx="721.9" cy="459.2" r="3.00"/><circle cx="724.2" cy="430.1" r="3.00"/><circle cx="726.1" cy="435.8" r="3.00"/><circle cx="720.2" cy="467.6" r="3.00"/><circle cx="727.0" cy="428.1" r="3.00"/><circle cx="724.8" cy="464.9" r="3.00"/><circle cx="724.7" cy="458.3" r="3.00"/><circle cx="719.4" cy="425.6" r="3.00"/><circle cx="722.8" cy="478.7" r="3.00"/><circle cx="717.5" cy="466.9" r="3.00"/><circle cx="718.8" cy="473.8" r="3.00"/><circle cx="729.0" cy="461.5" r="3.00"/><circle cx="719.4" cy="454.1" r="3.00"/><circle cx="720.2" cy="480.7" r="3.00"/><circle cx="722.8" cy="394.8" r="3.00"/><circle cx="722.8" cy="404.0" r="3.00"/><circle cx="722.8" cy="499.0" r="3.00"/></g>
<g stroke="#ff2418" opacity="0.9"><rect x="718.6" y="439.7" width="8.4" height="8.0" fill="#ff2418" fill-opacity="0.45" stroke="none"/><line x1="712.1" y1="443.7" x2="733.5" y2="443.7" stroke-width="2.4"/><line x1="722.8" y1="439.7" x2="722.8" y2="447.7" stroke-width="1.4"/><line x1="718.6" y1="439.7" x2="727.0" y2="439.7" stroke-width="1.2"/><line x1="718.6" y1="447.7" x2="727.0" y2="447.7" stroke-width="1.2"/></g>
<g fill="#5a0fa0" stroke="#150818" stroke-width="0.75"><circle cx="755.7" cy="557.8" r="3.00"/><circle cx="748.6" cy="556.6" r="3.00"/><circle cx="750.9" cy="552.6" r="3.00"/><circle cx="744.8" cy="559.5" r="3.00"/><circle cx="752.9" cy="561.8" r="3.00"/><circle cx="747.0" cy="551.8" r="3.00"/><circle cx="754.5" cy="550.6" r="3.00"/><circle cx="756.4" cy="554.1" r="3.00"/><circle cx="751.8" cy="558.4" r="3.00"/><circle cx="748.3" cy="563.0" r="3.00"/><circle cx="749.3" cy="560.3" r="3.00"/><circle cx="757.6" cy="560.9" r="3.00"/><circle cx="745.3" cy="554.9" r="3.00"/><circle cx="753.5" cy="555.4" r="3.00"/></g>
<g stroke="#ff2418" opacity="0.9"><rect x="746.8" y="558.5" width="8.4" height="3.0" fill="#ff2418" fill-opacity="0.45" stroke="none"/><line x1="740.3" y1="560.0" x2="761.7" y2="560.0" stroke-width="2.4"/><line x1="751.0" y1="558.5" x2="751.0" y2="561.5" stroke-width="1.4"/><line x1="746.8" y1="558.5" x2="755.2" y2="558.5" stroke-width="1.2"/><line x1="746.8" y1="561.5" x2="755.2" y2="561.5" stroke-width="1.2"/></g>
<g fill="#5a0fa0" stroke="#150818" stroke-width="0.75"><circle cx="780.5" cy="545.5" r="3.00"/><circle cx="776.0" cy="551.9" r="3.00"/><circle cx="783.3" cy="540.8" r="3.00"/><circle cx="783.5" cy="532.6" r="3.00"/><circle cx="785.3" cy="548.9" r="3.00"/><circle cx="780.7" cy="550.2" r="3.00"/><circle cx="776.6" cy="537.7" r="3.00"/><circle cx="779.9" cy="539.2" r="3.00"/><circle cx="786.0" cy="540.1" r="3.00"/><circle cx="776.4" cy="556.7" r="3.00"/><circle cx="781.2" cy="535.6" r="3.00"/><circle cx="780.3" cy="527.7" r="3.00"/><circle cx="783.9" cy="555.3" r="3.00"/><circle cx="776.2" cy="546.8" r="3.00"/><circle cx="782.9" cy="529.1" r="3.00"/><circle cx="779.3" cy="553.2" r="3.00"/><circle cx="785.9" cy="552.3" r="3.00"/><circle cx="781.3" cy="554.5" r="3.00"/><circle cx="786.1" cy="544.1" r="3.00"/><circle cx="782.5" cy="547.5" r="3.00"/><circle cx="783.2" cy="544.9" r="3.00"/><circle cx="777.7" cy="549.6" r="3.00"/><circle cx="775.2" cy="541.5" r="3.00"/><circle cx="784.9" cy="536.6" r="3.00"/><circle cx="777.4" cy="533.6" r="3.00"/><circle cx="777.9" cy="543.0" r="3.00"/><circle cx="780.0" cy="531.4" r="3.00"/></g>
<g stroke="#ff2418" opacity="0.9"><rect x="776.4" y="543.6" width="8.4" height="4.0" fill="#ff2418" fill-opacity="0.45" stroke="none"/><line x1="769.9" y1="545.6" x2="791.3" y2="545.6" stroke-width="2.4"/><line x1="780.6" y1="543.6" x2="780.6" y2="547.6" stroke-width="1.4"/><line x1="776.4" y1="543.6" x2="784.8" y2="543.6" stroke-width="1.2"/><line x1="776.4" y1="547.6" x2="784.8" y2="547.6" stroke-width="1.2"/></g>
<g fill="#5a0fa0" stroke="#150818" stroke-width="0.75"><circle cx="803.9" cy="507.4" r="3.00"/><circle cx="811.0" cy="494.8" r="3.00"/><circle cx="809.8" cy="537.5" r="3.00"/><circle cx="808.2" cy="516.8" r="3.00"/><circle cx="814.9" cy="511.5" r="3.00"/><circle cx="810.2" cy="503.4" r="3.00"/><circle cx="807.2" cy="493.7" r="3.00"/><circle cx="812.5" cy="529.8" r="3.00"/><circle cx="810.0" cy="473.4" r="3.00"/><circle cx="807.8" cy="482.7" r="3.00"/><circle cx="810.8" cy="480.6" r="3.00"/><circle cx="806.1" cy="527.7" r="3.00"/><circle cx="811.3" cy="520.6" r="3.00"/><circle cx="811.0" cy="484.6" r="3.00"/><circle cx="808.5" cy="531.0" r="3.00"/><circle cx="807.1" cy="522.4" r="3.00"/><circle cx="813.9" cy="521.7" r="3.00"/><circle cx="815.4" cy="504.3" r="3.00"/><circle cx="809.8" cy="512.4" r="3.00"/><circle cx="807.9" cy="486.8" r="3.00"/><circle cx="813.5" cy="500.1" r="3.00"/><circle cx="809.8" cy="492.2" r="3.00"/><circle cx="807.5" cy="490.0" r="3.00"/><circle cx="805.1" cy="502.4" r="3.00"/><circle cx="808.3" cy="471.6" r="3.00"/><circle cx="804.3" cy="518.1" r="3.00"/><circle cx="808.0" cy="478.2" r="3.00"/><circle cx="810.1" cy="469.2" r="3.00"/><circle cx="805.2" cy="514.2" r="3.00"/><circle cx="811.1" cy="488.3" r="3.00"/><circle cx="810.6" cy="526.3" r="3.00"/><circle cx="811.8" cy="509.3" r="3.00"/><circle cx="811.9" cy="523.8" r="3.00"/><circle cx="805.6" cy="525.0" r="3.00"/><circle cx="809.4" cy="461.6" r="3.00"/><circle cx="810.7" cy="476.0" r="3.00"/><circle cx="805.8" cy="497.5" r="3.00"/><circle cx="813.0" cy="515.5" r="3.00"/><circle cx="807.3" cy="535.5" r="3.00"/><circle cx="808.4" cy="496.1" r="3.00"/><circle cx="810.2" cy="464.5" r="3.00"/><circle cx="811.6" cy="534.6" r="3.00"/><circle cx="808.5" cy="466.5" r="3.00"/><circle cx="807.9" cy="501.4" r="3.00"/><circle cx="812.7" cy="512.9" r="3.00"/><circle cx="808.9" cy="499.3" r="3.00"/><circle cx="808.0" cy="519.6" r="3.00"/><circle cx="807.0" cy="504.8" r="3.00"/><circle cx="811.0" cy="531.9" r="3.00"/><circle cx="808.2" cy="508.8" r="3.00"/><circle cx="810.5" cy="506.6" r="3.00"/><circle cx="806.4" cy="515.9" r="3.00"/><circle cx="813.9" cy="506.2" r="3.00"/><circle cx="805.1" cy="510.3" r="3.00"/></g>
<g stroke="#ff2418" opacity="0.9"><rect x="805.2" y="504.7" width="8.4" height="8.0" fill="#ff2418" fill-opacity="0.45" stroke="none"/><line x1="798.7" y1="508.7" x2="820.1" y2="508.7" stroke-width="2.4"/><line x1="809.4" y1="504.7" x2="809.4" y2="512.7" stroke-width="1.4"/><line x1="805.2" y1="504.7" x2="813.6" y2="504.7" stroke-width="1.2"/><line x1="805.2" y1="512.7" x2="813.6" y2="512.7" stroke-width="1.2"/></g>
<g fill="#5a0fa0" stroke="#150818" stroke-width="0.75"><circle cx="838.0" cy="537.9" r="3.00"/><circle cx="836.4" cy="548.6" r="3.00"/><circle cx="840.8" cy="537.2" r="3.00"/><circle cx="835.9" cy="542.5" r="3.00"/><circle cx="843.6" cy="550.1" r="3.00"/><circle cx="840.9" cy="546.8" r="3.00"/><circle cx="836.5" cy="553.5" r="3.00"/><circle cx="841.9" cy="541.1" r="3.00"/><circle cx="840.4" cy="552.1" r="3.00"/><circle cx="843.8" cy="555.3" r="3.00"/><circle cx="835.9" cy="560.5" r="3.00"/><circle cx="834.5" cy="546.0" r="3.00"/><circle cx="841.7" cy="559.5" r="3.00"/><circle cx="832.4" cy="558.7" r="3.00"/><circle cx="833.5" cy="551.0" r="3.00"/><circle cx="842.7" cy="548.1" r="3.00"/><circle cx="834.1" cy="553.9" r="3.00"/><circle cx="838.8" cy="544.2" r="3.00"/><circle cx="840.2" cy="539.5" r="3.00"/><circle cx="845.4" cy="558.2" r="3.00"/><circle cx="838.4" cy="557.3" r="3.00"/><circle cx="841.3" cy="556.3" r="3.00"/></g>
<g stroke="#ff2418" opacity="0.9"><rect x="834.7" y="552.9" width="8.4" height="4.0" fill="#ff2418" fill-opacity="0.45" stroke="none"/><line x1="828.2" y1="554.9" x2="849.6" y2="554.9" stroke-width="2.4"/><line x1="838.9" y1="552.9" x2="838.9" y2="556.9" stroke-width="1.4"/><line x1="834.7" y1="552.9" x2="843.1" y2="552.9" stroke-width="1.2"/><line x1="834.7" y1="556.9" x2="843.1" y2="556.9" stroke-width="1.2"/></g>
<g fill="#0c2cf2" stroke="#150818" stroke-width="0.75"><circle cx="896.1" cy="477.5" r="3.00"/><circle cx="898.2" cy="472.8" r="3.00"/><circle cx="898.0" cy="492.5" r="3.00"/><circle cx="895.6" cy="483.6" r="3.00"/><circle cx="893.9" cy="494.6" r="3.00"/><circle cx="896.5" cy="499.6" r="3.00"/><circle cx="894.4" cy="489.3" r="3.00"/><circle cx="895.5" cy="474.4" r="3.00"/><circle cx="900.7" cy="488.7" r="3.00"/><circle cx="901.0" cy="496.2" r="3.00"/><circle cx="898.2" cy="452.4" r="3.00"/><circle cx="897.3" cy="466.1" r="3.00"/><circle cx="891.5" cy="490.2" r="3.00"/><circle cx="894.8" cy="464.7" r="3.00"/><circle cx="901.0" cy="500.3" r="3.00"/><circle cx="896.7" cy="459.0" r="3.00"/><circle cx="894.9" cy="450.1" r="3.00"/><circle cx="899.7" cy="461.6" r="3.00"/><circle cx="894.3" cy="454.6" r="3.00"/><circle cx="895.1" cy="471.1" r="3.00"/><circle cx="897.4" cy="480.3" r="3.00"/><circle cx="899.5" cy="456.4" r="3.00"/><circle cx="898.7" cy="469.0" r="3.00"/><circle cx="898.5" cy="483.1" r="3.00"/><circle cx="902.8" cy="491.4" r="3.00"/><circle cx="898.5" cy="463.9" r="3.00"/><circle cx="898.3" cy="447.4" r="3.00"/><circle cx="897.0" cy="487.6" r="3.00"/><circle cx="892.1" cy="497.2" r="3.00"/><circle cx="893.8" cy="460.2" r="3.00"/><circle cx="896.4" cy="448.4" r="3.00"/><circle cx="891.1" cy="493.3" r="3.00"/><circle cx="899.4" cy="485.5" r="3.00"/><circle cx="894.6" cy="457.8" r="3.00"/><circle cx="898.9" cy="498.3" r="3.00"/><circle cx="897.1" cy="495.4" r="3.00"/><circle cx="895.8" cy="408.8" r="3.00"/><circle cx="897.8" cy="412.0" r="3.00"/><circle cx="896.8" cy="415.8" r="3.00"/><circle cx="896.8" cy="431.3" r="3.00"/><circle cx="896.8" cy="439.0" r="3.00"/></g>
<g stroke="#ff2418" opacity="0.9"><rect x="892.6" y="466.2" width="8.4" height="8.0" fill="#ff2418" fill-opacity="0.45" stroke="none"/><line x1="886.1" y1="470.2" x2="907.5" y2="470.2" stroke-width="2.4"/><line x1="896.8" y1="466.2" x2="896.8" y2="474.2" stroke-width="1.4"/><line x1="892.6" y1="466.2" x2="901.0" y2="466.2" stroke-width="1.2"/><line x1="892.6" y1="474.2" x2="901.0" y2="474.2" stroke-width="1.2"/></g>
<g fill="#0c2cf2" stroke="#150818" stroke-width="0.75"><circle cx="926.0" cy="562.0" r="3.00"/><circle cx="925.9" cy="549.7" r="3.00"/><circle cx="922.1" cy="564.5" r="3.00"/><circle cx="921.5" cy="553.1" r="3.00"/><circle cx="931.1" cy="563.1" r="3.00"/><circle cx="929.4" cy="552.0" r="3.00"/><circle cx="925.2" cy="553.5" r="3.00"/><circle cx="919.0" cy="558.9" r="3.00"/><circle cx="930.3" cy="556.8" r="3.00"/><circle cx="919.3" cy="555.0" r="3.00"/><circle cx="928.7" cy="560.4" r="3.00"/><circle cx="919.2" cy="562.9" r="3.00"/><circle cx="923.0" cy="560.0" r="3.00"/><circle cx="927.1" cy="558.2" r="3.00"/><circle cx="923.3" cy="555.8" r="3.00"/></g>
<g stroke="#ff2418" opacity="0.9"><rect x="920.8" y="558.8" width="8.4" height="3.0" fill="#ff2418" fill-opacity="0.45" stroke="none"/><line x1="914.3" y1="560.3" x2="935.7" y2="560.3" stroke-width="2.4"/><line x1="925.0" y1="558.8" x2="925.0" y2="561.8" stroke-width="1.4"/><line x1="920.8" y1="558.8" x2="929.2" y2="558.8" stroke-width="1.2"/><line x1="920.8" y1="561.8" x2="929.2" y2="561.8" stroke-width="1.2"/></g>
<g fill="#0c2cf2" stroke="#150818" stroke-width="0.75"><circle cx="952.4" cy="536.5" r="3.00"/><circle cx="957.7" cy="538.9" r="3.00"/><circle cx="953.3" cy="548.6" r="3.00"/><circle cx="950.0" cy="552.9" r="3.00"/><circle cx="960.7" cy="551.4" r="3.00"/><circle cx="960.7" cy="546.7" r="3.00"/><circle cx="950.1" cy="539.8" r="3.00"/><circle cx="956.7" cy="543.5" r="3.00"/><circle cx="952.8" cy="556.5" r="3.00"/><circle cx="957.1" cy="554.2" r="3.00"/><circle cx="956.1" cy="533.5" r="3.00"/><circle cx="955.2" cy="537.1" r="3.00"/><circle cx="953.8" cy="552.2" r="3.00"/><circle cx="959.9" cy="558.1" r="3.00"/><circle cx="949.5" cy="556.2" r="3.00"/><circle cx="956.3" cy="558.8" r="3.00"/><circle cx="953.9" cy="540.8" r="3.00"/><circle cx="956.9" cy="547.5" r="3.00"/><circle cx="953.6" cy="529.5" r="3.00"/><circle cx="958.4" cy="534.6" r="3.00"/><circle cx="948.6" cy="549.3" r="3.00"/><circle cx="951.9" cy="531.9" r="3.00"/><circle cx="950.5" cy="545.8" r="3.00"/><circle cx="957.5" cy="530.7" r="3.00"/><circle cx="959.8" cy="554.7" r="3.00"/><circle cx="960.4" cy="542.3" r="3.00"/><circle cx="957.7" cy="541.5" r="3.00"/><circle cx="955.7" cy="550.0" r="3.00"/><circle cx="953.4" cy="544.3" r="3.00"/></g>
<g stroke="#ff2418" opacity="0.9"><rect x="950.7" y="546.2" width="8.4" height="4.0" fill="#ff2418" fill-opacity="0.45" stroke="none"/><line x1="944.2" y1="548.2" x2="965.6" y2="548.2" stroke-width="2.4"/><line x1="954.9" y1="546.2" x2="954.9" y2="550.2" stroke-width="1.4"/><line x1="950.7" y1="546.2" x2="959.1" y2="546.2" stroke-width="1.2"/><line x1="950.7" y1="550.2" x2="959.1" y2="550.2" stroke-width="1.2"/></g>
<g fill="#0c2cf2" stroke="#150818" stroke-width="0.75"><circle cx="979.6" cy="513.3" r="3.00"/><circle cx="982.8" cy="456.7" r="3.00"/><circle cx="979.3" cy="522.7" r="3.00"/><circle cx="989.0" cy="517.2" r="3.00"/><circle cx="986.1" cy="532.4" r="3.00"/><circle cx="983.3" cy="516.8" r="3.00"/><circle cx="982.8" cy="465.6" r="3.00"/><circle cx="985.6" cy="524.1" r="3.00"/><circle cx="981.5" cy="535.3" r="3.00"/><circle cx="984.7" cy="459.5" r="3.00"/><circle cx="980.2" cy="503.5" r="3.00"/><circle cx="986.6" cy="520.4" r="3.00"/><circle cx="985.0" cy="468.5" r="3.00"/><circle cx="982.3" cy="471.7" r="3.00"/><circle cx="980.8" cy="531.5" r="3.00"/><circle cx="981.7" cy="479.9" r="3.00"/><circle cx="984.8" cy="463.2" r="3.00"/><circle cx="981.5" cy="491.2" r="3.00"/><circle cx="982.4" cy="467.5" r="3.00"/><circle cx="986.2" cy="515.8" r="3.00"/><circle cx="984.0" cy="511.2" r="3.00"/><circle cx="981.8" cy="525.7" r="3.00"/><circle cx="978.1" cy="518.4" r="3.00"/><circle cx="985.7" cy="501.9" r="3.00"/><circle cx="984.9" cy="538.1" r="3.00"/><circle cx="985.2" cy="472.8" r="3.00"/><circle cx="985.9" cy="492.8" r="3.00"/><circle cx="988.7" cy="514.6" r="3.00"/><circle cx="986.4" cy="512.3" r="3.00"/><circle cx="985.5" cy="488.2" r="3.00"/><circle cx="987.7" cy="528.1" r="3.00"/><circle cx="982.2" cy="497.9" r="3.00"/><circle cx="985.7" cy="506.7" r="3.00"/><circle cx="981.6" cy="507.6" r="3.00"/><circle cx="981.5" cy="486.1" r="3.00"/><circle cx="980.3" cy="494.9" r="3.00"/><circle cx="988.0" cy="503.9" r="3.00"/><circle cx="985.7" cy="480.4" r="3.00"/><circle cx="984.0" cy="534.2" r="3.00"/><circle cx="980.8" cy="500.6" r="3.00"/><circle cx="983.1" cy="521.8" r="3.00"/><circle cx="979.3" cy="505.8" r="3.00"/><circle cx="987.2" cy="499.0" r="3.00"/><circle cx="979.0" cy="509.9" r="3.00"/><circle cx="981.4" cy="519.2" r="3.00"/><circle cx="984.5" cy="527.6" r="3.00"/><circle cx="988.4" cy="508.8" r="3.00"/><circle cx="983.9" cy="489.9" r="3.00"/><circle cx="982.5" cy="475.4" r="3.00"/><circle cx="983.5" cy="483.1" r="3.00"/><circle cx="985.9" cy="484.0" r="3.00"/><circle cx="984.3" cy="477.9" r="3.00"/><circle cx="983.6" cy="451.9" r="3.00"/><circle cx="983.1" cy="493.7" r="3.00"/><circle cx="984.9" cy="497.2" r="3.00"/><circle cx="984.5" cy="455.5" r="3.00"/><circle cx="982.1" cy="529.3" r="3.00"/><circle cx="988.5" cy="524.6" r="3.00"/></g>
<g stroke="#ff2418" opacity="0.9"><rect x="979.5" y="503.2" width="8.4" height="8.0" fill="#ff2418" fill-opacity="0.45" stroke="none"/><line x1="973.0" y1="507.2" x2="994.4" y2="507.2" stroke-width="2.4"/><line x1="983.7" y1="503.2" x2="983.7" y2="511.2" stroke-width="1.4"/><line x1="979.5" y1="503.2" x2="987.9" y2="503.2" stroke-width="1.2"/><line x1="979.5" y1="511.2" x2="987.9" y2="511.2" stroke-width="1.2"/></g>
<g fill="#0c2cf2" stroke="#222c6a" stroke-width="0.70"><circle cx="1007.9" cy="556.8" r="3.00"/><circle cx="1014.1" cy="555.2" r="3.00"/><circle cx="1012.2" cy="562.3" r="3.00"/><circle cx="1013.1" cy="532.6" r="3.00"/><circle cx="1015.0" cy="549.3" r="3.00"/><circle cx="1010.2" cy="552.9" r="3.00"/><circle cx="1010.3" cy="545.5" r="3.00"/><circle cx="1017.0" cy="559.9" r="3.00"/><circle cx="1012.9" cy="558.0" r="3.00"/><circle cx="1012.0" cy="538.3" r="3.00"/><circle cx="1018.9" cy="550.2" r="3.00"/><circle cx="1014.1" cy="540.1" r="3.00"/><circle cx="1012.5" cy="530.4" r="3.00"/><circle cx="1011.7" cy="541.4" r="3.00"/><circle cx="1020.3" cy="553.7" r="3.00"/><circle cx="1005.6" cy="551.9" r="3.00"/><circle cx="1013.1" cy="551.2" r="3.00"/><circle cx="1014.4" cy="543.4" r="3.00"/><circle cx="1008.3" cy="548.3" r="3.00"/><circle cx="1013.7" cy="535.9" r="3.00"/><circle cx="1008.7" cy="561.0" r="3.00"/><circle cx="1017.4" cy="554.6" r="3.00"/><circle cx="1012.5" cy="547.6" r="3.00"/><circle cx="1010.5" cy="556.4" r="3.00"/><circle cx="1010.3" cy="558.6" r="3.00"/><circle cx="1012.9" cy="514.5" r="3.00"/></g>
<g stroke="#ff2418" opacity="0.9"><rect x="1008.7" y="550.5" width="8.4" height="4.0" fill="#ff2418" fill-opacity="0.45" stroke="none"/><line x1="1002.2" y1="552.5" x2="1023.6" y2="552.5" stroke-width="2.4"/><line x1="1012.9" y1="550.5" x2="1012.9" y2="554.5" stroke-width="1.4"/><line x1="1008.7" y1="550.5" x2="1017.1" y2="550.5" stroke-width="1.2"/><line x1="1008.7" y1="554.5" x2="1017.1" y2="554.5" stroke-width="1.2"/></g>
<g fill="#ff9612" stroke="#150818" stroke-width="0.75"><circle cx="1075.7" cy="511.7" r="3.00"/><circle cx="1071.7" cy="542.2" r="3.00"/><circle cx="1070.5" cy="494.1" r="3.00"/><circle cx="1068.3" cy="514.2" r="3.00"/><circle cx="1073.8" cy="517.1" r="3.00"/><circle cx="1068.3" cy="505.1" r="3.00"/><circle cx="1066.5" cy="519.2" r="3.00"/><circle cx="1072.0" cy="512.8" r="3.00"/><circle cx="1065.7" cy="508.7" r="3.00"/><circle cx="1075.9" cy="521.5" r="3.00"/><circle cx="1068.3" cy="531.3" r="3.00"/><circle cx="1076.5" cy="529.2" r="3.00"/><circle cx="1076.5" cy="515.1" r="3.00"/><circle cx="1071.8" cy="502.3" r="3.00"/><circle cx="1071.0" cy="469.4" r="3.00"/><circle cx="1071.1" cy="471.5" r="3.00"/><circle cx="1073.9" cy="496.9" r="3.00"/><circle cx="1068.5" cy="524.9" r="3.00"/><circle cx="1069.1" cy="511.2" r="3.00"/><circle cx="1070.9" cy="475.0" r="3.00"/><circle cx="1067.8" cy="539.7" r="3.00"/><circle cx="1072.6" cy="536.5" r="3.00"/><circle cx="1066.1" cy="501.2" r="3.00"/><circle cx="1070.1" cy="517.7" r="3.00"/><circle cx="1072.0" cy="530.3" r="3.00"/><circle cx="1065.1" cy="528.5" r="3.00"/><circle cx="1074.8" cy="525.4" r="3.00"/><circle cx="1074.4" cy="540.5" r="3.00"/><circle cx="1072.3" cy="509.6" r="3.00"/><circle cx="1071.2" cy="491.5" r="3.00"/><circle cx="1068.5" cy="544.9" r="3.00"/><circle cx="1065.0" cy="523.9" r="3.00"/><circle cx="1065.1" cy="516.0" r="3.00"/><circle cx="1070.7" cy="489.3" r="3.00"/><circle cx="1069.0" cy="499.5" r="3.00"/><circle cx="1071.0" cy="466.0" r="3.00"/><circle cx="1071.4" cy="527.1" r="3.00"/><circle cx="1071.2" cy="486.2" r="3.00"/><circle cx="1076.0" cy="503.3" r="3.00"/><circle cx="1071.4" cy="498.2" r="3.00"/><circle cx="1074.7" cy="500.6" r="3.00"/><circle cx="1075.9" cy="507.6" r="3.00"/><circle cx="1070.8" cy="482.9" r="3.00"/><circle cx="1071.6" cy="520.7" r="3.00"/><circle cx="1072.8" cy="505.7" r="3.00"/><circle cx="1075.7" cy="534.3" r="3.00"/><circle cx="1066.2" cy="526.1" r="3.00"/><circle cx="1074.0" cy="519.8" r="3.00"/><circle cx="1069.1" cy="522.4" r="3.00"/><circle cx="1073.8" cy="543.5" r="3.00"/><circle cx="1066.6" cy="536.1" r="3.00"/><circle cx="1070.3" cy="506.9" r="3.00"/><circle cx="1072.0" cy="547.6" r="3.00"/><circle cx="1071.2" cy="479.5" r="3.00"/><circle cx="1070.0" cy="538.0" r="3.00"/><circle cx="1073.6" cy="532.5" r="3.00"/><circle cx="1069.2" cy="549.1" r="3.00"/><circle cx="1070.5" cy="533.6" r="3.00"/></g>
<g stroke="#ff2418" opacity="0.9"><rect x="1066.8" y="512.0" width="8.4" height="6.0" fill="#ff2418" fill-opacity="0.45" stroke="none"/><line x1="1060.3" y1="515.0" x2="1081.7" y2="515.0" stroke-width="2.4"/><line x1="1071.0" y1="512.0" x2="1071.0" y2="518.0" stroke-width="1.4"/><line x1="1066.8" y1="512.0" x2="1075.2" y2="512.0" stroke-width="1.2"/><line x1="1066.8" y1="518.0" x2="1075.2" y2="518.0" stroke-width="1.2"/></g>
<g fill="#ff9612" stroke="#150818" stroke-width="0.75"><circle cx="1106.7" cy="553.3" r="3.00"/><circle cx="1100.2" cy="536.2" r="3.00"/><circle cx="1102.7" cy="547.9" r="3.00"/><circle cx="1097.8" cy="549.0" r="3.00"/><circle cx="1100.2" cy="564.9" r="3.00"/><circle cx="1100.6" cy="550.8" r="3.00"/><circle cx="1101.0" cy="542.0" r="3.00"/><circle cx="1105.0" cy="563.4" r="3.00"/><circle cx="1095.0" cy="552.0" r="3.00"/><circle cx="1099.4" cy="555.1" r="3.00"/><circle cx="1095.4" cy="561.4" r="3.00"/><circle cx="1093.5" cy="556.3" r="3.00"/><circle cx="1101.8" cy="560.3" r="3.00"/><circle cx="1099.7" cy="539.4" r="3.00"/><circle cx="1098.6" cy="562.4" r="3.00"/><circle cx="1104.1" cy="556.9" r="3.00"/><circle cx="1100.5" cy="533.7" r="3.00"/><circle cx="1096.9" cy="558.1" r="3.00"/><circle cx="1099.6" cy="546.0" r="3.00"/><circle cx="1096.6" cy="554.5" r="3.00"/><circle cx="1104.0" cy="552.5" r="3.00"/><circle cx="1106.4" cy="558.9" r="3.00"/><circle cx="1093.3" cy="559.6" r="3.00"/></g>
<g stroke="#ff2418" opacity="0.9"><rect x="1096.1" y="553.4" width="8.4" height="4.0" fill="#ff2418" fill-opacity="0.45" stroke="none"/><line x1="1089.6" y1="555.4" x2="1111.0" y2="555.4" stroke-width="2.4"/><line x1="1100.3" y1="553.4" x2="1100.3" y2="557.4" stroke-width="1.4"/><line x1="1096.1" y1="553.4" x2="1104.5" y2="553.4" stroke-width="1.2"/><line x1="1096.1" y1="557.4" x2="1104.5" y2="557.4" stroke-width="1.2"/></g>
<g fill="#ff9612" stroke="#150818" stroke-width="0.75"><circle cx="1125.9" cy="554.6" r="3.00"/><circle cx="1130.9" cy="538.7" r="3.00"/><circle cx="1126.8" cy="536.8" r="3.00"/><circle cx="1131.4" cy="557.3" r="3.00"/><circle cx="1123.7" cy="542.9" r="3.00"/><circle cx="1130.4" cy="550.1" r="3.00"/><circle cx="1134.9" cy="546.1" r="3.00"/><circle cx="1124.3" cy="549.0" r="3.00"/><circle cx="1126.6" cy="532.0" r="3.00"/><circle cx="1128.1" cy="556.4" r="3.00"/><circle cx="1126.8" cy="540.7" r="3.00"/><circle cx="1133.6" cy="553.4" r="3.00"/><circle cx="1127.5" cy="551.4" r="3.00"/><circle cx="1134.0" cy="539.7" r="3.00"/><circle cx="1134.4" cy="551.0" r="3.00"/><circle cx="1130.7" cy="552.7" r="3.00"/><circle cx="1129.9" cy="545.3" r="3.00"/><circle cx="1132.2" cy="535.0" r="3.00"/><circle cx="1129.1" cy="534.5" r="3.00"/><circle cx="1126.6" cy="544.4" r="3.00"/><circle cx="1127.5" cy="547.2" r="3.00"/><circle cx="1125.8" cy="560.3" r="3.00"/><circle cx="1129.2" cy="558.7" r="3.00"/><circle cx="1131.2" cy="531.3" r="3.00"/><circle cx="1132.3" cy="547.9" r="3.00"/><circle cx="1131.9" cy="542.4" r="3.00"/><circle cx="1124.1" cy="538.1" r="3.00"/></g>
<g stroke="#ff2418" opacity="0.9"><rect x="1124.7" y="543.8" width="8.4" height="4.0" fill="#ff2418" fill-opacity="0.45" stroke="none"/><line x1="1118.2" y1="545.8" x2="1139.6" y2="545.8" stroke-width="2.4"/><line x1="1128.9" y1="543.8" x2="1128.9" y2="547.8" stroke-width="1.4"/><line x1="1124.7" y1="543.8" x2="1133.1" y2="543.8" stroke-width="1.2"/><line x1="1124.7" y1="547.8" x2="1133.1" y2="547.8" stroke-width="1.2"/></g>
<g fill="#ff9612" stroke="#150818" stroke-width="0.75"><circle cx="1157.8" cy="521.8" r="3.00"/><circle cx="1160.8" cy="531.8" r="3.00"/><circle cx="1157.7" cy="501.0" r="3.00"/><circle cx="1153.9" cy="544.0" r="3.00"/><circle cx="1159.3" cy="546.3" r="3.00"/><circle cx="1157.6" cy="513.2" r="3.00"/><circle cx="1156.8" cy="540.2" r="3.00"/><circle cx="1152.3" cy="538.8" r="3.00"/><circle cx="1156.4" cy="529.6" r="3.00"/><circle cx="1156.1" cy="525.4" r="3.00"/><circle cx="1158.1" cy="517.2" r="3.00"/><circle cx="1157.9" cy="496.9" r="3.00"/><circle cx="1161.7" cy="539.3" r="3.00"/><circle cx="1155.2" cy="534.0" r="3.00"/><circle cx="1157.8" cy="505.9" r="3.00"/><circle cx="1153.2" cy="530.4" r="3.00"/><circle cx="1159.1" cy="536.3" r="3.00"/><circle cx="1155.1" cy="547.0" r="3.00"/><circle cx="1159.7" cy="542.2" r="3.00"/><circle cx="1157.5" cy="520.4" r="3.00"/><circle cx="1163.4" cy="534.8" r="3.00"/><circle cx="1160.0" cy="528.1" r="3.00"/><circle cx="1157.9" cy="532.5" r="3.00"/><circle cx="1161.8" cy="544.6" r="3.00"/><circle cx="1153.0" cy="535.6" r="3.00"/><circle cx="1157.9" cy="526.6" r="3.00"/><circle cx="1158.0" cy="509.9" r="3.00"/><circle cx="1152.9" cy="541.6" r="3.00"/><circle cx="1155.8" cy="537.4" r="3.00"/><circle cx="1157.9" cy="503.6" r="3.00"/><circle cx="1157.8" cy="483.6" r="3.00"/></g>
<g stroke="#ff2418" opacity="0.9"><rect x="1153.6" y="525.5" width="8.4" height="6.0" fill="#ff2418" fill-opacity="0.45" stroke="none"/><line x1="1147.1" y1="528.5" x2="1168.5" y2="528.5" stroke-width="2.4"/><line x1="1157.8" y1="525.5" x2="1157.8" y2="531.5" stroke-width="1.4"/><line x1="1153.6" y1="525.5" x2="1162.0" y2="525.5" stroke-width="1.2"/><line x1="1153.6" y1="531.5" x2="1162.0" y2="531.5" stroke-width="1.2"/></g>
<g fill="#ff9612" stroke="#150818" stroke-width="0.75"><circle cx="1184.6" cy="543.9" r="3.00"/><circle cx="1185.4" cy="560.5" r="3.00"/><circle cx="1186.7" cy="551.8" r="3.00"/><circle cx="1188.0" cy="537.6" r="3.00"/><circle cx="1190.1" cy="559.0" r="3.00"/><circle cx="1183.0" cy="548.7" r="3.00"/><circle cx="1183.5" cy="539.4" r="3.00"/><circle cx="1190.9" cy="549.6" r="3.00"/><circle cx="1189.6" cy="542.1" r="3.00"/><circle cx="1188.3" cy="561.4" r="3.00"/><circle cx="1186.5" cy="540.9" r="3.00"/><circle cx="1181.5" cy="553.6" r="3.00"/><circle cx="1184.5" cy="550.8" r="3.00"/><circle cx="1192.5" cy="552.7" r="3.00"/><circle cx="1185.0" cy="536.5" r="3.00"/><circle cx="1187.5" cy="543.0" r="3.00"/><circle cx="1189.1" cy="554.4" r="3.00"/><circle cx="1187.4" cy="547.8" r="3.00"/><circle cx="1191.7" cy="546.6" r="3.00"/><circle cx="1183.7" cy="556.8" r="3.00"/><circle cx="1188.5" cy="545.2" r="3.00"/><circle cx="1187.2" cy="558.1" r="3.00"/><circle cx="1192.2" cy="555.7" r="3.00"/><circle cx="1186.8" cy="527.3" r="3.00"/></g>
<g stroke="#ff2418" opacity="0.9"><rect x="1182.6" y="548.0" width="8.4" height="4.0" fill="#ff2418" fill-opacity="0.45" stroke="none"/><line x1="1176.1" y1="550.0" x2="1197.5" y2="550.0" stroke-width="2.4"/><line x1="1186.8" y1="548.0" x2="1186.8" y2="552.0" stroke-width="1.4"/><line x1="1182.6" y1="548.0" x2="1191.0" y2="548.0" stroke-width="1.2"/><line x1="1182.6" y1="552.0" x2="1191.0" y2="552.0" stroke-width="1.2"/></g>
<text x="641.80" y="598.38" font-size="25.36" font-weight="bold" fill="#000" stroke="#000" stroke-width="0.45" textLength="57.42" lengthAdjust="spacingAndGlyphs">PI3K</text>
<text x="700.24" y="600.67" font-size="14.20" font-weight="bold" fill="#000" stroke="#000" stroke-width="0.45" textLength="3.14" lengthAdjust="spacingAndGlyphs">i</text>
<rect x="707.00" y="585.50" width="4.00" height="4.00" fill="#000" rx="0.8"/>
<rect x="707.00" y="594.90" width="4.00" height="4.00" fill="#000" rx="0.8"/>
<text x="629.85" y="624.88" font-size="26.38" font-weight="bold" fill="#000" stroke="#000" stroke-width="0.45" textLength="39.42" lengthAdjust="spacingAndGlyphs">OA</text>
<text x="669.42" y="627.17" font-size="18.24" font-weight="bold" fill="#000" stroke="#000" stroke-width="0.45" textLength="33.02" lengthAdjust="spacingAndGlyphs">Low</text>
<rect x="707.00" y="610.80" width="4.00" height="4.00" fill="#000" rx="0.8"/>
<rect x="707.00" y="620.80" width="4.00" height="4.00" fill="#000" rx="0.8"/>
<text x="638.96" y="654.17" font-size="25.51" font-weight="bold" fill="#000" stroke="#000" stroke-width="0.45" textLength="65.81" lengthAdjust="spacingAndGlyphs">LepB</text>
<rect x="707.00" y="641.30" width="4.00" height="4.00" fill="#000" rx="0.8"/>
<rect x="707.00" y="650.70" width="4.00" height="4.00" fill="#000" rx="0.8"/>
<rect x="717.55" y="591.50" width="12.50" height="4.00" fill="#000" />
<rect x="746.25" y="591.50" width="12.50" height="4.00" fill="#000" />
<rect x="773.80" y="591.70" width="16.60" height="3.60" fill="#000" />
<rect x="780.30" y="585.20" width="3.60" height="16.60" fill="#000" />
<rect x="802.80" y="591.70" width="16.60" height="3.60" fill="#000" />
<rect x="809.30" y="585.20" width="3.60" height="16.60" fill="#000" />
<rect x="831.50" y="591.70" width="16.60" height="3.60" fill="#000" />
<rect x="838.00" y="585.20" width="3.60" height="16.60" fill="#000" />
<rect x="891.65" y="591.50" width="12.50" height="4.00" fill="#000" />
<rect x="920.75" y="591.50" width="12.50" height="4.00" fill="#000" />
<rect x="947.90" y="591.70" width="16.60" height="3.60" fill="#000" />
<rect x="954.40" y="585.20" width="3.60" height="16.60" fill="#000" />
<rect x="976.90" y="591.70" width="16.60" height="3.60" fill="#000" />
<rect x="983.40" y="585.20" width="3.60" height="16.60" fill="#000" />
<rect x="1005.90" y="591.70" width="16.60" height="3.60" fill="#000" />
<rect x="1012.40" y="585.20" width="3.60" height="16.60" fill="#000" />
<rect x="1065.95" y="591.50" width="12.50" height="4.00" fill="#000" />
<rect x="1095.35" y="591.50" width="12.50" height="4.00" fill="#000" />
<rect x="1122.30" y="591.70" width="16.60" height="3.60" fill="#000" />
<rect x="1128.80" y="585.20" width="3.60" height="16.60" fill="#000" />
<rect x="1151.10" y="591.70" width="16.60" height="3.60" fill="#000" />
<rect x="1157.60" y="585.20" width="3.60" height="16.60" fill="#000" />
<rect x="1180.10" y="591.70" width="16.60" height="3.60" fill="#000" />
<rect x="1186.60" y="585.20" width="3.60" height="16.60" fill="#000" />
<rect x="717.55" y="618.30" width="12.50" height="4.00" fill="#000" />
<rect x="746.25" y="618.30" width="12.50" height="4.00" fill="#000" />
<rect x="775.65" y="618.30" width="12.50" height="4.00" fill="#000" />
<rect x="802.80" y="618.50" width="16.60" height="3.60" fill="#000" />
<rect x="809.30" y="612.00" width="3.60" height="16.60" fill="#000" />
<rect x="831.50" y="618.50" width="16.60" height="3.60" fill="#000" />
<rect x="838.00" y="612.00" width="3.60" height="16.60" fill="#000" />
<rect x="891.65" y="618.30" width="12.50" height="4.00" fill="#000" />
<rect x="920.75" y="618.30" width="12.50" height="4.00" fill="#000" />
<rect x="949.75" y="618.30" width="12.50" height="4.00" fill="#000" />
<rect x="976.90" y="618.50" width="16.60" height="3.60" fill="#000" />
<rect x="983.40" y="612.00" width="3.60" height="16.60" fill="#000" />
<rect x="1005.90" y="618.50" width="16.60" height="3.60" fill="#000" />
<rect x="1012.40" y="612.00" width="3.60" height="16.60" fill="#000" />
<rect x="1065.95" y="618.30" width="12.50" height="4.00" fill="#000" />
<rect x="1095.35" y="618.30" width="12.50" height="4.00" fill="#000" />
<rect x="1124.15" y="618.30" width="12.50" height="4.00" fill="#000" />
<rect x="1151.10" y="618.50" width="16.60" height="3.60" fill="#000" />
<rect x="1157.60" y="612.00" width="3.60" height="16.60" fill="#000" />
<rect x="1180.10" y="618.50" width="16.60" height="3.60" fill="#000" />
<rect x="1186.60" y="612.00" width="3.60" height="16.60" fill="#000" />
<rect x="717.55" y="645.20" width="12.50" height="4.00" fill="#000" />
<rect x="744.40" y="645.40" width="16.60" height="3.60" fill="#000" />
<rect x="750.90" y="638.90" width="3.60" height="16.60" fill="#000" />
<rect x="775.65" y="645.20" width="12.50" height="4.00" fill="#000" />
<rect x="804.65" y="645.20" width="12.50" height="4.00" fill="#000" />
<rect x="831.50" y="645.40" width="16.60" height="3.60" fill="#000" />
<rect x="838.00" y="638.90" width="3.60" height="16.60" fill="#000" />
<rect x="891.65" y="645.20" width="12.50" height="4.00" fill="#000" />
<rect x="918.90" y="645.40" width="16.60" height="3.60" fill="#000" />
<rect x="925.40" y="638.90" width="3.60" height="16.60" fill="#000" />
<rect x="949.75" y="645.20" width="12.50" height="4.00" fill="#000" />
<rect x="978.75" y="645.20" width="12.50" height="4.00" fill="#000" />
<rect x="1005.90" y="645.40" width="16.60" height="3.60" fill="#000" />
<rect x="1012.40" y="638.90" width="3.60" height="16.60" fill="#000" />
<rect x="1065.95" y="645.20" width="12.50" height="4.00" fill="#000" />
<rect x="1093.50" y="645.40" width="16.60" height="3.60" fill="#000" />
<rect x="1100.00" y="638.90" width="3.60" height="16.60" fill="#000" />
<rect x="1124.15" y="645.20" width="12.50" height="4.00" fill="#000" />
<rect x="1152.95" y="645.20" width="12.50" height="4.00" fill="#000" />
<rect x="1180.10" y="645.40" width="16.60" height="3.60" fill="#000" />
<rect x="1186.60" y="638.90" width="3.60" height="16.60" fill="#000" />
<text x="649.24" y="694.77" font-size="15.77" font-weight="bold" fill="#000" stroke="#000" stroke-width="0.45" textLength="37.29" lengthAdjust="spacingAndGlyphs">Cyto</text>
<text x="645.71" y="864.27" font-size="15.48" font-weight="bold" fill="#000" stroke="#000" stroke-width="0.45" textLength="31.45" lengthAdjust="spacingAndGlyphs">Nuc</text>
<polygon points="692.70,685.60 692.70,871.50 681.70,871.50" fill="#efefef" stroke="#111" stroke-width="1.4" stroke-linejoin="miter"/>
<line x1="704.60" y1="686.30" x2="704.60" y2="871.60" stroke="#000" stroke-width="2.30"/>
<line x1="698.90" y1="778.90" x2="704.60" y2="778.90" stroke="#000" stroke-width="2.00"/>
<line x1="698.90" y1="687.30" x2="705.70" y2="687.30" stroke="#000" stroke-width="2.00"/>
<line x1="694.50" y1="870.50" x2="1208.80" y2="870.50" stroke="#000" stroke-width="2.30"/>
<line x1="723.50" y1="870.50" x2="723.50" y2="880.00" stroke="#000" stroke-width="2.00"/>
<line x1="752.40" y1="870.50" x2="752.40" y2="880.00" stroke="#000" stroke-width="2.00"/>
<line x1="781.30" y1="870.50" x2="781.30" y2="880.00" stroke="#000" stroke-width="2.00"/>
<line x1="810.20" y1="870.50" x2="810.20" y2="880.00" stroke="#000" stroke-width="2.00"/>
<line x1="839.00" y1="870.50" x2="839.00" y2="880.00" stroke="#000" stroke-width="2.00"/>
<line x1="898.00" y1="870.50" x2="898.00" y2="880.00" stroke="#000" stroke-width="2.00"/>
<line x1="927.20" y1="870.50" x2="927.20" y2="880.00" stroke="#000" stroke-width="2.00"/>
<line x1="956.30" y1="870.50" x2="956.30" y2="880.00" stroke="#000" stroke-width="2.00"/>
<line x1="985.20" y1="870.50" x2="985.20" y2="880.00" stroke="#000" stroke-width="2.00"/>
<line x1="1014.40" y1="870.50" x2="1014.40" y2="880.00" stroke="#000" stroke-width="2.00"/>
<line x1="1072.30" y1="870.50" x2="1072.30" y2="880.00" stroke="#000" stroke-width="2.00"/>
<line x1="1101.40" y1="870.50" x2="1101.40" y2="880.00" stroke="#000" stroke-width="2.00"/>
<line x1="1130.60" y1="870.50" x2="1130.60" y2="880.00" stroke="#000" stroke-width="2.00"/>
<line x1="1159.40" y1="870.50" x2="1159.40" y2="880.00" stroke="#000" stroke-width="2.00"/>
<line x1="1188.50" y1="870.50" x2="1188.50" y2="880.00" stroke="#000" stroke-width="2.00"/>
<line x1="868.50" y1="870.50" x2="868.50" y2="880.00" stroke="#000" stroke-width="2.00"/>
<line x1="1043.70" y1="870.50" x2="1043.70" y2="880.00" stroke="#000" stroke-width="2.00"/>
<line x1="724.80" y1="683.00" x2="754.50" y2="683.00" stroke="#2a2a2a" stroke-width="1.90"/>
<polygon points="729.10,670.87 730.54,673.79 733.76,674.25 731.43,676.53 731.98,679.73 729.10,678.22 726.22,679.73 726.77,676.53 724.44,674.25 727.66,673.79" fill="#000"/>
<polygon points="739.50,670.87 740.94,673.79 744.16,674.25 741.83,676.53 742.38,679.73 739.50,678.22 736.62,679.73 737.17,676.53 734.84,674.25 738.06,673.79" fill="#000"/>
<polygon points="749.90,670.87 751.34,673.79 754.56,674.25 752.23,676.53 752.78,679.73 749.90,678.22 747.02,679.73 747.57,676.53 745.24,674.25 748.46,673.79" fill="#000"/>
<line x1="811.50" y1="696.00" x2="841.70" y2="696.00" stroke="#2a2a2a" stroke-width="1.90"/>
<polygon points="816.10,683.97 817.54,686.89 820.76,687.35 818.43,689.63 818.98,692.83 816.10,691.32 813.22,692.83 813.77,689.63 811.44,687.35 814.66,686.89" fill="#000"/>
<polygon points="826.50,683.97 827.94,686.89 831.16,687.35 828.83,689.63 829.38,692.83 826.50,691.32 823.62,692.83 824.17,689.63 821.84,687.35 825.06,686.89" fill="#000"/>
<polygon points="836.90,683.97 838.34,686.89 841.56,687.35 839.23,689.63 839.78,692.83 836.90,691.32 834.02,692.83 834.57,689.63 832.24,687.35 835.46,686.89" fill="#000"/>
<line x1="898.90" y1="705.20" x2="928.60" y2="705.20" stroke="#2a2a2a" stroke-width="1.90"/>
<polygon points="903.10,692.27 904.54,695.19 907.76,695.65 905.43,697.93 905.98,701.13 903.10,699.62 900.22,701.13 900.77,697.93 898.44,695.65 901.66,695.19" fill="#000"/>
<polygon points="913.50,692.27 914.94,695.19 918.16,695.65 915.83,697.93 916.38,701.13 913.50,699.62 910.62,701.13 911.17,697.93 908.84,695.65 912.06,695.19" fill="#000"/>
<polygon points="923.90,692.27 925.34,695.19 928.56,695.65 926.23,697.93 926.78,701.13 923.90,699.62 921.02,701.13 921.57,697.93 919.24,695.65 922.46,695.19" fill="#000"/>
<line x1="985.00" y1="743.20" x2="1015.00" y2="743.20" stroke="#2a2a2a" stroke-width="1.90"/>
<polygon points="989.60,731.57 991.04,734.49 994.26,734.95 991.93,737.23 992.48,740.43 989.60,738.92 986.72,740.43 987.27,737.23 984.94,734.95 988.16,734.49" fill="#000"/>
<polygon points="1000.00,731.57 1001.44,734.49 1004.66,734.95 1002.33,737.23 1002.88,740.43 1000.00,738.92 997.12,740.43 997.67,737.23 995.34,734.95 998.56,734.49" fill="#000"/>
<polygon points="1010.40,731.57 1011.84,734.49 1015.06,734.95 1012.73,737.23 1013.28,740.43 1010.40,738.92 1007.52,740.43 1008.07,737.23 1005.74,734.95 1008.96,734.49" fill="#000"/>
<line x1="1072.80" y1="719.70" x2="1102.50" y2="719.70" stroke="#2a2a2a" stroke-width="1.90"/>
<polygon points="1077.10,705.57 1078.54,708.49 1081.76,708.95 1079.43,711.23 1079.98,714.43 1077.10,712.92 1074.22,714.43 1074.77,711.23 1072.44,708.95 1075.66,708.49" fill="#000"/>
<polygon points="1087.50,705.57 1088.94,708.49 1092.16,708.95 1089.83,711.23 1090.38,714.43 1087.50,712.92 1084.62,714.43 1085.17,711.23 1082.84,708.95 1086.06,708.49" fill="#000"/>
<polygon points="1097.90,705.57 1099.34,708.49 1102.56,708.95 1100.23,711.23 1100.78,714.43 1097.90,712.92 1095.02,714.43 1095.57,711.23 1093.24,708.95 1096.46,708.49" fill="#000"/>
<line x1="1160.20" y1="727.10" x2="1190.20" y2="727.10" stroke="#2a2a2a" stroke-width="1.90"/>
<polygon points="1164.60,713.77 1166.04,716.69 1169.26,717.15 1166.93,719.43 1167.48,722.63 1164.60,721.12 1161.72,722.63 1162.27,719.43 1159.94,717.15 1163.16,716.69" fill="#000"/>
<polygon points="1175.00,713.77 1176.44,716.69 1179.66,717.15 1177.33,719.43 1177.88,722.63 1175.00,721.12 1172.12,722.63 1172.67,719.43 1170.34,717.15 1173.56,716.69" fill="#000"/>
<polygon points="1185.40,713.77 1186.84,716.69 1190.06,717.15 1187.73,719.43 1188.28,722.63 1185.40,721.12 1182.52,722.63 1183.07,719.43 1180.74,717.15 1183.96,716.69" fill="#000"/>
<g fill="#5a0fa0" stroke="#150818" stroke-width="0.75"><circle cx="726.3" cy="787.2" r="3.00"/><circle cx="722.1" cy="719.2" r="3.00"/><circle cx="723.8" cy="704.8" r="3.00"/><circle cx="721.5" cy="793.0" r="3.00"/><circle cx="725.0" cy="765.6" r="3.00"/><circle cx="721.9" cy="702.3" r="3.00"/><circle cx="719.3" cy="754.8" r="3.00"/><circle cx="720.7" cy="802.4" r="3.00"/><circle cx="725.2" cy="803.3" r="3.00"/><circle cx="724.1" cy="735.0" r="3.00"/><circle cx="722.1" cy="804.9" r="3.00"/><circle cx="721.7" cy="782.0" r="3.00"/><circle cx="722.7" cy="697.2" r="3.00"/><circle cx="720.5" cy="768.4" r="3.00"/><circle cx="727.7" cy="757.1" r="3.00"/><circle cx="723.8" cy="755.9" r="3.00"/><circle cx="726.2" cy="743.8" r="3.00"/><circle cx="724.5" cy="798.6" r="3.00"/><circle cx="725.2" cy="715.6" r="3.00"/><circle cx="726.2" cy="808.0" r="3.00"/><circle cx="725.8" cy="750.4" r="3.00"/><circle cx="718.4" cy="749.5" r="3.00"/><circle cx="721.6" cy="746.1" r="3.00"/><circle cx="723.9" cy="739.7" r="3.00"/><circle cx="722.0" cy="812.7" r="3.00"/><circle cx="727.4" cy="783.0" r="3.00"/><circle cx="727.2" cy="800.0" r="3.00"/><circle cx="720.8" cy="737.8" r="3.00"/><circle cx="720.3" cy="740.3" r="3.00"/><circle cx="726.4" cy="769.1" r="3.00"/><circle cx="719.8" cy="806.5" r="3.00"/><circle cx="728.8" cy="749.0" r="3.00"/><circle cx="719.8" cy="796.4" r="3.00"/><circle cx="722.3" cy="730.0" r="3.00"/><circle cx="719.9" cy="760.1" r="3.00"/><circle cx="722.9" cy="767.2" r="3.00"/><circle cx="724.6" cy="693.9" r="3.00"/><circle cx="725.5" cy="722.0" r="3.00"/><circle cx="725.7" cy="728.8" r="3.00"/><circle cx="724.0" cy="745.1" r="3.00"/><circle cx="725.1" cy="779.8" r="3.00"/><circle cx="724.0" cy="784.1" r="3.00"/><circle cx="720.4" cy="773.2" r="3.00"/><circle cx="724.5" cy="759.5" r="3.00"/><circle cx="728.3" cy="754.5" r="3.00"/><circle cx="726.6" cy="792.6" r="3.00"/><circle cx="720.2" cy="764.4" r="3.00"/><circle cx="727.0" cy="797.2" r="3.00"/><circle cx="721.0" cy="721.4" r="3.00"/><circle cx="723.8" cy="790.9" r="3.00"/><circle cx="725.9" cy="814.1" r="3.00"/><circle cx="722.6" cy="711.4" r="3.00"/><circle cx="726.9" cy="774.3" r="3.00"/><circle cx="727.9" cy="763.6" r="3.00"/><circle cx="719.4" cy="789.9" r="3.00"/><circle cx="722.5" cy="742.2" r="3.00"/><circle cx="721.8" cy="751.4" r="3.00"/><circle cx="722.9" cy="788.3" r="3.00"/><circle cx="722.9" cy="801.5" r="3.00"/><circle cx="726.5" cy="761.4" r="3.00"/><circle cx="720.5" cy="733.1" r="3.00"/><circle cx="720.1" cy="777.8" r="3.00"/><circle cx="722.8" cy="724.6" r="3.00"/><circle cx="723.4" cy="770.4" r="3.00"/><circle cx="721.4" cy="713.7" r="3.00"/><circle cx="723.6" cy="776.5" r="3.00"/><circle cx="724.9" cy="700.1" r="3.00"/><circle cx="726.0" cy="725.7" r="3.00"/><circle cx="725.2" cy="753.6" r="3.00"/><circle cx="720.9" cy="727.5" r="3.00"/><circle cx="721.0" cy="775.5" r="3.00"/><circle cx="719.7" cy="780.3" r="3.00"/><circle cx="724.5" cy="811.6" r="3.00"/><circle cx="725.3" cy="709.5" r="3.00"/><circle cx="726.1" cy="747.4" r="3.00"/><circle cx="720.0" cy="809.9" r="3.00"/><circle cx="729.7" cy="752.0" r="3.00"/><circle cx="722.6" cy="762.0" r="3.00"/><circle cx="721.6" cy="706.4" r="3.00"/><circle cx="719.7" cy="785.5" r="3.00"/><circle cx="722.9" cy="708.3" r="3.00"/><circle cx="724.1" cy="794.5" r="3.00"/><circle cx="722.2" cy="694.9" r="3.00"/><circle cx="726.4" cy="736.5" r="3.00"/><circle cx="722.9" cy="808.7" r="3.00"/><circle cx="726.3" cy="732.1" r="3.00"/><circle cx="725.7" cy="772.1" r="3.00"/><circle cx="718.3" cy="757.9" r="3.00"/><circle cx="723.1" cy="717.1" r="3.00"/><circle cx="723.4" cy="829.2" r="3.00"/></g>
<g stroke="#ff2418" opacity="0.9"><rect x="719.2" y="756.5" width="8.4" height="8.0" fill="#ff2418" fill-opacity="0.45" stroke="none"/><line x1="712.7" y1="760.5" x2="734.1" y2="760.5" stroke-width="2.4"/><line x1="723.4" y1="756.5" x2="723.4" y2="764.5" stroke-width="1.4"/><line x1="719.2" y1="756.5" x2="727.6" y2="756.5" stroke-width="1.2"/><line x1="719.2" y1="764.5" x2="727.6" y2="764.5" stroke-width="1.2"/></g>
<g fill="#5a0fa0" stroke="#150818" stroke-width="0.75"><circle cx="749.9" cy="839.8" r="3.00"/><circle cx="752.0" cy="830.6" r="3.00"/><circle cx="756.5" cy="834.0" r="3.00"/><circle cx="754.9" cy="838.4" r="3.00"/><circle cx="747.1" cy="829.9" r="3.00"/><circle cx="755.3" cy="823.9" r="3.00"/><circle cx="750.7" cy="820.7" r="3.00"/><circle cx="753.6" cy="816.7" r="3.00"/><circle cx="753.3" cy="811.1" r="3.00"/><circle cx="749.0" cy="831.8" r="3.00"/><circle cx="750.9" cy="808.2" r="3.00"/><circle cx="750.3" cy="815.9" r="3.00"/><circle cx="757.4" cy="828.4" r="3.00"/><circle cx="752.4" cy="844.9" r="3.00"/><circle cx="755.2" cy="818.8" r="3.00"/><circle cx="751.5" cy="803.7" r="3.00"/><circle cx="751.4" cy="813.3" r="3.00"/><circle cx="749.3" cy="825.9" r="3.00"/><circle cx="751.6" cy="836.5" r="3.00"/><circle cx="754.9" cy="842.7" r="3.00"/><circle cx="753.6" cy="827.8" r="3.00"/><circle cx="752.4" cy="823.1" r="3.00"/><circle cx="751.6" cy="826.8" r="3.00"/><circle cx="750.3" cy="846.1" r="3.00"/><circle cx="752.5" cy="809.4" r="3.00"/><circle cx="752.3" cy="841.3" r="3.00"/><circle cx="753.7" cy="833.2" r="3.00"/><circle cx="753.3" cy="804.7" r="3.00"/><circle cx="754.5" cy="821.3" r="3.00"/><circle cx="748.1" cy="836.9" r="3.00"/><circle cx="749.6" cy="834.7" r="3.00"/></g>
<g stroke="#ff2418" opacity="0.9"><rect x="748.1" y="828.5" width="8.4" height="3.0" fill="#ff2418" fill-opacity="0.45" stroke="none"/><line x1="741.6" y1="830.0" x2="763.0" y2="830.0" stroke-width="2.4"/><line x1="752.3" y1="828.5" x2="752.3" y2="831.5" stroke-width="1.4"/><line x1="748.1" y1="828.5" x2="756.5" y2="828.5" stroke-width="1.2"/><line x1="748.1" y1="831.5" x2="756.5" y2="831.5" stroke-width="1.2"/></g>
<g fill="#5a0fa0" stroke="#150818" stroke-width="0.75"><circle cx="784.4" cy="821.6" r="3.00"/><circle cx="779.1" cy="844.4" r="3.00"/><circle cx="779.2" cy="822.7" r="3.00"/><circle cx="784.6" cy="808.8" r="3.00"/><circle cx="779.8" cy="807.0" r="3.00"/><circle cx="785.8" cy="832.4" r="3.00"/><circle cx="783.0" cy="847.0" r="3.00"/><circle cx="780.3" cy="838.1" r="3.00"/><circle cx="778.9" cy="831.3" r="3.00"/><circle cx="782.4" cy="816.1" r="3.00"/><circle cx="786.5" cy="823.9" r="3.00"/><circle cx="776.7" cy="810.5" r="3.00"/><circle cx="785.3" cy="799.5" r="3.00"/><circle cx="777.3" cy="801.9" r="3.00"/><circle cx="784.6" cy="843.2" r="3.00"/><circle cx="779.9" cy="850.7" r="3.00"/><circle cx="783.0" cy="828.8" r="3.00"/><circle cx="780.5" cy="848.0" r="3.00"/><circle cx="780.4" cy="798.2" r="3.00"/><circle cx="785.1" cy="838.6" r="3.00"/><circle cx="776.5" cy="818.4" r="3.00"/><circle cx="781.8" cy="833.9" r="3.00"/><circle cx="786.3" cy="817.7" r="3.00"/><circle cx="778.5" cy="840.8" r="3.00"/><circle cx="778.5" cy="814.9" r="3.00"/><circle cx="781.7" cy="811.9" r="3.00"/><circle cx="783.9" cy="795.8" r="3.00"/><circle cx="777.7" cy="834.7" r="3.00"/><circle cx="782.0" cy="800.5" r="3.00"/><circle cx="777.8" cy="816.7" r="3.00"/><circle cx="786.5" cy="804.7" r="3.00"/><circle cx="787.5" cy="810.1" r="3.00"/><circle cx="775.6" cy="808.1" r="3.00"/><circle cx="785.2" cy="812.5" r="3.00"/><circle cx="783.8" cy="803.1" r="3.00"/><circle cx="781.3" cy="830.5" r="3.00"/><circle cx="782.9" cy="836.6" r="3.00"/><circle cx="781.4" cy="825.5" r="3.00"/><circle cx="778.5" cy="797.2" r="3.00"/><circle cx="787.4" cy="813.8" r="3.00"/><circle cx="780.1" cy="804.2" r="3.00"/><circle cx="777.6" cy="827.7" r="3.00"/><circle cx="781.9" cy="842.0" r="3.00"/><circle cx="781.4" cy="820.9" r="3.00"/><circle cx="785.7" cy="826.8" r="3.00"/><circle cx="786.7" cy="820.2" r="3.00"/><circle cx="783.1" cy="806.1" r="3.00"/></g>
<g stroke="#ff2418" opacity="0.9"><rect x="777.5" y="816.0" width="8.4" height="4.0" fill="#ff2418" fill-opacity="0.45" stroke="none"/><line x1="771.0" y1="818.0" x2="792.4" y2="818.0" stroke-width="2.4"/><line x1="781.7" y1="816.0" x2="781.7" y2="820.0" stroke-width="1.4"/><line x1="777.5" y1="816.0" x2="785.9" y2="816.0" stroke-width="1.2"/><line x1="777.5" y1="820.0" x2="785.9" y2="820.0" stroke-width="1.2"/></g>
<g fill="#5a0fa0" stroke="#150818" stroke-width="0.75"><circle cx="811.1" cy="751.3" r="3.00"/><circle cx="811.0" cy="764.3" r="3.00"/><circle cx="808.4" cy="766.4" r="3.00"/><circle cx="810.3" cy="756.0" r="3.00"/><circle cx="809.7" cy="803.2" r="3.00"/><circle cx="806.7" cy="790.2" r="3.00"/><circle cx="810.6" cy="794.0" r="3.00"/><circle cx="810.3" cy="782.9" r="3.00"/><circle cx="815.3" cy="787.3" r="3.00"/><circle cx="806.9" cy="811.9" r="3.00"/><circle cx="813.0" cy="768.3" r="3.00"/><circle cx="808.5" cy="763.2" r="3.00"/><circle cx="811.7" cy="817.2" r="3.00"/><circle cx="815.4" cy="792.1" r="3.00"/><circle cx="806.7" cy="796.4" r="3.00"/><circle cx="810.1" cy="821.5" r="3.00"/><circle cx="809.3" cy="814.8" r="3.00"/><circle cx="814.8" cy="781.3" r="3.00"/><circle cx="811.9" cy="755.0" r="3.00"/><circle cx="811.6" cy="774.9" r="3.00"/><circle cx="813.0" cy="810.9" r="3.00"/><circle cx="813.1" cy="800.1" r="3.00"/><circle cx="804.8" cy="801.3" r="3.00"/><circle cx="815.9" cy="804.3" r="3.00"/><circle cx="808.8" cy="808.1" r="3.00"/><circle cx="810.8" cy="812.6" r="3.00"/><circle cx="807.7" cy="773.7" r="3.00"/><circle cx="805.4" cy="806.1" r="3.00"/><circle cx="807.2" cy="815.6" r="3.00"/><circle cx="813.8" cy="772.7" r="3.00"/><circle cx="812.4" cy="791.4" r="3.00"/><circle cx="813.8" cy="795.3" r="3.00"/><circle cx="806.7" cy="779.1" r="3.00"/><circle cx="809.8" cy="770.5" r="3.00"/><circle cx="808.3" cy="818.7" r="3.00"/><circle cx="809.8" cy="787.9" r="3.00"/><circle cx="809.0" cy="776.4" r="3.00"/><circle cx="809.8" cy="798.2" r="3.00"/><circle cx="813.7" cy="778.0" r="3.00"/><circle cx="811.9" cy="796.8" r="3.00"/><circle cx="805.7" cy="786.3" r="3.00"/><circle cx="807.8" cy="800.5" r="3.00"/><circle cx="812.5" cy="761.4" r="3.00"/><circle cx="815.3" cy="809.1" r="3.00"/><circle cx="814.3" cy="802.4" r="3.00"/><circle cx="808.0" cy="769.3" r="3.00"/><circle cx="812.2" cy="807.6" r="3.00"/><circle cx="808.2" cy="805.4" r="3.00"/><circle cx="812.8" cy="788.9" r="3.00"/><circle cx="807.1" cy="783.6" r="3.00"/><circle cx="813.3" cy="784.6" r="3.00"/><circle cx="810.0" cy="779.8" r="3.00"/><circle cx="805.2" cy="793.6" r="3.00"/><circle cx="813.0" cy="819.7" r="3.00"/><circle cx="816.6" cy="799.2" r="3.00"/><circle cx="809.0" cy="759.0" r="3.00"/><circle cx="810.6" cy="703.3" r="3.00"/><circle cx="810.6" cy="734.4" r="3.00"/></g>
<g stroke="#ff2418" opacity="0.9"><rect x="806.4" y="788.6" width="8.4" height="6.0" fill="#ff2418" fill-opacity="0.45" stroke="none"/><line x1="799.9" y1="791.6" x2="821.3" y2="791.6" stroke-width="2.4"/><line x1="810.6" y1="788.6" x2="810.6" y2="794.6" stroke-width="1.4"/><line x1="806.4" y1="788.6" x2="814.8" y2="788.6" stroke-width="1.2"/><line x1="806.4" y1="794.6" x2="814.8" y2="794.6" stroke-width="1.2"/></g>
<g fill="#5a0fa0" stroke="#150818" stroke-width="0.75"><circle cx="839.7" cy="795.5" r="3.00"/><circle cx="844.6" cy="809.7" r="3.00"/><circle cx="843.2" cy="829.8" r="3.00"/><circle cx="835.4" cy="811.6" r="3.00"/><circle cx="835.6" cy="819.8" r="3.00"/><circle cx="841.2" cy="847.7" r="3.00"/><circle cx="839.8" cy="804.6" r="3.00"/><circle cx="839.1" cy="808.7" r="3.00"/><circle cx="836.3" cy="833.2" r="3.00"/><circle cx="839.0" cy="830.7" r="3.00"/><circle cx="843.2" cy="798.4" r="3.00"/><circle cx="838.7" cy="790.7" r="3.00"/><circle cx="842.0" cy="833.9" r="3.00"/><circle cx="836.9" cy="794.5" r="3.00"/><circle cx="843.5" cy="822.2" r="3.00"/><circle cx="839.8" cy="785.6" r="3.00"/><circle cx="836.9" cy="826.7" r="3.00"/><circle cx="838.2" cy="782.4" r="3.00"/><circle cx="836.8" cy="845.2" r="3.00"/><circle cx="840.1" cy="814.9" r="3.00"/><circle cx="841.5" cy="783.9" r="3.00"/><circle cx="843.0" cy="844.3" r="3.00"/><circle cx="845.9" cy="813.3" r="3.00"/><circle cx="837.2" cy="838.1" r="3.00"/><circle cx="842.7" cy="812.9" r="3.00"/><circle cx="840.2" cy="841.3" r="3.00"/><circle cx="835.2" cy="806.1" r="3.00"/><circle cx="840.9" cy="811.1" r="3.00"/><circle cx="834.1" cy="828.8" r="3.00"/><circle cx="839.0" cy="821.6" r="3.00"/><circle cx="836.8" cy="801.0" r="3.00"/><circle cx="844.4" cy="840.7" r="3.00"/><circle cx="843.3" cy="806.4" r="3.00"/><circle cx="846.4" cy="818.2" r="3.00"/><circle cx="834.6" cy="835.9" r="3.00"/><circle cx="837.6" cy="787.1" r="3.00"/><circle cx="845.3" cy="831.7" r="3.00"/><circle cx="845.0" cy="834.9" r="3.00"/><circle cx="833.4" cy="823.5" r="3.00"/><circle cx="840.9" cy="779.2" r="3.00"/><circle cx="835.6" cy="842.4" r="3.00"/><circle cx="842.2" cy="839.0" r="3.00"/><circle cx="840.0" cy="774.0" r="3.00"/><circle cx="837.6" cy="824.1" r="3.00"/><circle cx="841.8" cy="788.7" r="3.00"/><circle cx="845.8" cy="826.0" r="3.00"/><circle cx="839.9" cy="837.4" r="3.00"/><circle cx="833.3" cy="815.4" r="3.00"/><circle cx="836.9" cy="807.4" r="3.00"/><circle cx="840.7" cy="828.2" r="3.00"/><circle cx="833.1" cy="820.4" r="3.00"/><circle cx="838.5" cy="778.1" r="3.00"/><circle cx="842.7" cy="803.4" r="3.00"/><circle cx="839.6" cy="799.3" r="3.00"/><circle cx="840.7" cy="824.9" r="3.00"/><circle cx="843.0" cy="817.0" r="3.00"/><circle cx="839.8" cy="818.6" r="3.00"/><circle cx="836.4" cy="816.5" r="3.00"/><circle cx="841.8" cy="796.5" r="3.00"/><circle cx="842.4" cy="792.4" r="3.00"/><circle cx="838.9" cy="802.3" r="3.00"/></g>
<g stroke="#ff2418" opacity="0.9"><rect x="835.5" y="817.4" width="8.4" height="4.0" fill="#ff2418" fill-opacity="0.45" stroke="none"/><line x1="829.0" y1="819.4" x2="850.4" y2="819.4" stroke-width="2.4"/><line x1="839.7" y1="817.4" x2="839.7" y2="821.4" stroke-width="1.4"/><line x1="835.5" y1="817.4" x2="843.9" y2="817.4" stroke-width="1.2"/><line x1="835.5" y1="821.4" x2="843.9" y2="821.4" stroke-width="1.2"/></g>
<g fill="#0c2cf2" stroke="#150818" stroke-width="0.75"><circle cx="895.6" cy="795.8" r="3.00"/><circle cx="897.4" cy="807.5" r="3.00"/><circle cx="898.0" cy="761.6" r="3.00"/><circle cx="896.8" cy="784.4" r="3.00"/><circle cx="895.5" cy="770.6" r="3.00"/><circle cx="900.4" cy="786.5" r="3.00"/><circle cx="895.5" cy="753.1" r="3.00"/><circle cx="903.0" cy="768.4" r="3.00"/><circle cx="896.4" cy="778.9" r="3.00"/><circle cx="898.3" cy="740.0" r="3.00"/><circle cx="896.0" cy="736.9" r="3.00"/><circle cx="902.5" cy="755.4" r="3.00"/><circle cx="899.7" cy="838.9" r="3.00"/><circle cx="899.4" cy="772.8" r="3.00"/><circle cx="897.0" cy="789.4" r="3.00"/><circle cx="899.7" cy="751.9" r="3.00"/><circle cx="898.6" cy="768.8" r="3.00"/><circle cx="897.6" cy="757.0" r="3.00"/><circle cx="899.6" cy="825.2" r="3.00"/><circle cx="903.3" cy="763.2" r="3.00"/><circle cx="902.4" cy="771.4" r="3.00"/><circle cx="900.9" cy="777.7" r="3.00"/><circle cx="900.2" cy="805.2" r="3.00"/><circle cx="895.6" cy="820.7" r="3.00"/><circle cx="893.1" cy="756.5" r="3.00"/><circle cx="900.3" cy="815.7" r="3.00"/><circle cx="900.7" cy="791.4" r="3.00"/><circle cx="900.0" cy="783.6" r="3.00"/><circle cx="895.1" cy="787.9" r="3.00"/><circle cx="898.6" cy="818.7" r="3.00"/><circle cx="900.4" cy="809.9" r="3.00"/><circle cx="899.1" cy="780.2" r="3.00"/><circle cx="896.3" cy="834.9" r="3.00"/><circle cx="900.1" cy="821.7" r="3.00"/><circle cx="892.3" cy="762.3" r="3.00"/><circle cx="893.5" cy="773.1" r="3.00"/><circle cx="894.8" cy="765.8" r="3.00"/><circle cx="899.7" cy="800.6" r="3.00"/><circle cx="901.5" cy="760.7" r="3.00"/><circle cx="895.5" cy="802.5" r="3.00"/><circle cx="895.1" cy="743.5" r="3.00"/><circle cx="897.7" cy="775.9" r="3.00"/><circle cx="902.1" cy="751.0" r="3.00"/><circle cx="895.1" cy="758.7" r="3.00"/><circle cx="899.8" cy="764.2" r="3.00"/><circle cx="901.1" cy="746.5" r="3.00"/><circle cx="894.2" cy="749.6" r="3.00"/><circle cx="900.5" cy="797.1" r="3.00"/><circle cx="895.9" cy="824.3" r="3.00"/><circle cx="898.2" cy="754.1" r="3.00"/><circle cx="899.6" cy="831.6" r="3.00"/><circle cx="895.8" cy="809.0" r="3.00"/><circle cx="897.4" cy="765.4" r="3.00"/><circle cx="896.8" cy="813.1" r="3.00"/><circle cx="897.7" cy="833.0" r="3.00"/><circle cx="892.1" cy="766.8" r="3.00"/><circle cx="895.1" cy="775.2" r="3.00"/><circle cx="898.7" cy="794.0" r="3.00"/><circle cx="896.5" cy="799.2" r="3.00"/><circle cx="895.6" cy="739.2" r="3.00"/><circle cx="897.1" cy="827.8" r="3.00"/><circle cx="897.7" cy="747.6" r="3.00"/><circle cx="898.8" cy="811.7" r="3.00"/><circle cx="895.5" cy="792.0" r="3.00"/><circle cx="892.4" cy="759.4" r="3.00"/><circle cx="896.4" cy="745.5" r="3.00"/><circle cx="895.1" cy="781.5" r="3.00"/><circle cx="895.6" cy="817.5" r="3.00"/><circle cx="899.5" cy="735.6" r="3.00"/><circle cx="897.2" cy="804.4" r="3.00"/><circle cx="900.1" cy="741.7" r="3.00"/><circle cx="899.0" cy="836.1" r="3.00"/><circle cx="896.0" cy="830.0" r="3.00"/><circle cx="897.9" cy="714.0" r="3.00"/><circle cx="897.9" cy="724.4" r="3.00"/></g>
<g stroke="#ff2418" opacity="0.9"><rect x="893.7" y="771.0" width="8.4" height="8.0" fill="#ff2418" fill-opacity="0.45" stroke="none"/><line x1="887.2" y1="775.0" x2="908.6" y2="775.0" stroke-width="2.4"/><line x1="897.9" y1="771.0" x2="897.9" y2="779.0" stroke-width="1.4"/><line x1="893.7" y1="771.0" x2="902.1" y2="771.0" stroke-width="1.2"/><line x1="893.7" y1="779.0" x2="902.1" y2="779.0" stroke-width="1.2"/></g>
<g fill="#0c2cf2" stroke="#150818" stroke-width="0.75"><circle cx="928.0" cy="825.5" r="3.00"/><circle cx="924.4" cy="838.6" r="3.00"/><circle cx="929.3" cy="840.4" r="3.00"/><circle cx="925.4" cy="829.6" r="3.00"/><circle cx="929.0" cy="831.6" r="3.00"/><circle cx="927.5" cy="851.8" r="3.00"/><circle cx="923.9" cy="833.3" r="3.00"/><circle cx="931.8" cy="848.0" r="3.00"/><circle cx="922.7" cy="853.3" r="3.00"/><circle cx="925.2" cy="824.6" r="3.00"/><circle cx="922.8" cy="843.7" r="3.00"/><circle cx="926.9" cy="827.6" r="3.00"/><circle cx="927.9" cy="844.5" r="3.00"/><circle cx="930.7" cy="851.1" r="3.00"/><circle cx="927.5" cy="835.0" r="3.00"/><circle cx="925.3" cy="846.3" r="3.00"/><circle cx="927.8" cy="821.7" r="3.00"/><circle cx="929.7" cy="836.4" r="3.00"/><circle cx="927.4" cy="838.1" r="3.00"/><circle cx="921.2" cy="849.4" r="3.00"/><circle cx="928.9" cy="847.4" r="3.00"/><circle cx="932.6" cy="845.4" r="3.00"/><circle cx="925.6" cy="842.0" r="3.00"/><circle cx="921.9" cy="841.5" r="3.00"/><circle cx="924.8" cy="850.0" r="3.00"/><circle cx="925.8" cy="819.2" r="3.00"/></g>
<g stroke="#ff2418" opacity="0.9"><rect x="922.5" y="841.1" width="8.4" height="3.0" fill="#ff2418" fill-opacity="0.45" stroke="none"/><line x1="916.0" y1="842.6" x2="937.4" y2="842.6" stroke-width="2.4"/><line x1="926.7" y1="841.1" x2="926.7" y2="844.1" stroke-width="1.4"/><line x1="922.5" y1="841.1" x2="930.9" y2="841.1" stroke-width="1.2"/><line x1="922.5" y1="844.1" x2="930.9" y2="844.1" stroke-width="1.2"/></g>
<g fill="#0c2cf2" stroke="#150818" stroke-width="0.75"><circle cx="955.4" cy="797.3" r="3.00"/><circle cx="952.6" cy="833.4" r="3.00"/><circle cx="956.2" cy="787.2" r="3.00"/><circle cx="954.8" cy="789.6" r="3.00"/><circle cx="960.1" cy="834.5" r="3.00"/><circle cx="955.0" cy="837.3" r="3.00"/><circle cx="955.6" cy="802.8" r="3.00"/><circle cx="959.6" cy="838.8" r="3.00"/><circle cx="956.0" cy="782.5" r="3.00"/><circle cx="957.1" cy="819.2" r="3.00"/><circle cx="958.0" cy="814.4" r="3.00"/><circle cx="956.5" cy="823.7" r="3.00"/><circle cx="955.2" cy="780.1" r="3.00"/><circle cx="957.5" cy="834.9" r="3.00"/><circle cx="952.6" cy="828.6" r="3.00"/><circle cx="951.7" cy="840.9" r="3.00"/><circle cx="950.9" cy="836.1" r="3.00"/><circle cx="960.4" cy="826.9" r="3.00"/><circle cx="950.5" cy="825.3" r="3.00"/><circle cx="958.5" cy="805.9" r="3.00"/><circle cx="957.5" cy="791.8" r="3.00"/><circle cx="954.9" cy="792.5" r="3.00"/><circle cx="954.2" cy="807.6" r="3.00"/><circle cx="959.3" cy="810.7" r="3.00"/><circle cx="953.4" cy="815.3" r="3.00"/><circle cx="955.5" cy="813.3" r="3.00"/><circle cx="956.8" cy="829.3" r="3.00"/><circle cx="951.8" cy="818.5" r="3.00"/><circle cx="956.5" cy="841.8" r="3.00"/><circle cx="960.6" cy="821.8" r="3.00"/><circle cx="962.0" cy="832.2" r="3.00"/><circle cx="957.5" cy="799.6" r="3.00"/><circle cx="953.8" cy="847.4" r="3.00"/><circle cx="959.3" cy="845.2" r="3.00"/><circle cx="953.3" cy="822.8" r="3.00"/><circle cx="953.7" cy="843.1" r="3.00"/><circle cx="959.9" cy="817.3" r="3.00"/><circle cx="953.9" cy="839.4" r="3.00"/><circle cx="955.0" cy="783.4" r="3.00"/><circle cx="953.5" cy="804.4" r="3.00"/><circle cx="958.2" cy="801.5" r="3.00"/><circle cx="956.6" cy="809.4" r="3.00"/><circle cx="957.2" cy="794.8" r="3.00"/><circle cx="952.6" cy="811.4" r="3.00"/><circle cx="954.7" cy="820.5" r="3.00"/><circle cx="956.6" cy="846.3" r="3.00"/><circle cx="954.9" cy="827.5" r="3.00"/><circle cx="958.8" cy="824.6" r="3.00"/><circle cx="949.8" cy="831.6" r="3.00"/><circle cx="959.8" cy="830.4" r="3.00"/></g>
<g stroke="#ff2418" opacity="0.9"><rect x="951.8" y="821.9" width="8.4" height="4.0" fill="#ff2418" fill-opacity="0.45" stroke="none"/><line x1="945.3" y1="823.9" x2="966.7" y2="823.9" stroke-width="2.4"/><line x1="956.0" y1="821.9" x2="956.0" y2="825.9" stroke-width="1.4"/><line x1="951.8" y1="821.9" x2="960.2" y2="821.9" stroke-width="1.2"/><line x1="951.8" y1="825.9" x2="960.2" y2="825.9" stroke-width="1.2"/></g>
<g fill="#0c2cf2" stroke="#150818" stroke-width="0.75"><circle cx="984.7" cy="826.1" r="3.00"/><circle cx="981.1" cy="829.2" r="3.00"/><circle cx="982.9" cy="820.1" r="3.00"/><circle cx="989.2" cy="816.0" r="3.00"/><circle cx="991.1" cy="820.6" r="3.00"/><circle cx="982.9" cy="804.4" r="3.00"/><circle cx="986.2" cy="822.0" r="3.00"/><circle cx="987.0" cy="831.2" r="3.00"/><circle cx="987.6" cy="789.3" r="3.00"/><circle cx="987.4" cy="802.2" r="3.00"/><circle cx="988.6" cy="797.1" r="3.00"/><circle cx="985.0" cy="814.3" r="3.00"/><circle cx="987.6" cy="836.4" r="3.00"/><circle cx="983.1" cy="837.4" r="3.00"/><circle cx="985.3" cy="772.3" r="3.00"/><circle cx="983.0" cy="791.3" r="3.00"/><circle cx="981.6" cy="795.5" r="3.00"/><circle cx="988.8" cy="807.5" r="3.00"/><circle cx="989.1" cy="827.0" r="3.00"/><circle cx="986.5" cy="827.9" r="3.00"/><circle cx="979.9" cy="824.5" r="3.00"/><circle cx="979.5" cy="816.9" r="3.00"/><circle cx="981.1" cy="800.3" r="3.00"/><circle cx="984.7" cy="799.9" r="3.00"/><circle cx="985.9" cy="778.2" r="3.00"/><circle cx="985.5" cy="806.5" r="3.00"/><circle cx="984.1" cy="775.9" r="3.00"/><circle cx="985.9" cy="839.2" r="3.00"/><circle cx="981.3" cy="811.5" r="3.00"/><circle cx="985.5" cy="794.4" r="3.00"/><circle cx="990.9" cy="812.5" r="3.00"/><circle cx="983.7" cy="787.0" r="3.00"/><circle cx="983.2" cy="823.1" r="3.00"/><circle cx="984.2" cy="809.4" r="3.00"/><circle cx="980.2" cy="808.6" r="3.00"/><circle cx="989.7" cy="803.2" r="3.00"/><circle cx="986.0" cy="787.8" r="3.00"/><circle cx="983.6" cy="779.9" r="3.00"/><circle cx="987.1" cy="782.7" r="3.00"/><circle cx="988.2" cy="813.3" r="3.00"/><circle cx="989.3" cy="823.3" r="3.00"/><circle cx="986.2" cy="818.1" r="3.00"/><circle cx="982.8" cy="833.1" r="3.00"/><circle cx="981.7" cy="815.0" r="3.00"/><circle cx="982.5" cy="797.9" r="3.00"/><circle cx="988.8" cy="818.8" r="3.00"/><circle cx="984.1" cy="830.5" r="3.00"/><circle cx="985.6" cy="834.1" r="3.00"/><circle cx="985.4" cy="781.1" r="3.00"/><circle cx="980.8" cy="805.5" r="3.00"/><circle cx="986.8" cy="810.8" r="3.00"/><circle cx="985.0" cy="784.6" r="3.00"/><circle cx="987.6" cy="792.9" r="3.00"/><circle cx="985.3" cy="751.6" r="3.00"/><circle cx="985.3" cy="763.5" r="3.00"/></g>
<g stroke="#ff2418" opacity="0.9"><rect x="981.1" y="801.5" width="8.4" height="4.0" fill="#ff2418" fill-opacity="0.45" stroke="none"/><line x1="974.6" y1="803.5" x2="996.0" y2="803.5" stroke-width="2.4"/><line x1="985.3" y1="801.5" x2="985.3" y2="805.5" stroke-width="1.4"/><line x1="981.1" y1="801.5" x2="989.5" y2="801.5" stroke-width="1.2"/><line x1="981.1" y1="805.5" x2="989.5" y2="805.5" stroke-width="1.2"/></g>
<g fill="#0c2cf2" stroke="#150818" stroke-width="0.75"><circle cx="1014.1" cy="788.8" r="3.00"/><circle cx="1012.9" cy="820.8" r="3.00"/><circle cx="1016.4" cy="849.1" r="3.00"/><circle cx="1012.3" cy="814.8" r="3.00"/><circle cx="1016.7" cy="825.2" r="3.00"/><circle cx="1010.2" cy="850.4" r="3.00"/><circle cx="1009.6" cy="832.8" r="3.00"/><circle cx="1013.2" cy="804.6" r="3.00"/><circle cx="1015.0" cy="787.1" r="3.00"/><circle cx="1017.4" cy="816.1" r="3.00"/><circle cx="1016.4" cy="808.7" r="3.00"/><circle cx="1016.8" cy="834.8" r="3.00"/><circle cx="1014.1" cy="841.0" r="3.00"/><circle cx="1008.5" cy="840.1" r="3.00"/><circle cx="1019.9" cy="841.7" r="3.00"/><circle cx="1012.1" cy="807.1" r="3.00"/><circle cx="1015.8" cy="805.9" r="3.00"/><circle cx="1011.6" cy="836.9" r="3.00"/><circle cx="1012.8" cy="799.8" r="3.00"/><circle cx="1013.8" cy="852.5" r="3.00"/><circle cx="1015.8" cy="798.2" r="3.00"/><circle cx="1011.3" cy="828.7" r="3.00"/><circle cx="1013.0" cy="811.0" r="3.00"/><circle cx="1015.1" cy="793.8" r="3.00"/><circle cx="1016.2" cy="802.7" r="3.00"/><circle cx="1020.0" cy="846.5" r="3.00"/><circle cx="1018.1" cy="822.1" r="3.00"/><circle cx="1012.5" cy="833.8" r="3.00"/><circle cx="1018.5" cy="851.3" r="3.00"/><circle cx="1015.7" cy="813.1" r="3.00"/><circle cx="1016.0" cy="819.6" r="3.00"/><circle cx="1012.8" cy="847.0" r="3.00"/><circle cx="1010.9" cy="842.5" r="3.00"/><circle cx="1017.8" cy="831.6" r="3.00"/><circle cx="1013.0" cy="796.6" r="3.00"/><circle cx="1014.5" cy="829.6" r="3.00"/><circle cx="1013.3" cy="827.2" r="3.00"/><circle cx="1015.3" cy="791.2" r="3.00"/><circle cx="1009.5" cy="830.4" r="3.00"/><circle cx="1014.1" cy="817.3" r="3.00"/><circle cx="1008.5" cy="848.5" r="3.00"/><circle cx="1010.7" cy="818.4" r="3.00"/><circle cx="1008.7" cy="836.1" r="3.00"/><circle cx="1009.7" cy="845.5" r="3.00"/><circle cx="1017.3" cy="843.4" r="3.00"/><circle cx="1017.1" cy="838.9" r="3.00"/><circle cx="1010.2" cy="823.6" r="3.00"/><circle cx="1014.9" cy="844.8" r="3.00"/><circle cx="1014.4" cy="838.0" r="3.00"/><circle cx="1011.2" cy="826.3" r="3.00"/></g>
<g stroke="#ff2418" opacity="0.9"><rect x="1010.0" y="830.6" width="8.4" height="4.0" fill="#ff2418" fill-opacity="0.45" stroke="none"/><line x1="1003.5" y1="832.6" x2="1024.9" y2="832.6" stroke-width="2.4"/><line x1="1014.2" y1="830.6" x2="1014.2" y2="834.6" stroke-width="1.4"/><line x1="1010.0" y1="830.6" x2="1018.4" y2="830.6" stroke-width="1.2"/><line x1="1010.0" y1="834.6" x2="1018.4" y2="834.6" stroke-width="1.2"/></g>
<g fill="#ff9612" stroke="#150818" stroke-width="0.75"><circle cx="1076.2" cy="805.4" r="3.00"/><circle cx="1068.9" cy="789.9" r="3.00"/><circle cx="1072.9" cy="772.3" r="3.00"/><circle cx="1068.7" cy="816.0" r="3.00"/><circle cx="1071.9" cy="811.3" r="3.00"/><circle cx="1065.8" cy="812.3" r="3.00"/><circle cx="1069.8" cy="773.6" r="3.00"/><circle cx="1073.8" cy="819.1" r="3.00"/><circle cx="1074.2" cy="794.6" r="3.00"/><circle cx="1071.9" cy="766.0" r="3.00"/><circle cx="1074.5" cy="776.0" r="3.00"/><circle cx="1076.5" cy="814.4" r="3.00"/><circle cx="1073.8" cy="763.0" r="3.00"/><circle cx="1068.1" cy="795.5" r="3.00"/><circle cx="1072.4" cy="750.2" r="3.00"/><circle cx="1067.7" cy="803.1" r="3.00"/><circle cx="1075.1" cy="787.0" r="3.00"/><circle cx="1074.1" cy="781.2" r="3.00"/><circle cx="1072.6" cy="744.8" r="3.00"/><circle cx="1070.7" cy="785.7" r="3.00"/><circle cx="1071.3" cy="806.7" r="3.00"/><circle cx="1071.0" cy="756.4" r="3.00"/><circle cx="1072.8" cy="802.5" r="3.00"/><circle cx="1077.2" cy="801.7" r="3.00"/><circle cx="1071.5" cy="797.2" r="3.00"/><circle cx="1070.2" cy="770.3" r="3.00"/><circle cx="1066.3" cy="807.5" r="3.00"/><circle cx="1072.3" cy="788.2" r="3.00"/><circle cx="1078.0" cy="809.4" r="3.00"/><circle cx="1070.2" cy="764.5" r="3.00"/><circle cx="1070.8" cy="777.3" r="3.00"/><circle cx="1074.3" cy="808.4" r="3.00"/><circle cx="1071.3" cy="792.5" r="3.00"/><circle cx="1069.1" cy="810.4" r="3.00"/><circle cx="1074.3" cy="812.8" r="3.00"/><circle cx="1069.7" cy="804.7" r="3.00"/><circle cx="1073.3" cy="754.5" r="3.00"/><circle cx="1073.3" cy="784.1" r="3.00"/><circle cx="1071.4" cy="740.5" r="3.00"/><circle cx="1071.8" cy="816.7" r="3.00"/><circle cx="1072.8" cy="738.6" r="3.00"/><circle cx="1070.8" cy="752.5" r="3.00"/><circle cx="1069.1" cy="820.3" r="3.00"/><circle cx="1074.2" cy="815.4" r="3.00"/><circle cx="1074.2" cy="769.2" r="3.00"/><circle cx="1073.7" cy="758.5" r="3.00"/><circle cx="1068.8" cy="782.7" r="3.00"/><circle cx="1075.2" cy="798.4" r="3.00"/><circle cx="1075.8" cy="791.6" r="3.00"/><circle cx="1076.4" cy="817.9" r="3.00"/><circle cx="1070.0" cy="800.6" r="3.00"/><circle cx="1073.4" cy="778.4" r="3.00"/><circle cx="1070.7" cy="760.8" r="3.00"/><circle cx="1071.1" cy="780.5" r="3.00"/><circle cx="1072.1" cy="742.6" r="3.00"/><circle cx="1067.4" cy="799.0" r="3.00"/><circle cx="1072.0" cy="821.9" r="3.00"/><circle cx="1069.6" cy="794.0" r="3.00"/><circle cx="1071.0" cy="748.2" r="3.00"/><circle cx="1072.1" cy="727.8" r="3.00"/></g>
<g stroke="#ff2418" opacity="0.9"><rect x="1067.9" y="785.6" width="8.4" height="4.0" fill="#ff2418" fill-opacity="0.45" stroke="none"/><line x1="1061.4" y1="787.6" x2="1082.8" y2="787.6" stroke-width="2.4"/><line x1="1072.1" y1="785.6" x2="1072.1" y2="789.6" stroke-width="1.4"/><line x1="1067.9" y1="785.6" x2="1076.3" y2="785.6" stroke-width="1.2"/><line x1="1067.9" y1="789.6" x2="1076.3" y2="789.6" stroke-width="1.2"/></g>
<g fill="#ff9612" stroke="#150818" stroke-width="0.75"><circle cx="1098.9" cy="809.5" r="3.00"/><circle cx="1100.7" cy="847.2" r="3.00"/><circle cx="1104.6" cy="833.4" r="3.00"/><circle cx="1105.8" cy="846.3" r="3.00"/><circle cx="1101.0" cy="793.0" r="3.00"/><circle cx="1097.7" cy="815.3" r="3.00"/><circle cx="1102.3" cy="799.9" r="3.00"/><circle cx="1104.2" cy="817.3" r="3.00"/><circle cx="1102.3" cy="840.3" r="3.00"/><circle cx="1103.8" cy="812.9" r="3.00"/><circle cx="1097.5" cy="832.0" r="3.00"/><circle cx="1103.3" cy="826.4" r="3.00"/><circle cx="1102.2" cy="795.4" r="3.00"/><circle cx="1099.9" cy="835.8" r="3.00"/><circle cx="1102.8" cy="807.2" r="3.00"/><circle cx="1097.8" cy="825.4" r="3.00"/><circle cx="1099.7" cy="853.5" r="3.00"/><circle cx="1101.0" cy="811.5" r="3.00"/><circle cx="1096.4" cy="849.2" r="3.00"/><circle cx="1100.5" cy="814.3" r="3.00"/><circle cx="1105.6" cy="837.7" r="3.00"/><circle cx="1102.1" cy="792.3" r="3.00"/><circle cx="1105.8" cy="821.5" r="3.00"/><circle cx="1096.6" cy="841.7" r="3.00"/><circle cx="1099.5" cy="819.4" r="3.00"/><circle cx="1095.9" cy="818.3" r="3.00"/><circle cx="1096.5" cy="834.5" r="3.00"/><circle cx="1099.6" cy="804.1" r="3.00"/><circle cx="1100.6" cy="808.0" r="3.00"/><circle cx="1101.6" cy="785.6" r="3.00"/><circle cx="1099.9" cy="816.8" r="3.00"/><circle cx="1100.1" cy="827.9" r="3.00"/><circle cx="1097.2" cy="845.4" r="3.00"/><circle cx="1106.1" cy="824.9" r="3.00"/><circle cx="1105.4" cy="829.0" r="3.00"/><circle cx="1104.6" cy="850.9" r="3.00"/><circle cx="1101.6" cy="802.4" r="3.00"/><circle cx="1099.6" cy="798.9" r="3.00"/><circle cx="1101.0" cy="824.0" r="3.00"/><circle cx="1101.2" cy="851.3" r="3.00"/><circle cx="1101.6" cy="831.0" r="3.00"/><circle cx="1100.1" cy="789.5" r="3.00"/><circle cx="1105.6" cy="842.4" r="3.00"/><circle cx="1099.2" cy="830.1" r="3.00"/><circle cx="1102.6" cy="820.2" r="3.00"/><circle cx="1102.7" cy="837.2" r="3.00"/><circle cx="1095.6" cy="822.3" r="3.00"/><circle cx="1103.5" cy="848.3" r="3.00"/><circle cx="1098.8" cy="839.6" r="3.00"/><circle cx="1103.2" cy="844.6" r="3.00"/><circle cx="1100.5" cy="843.5" r="3.00"/></g>
<g stroke="#ff2418" opacity="0.9"><rect x="1096.8" y="825.1" width="8.4" height="4.0" fill="#ff2418" fill-opacity="0.45" stroke="none"/><line x1="1090.3" y1="827.1" x2="1111.7" y2="827.1" stroke-width="2.4"/><line x1="1101.0" y1="825.1" x2="1101.0" y2="829.1" stroke-width="1.4"/><line x1="1096.8" y1="825.1" x2="1105.2" y2="825.1" stroke-width="1.2"/><line x1="1096.8" y1="829.1" x2="1105.2" y2="829.1" stroke-width="1.2"/></g>
<g fill="#ff9612" stroke="#150818" stroke-width="0.75"><circle cx="1132.7" cy="818.4" r="3.00"/><circle cx="1133.7" cy="843.7" r="3.00"/><circle cx="1134.9" cy="830.4" r="3.00"/><circle cx="1131.9" cy="813.2" r="3.00"/><circle cx="1133.6" cy="806.6" r="3.00"/><circle cx="1132.6" cy="792.6" r="3.00"/><circle cx="1127.2" cy="815.2" r="3.00"/><circle cx="1128.7" cy="795.9" r="3.00"/><circle cx="1130.5" cy="816.3" r="3.00"/><circle cx="1127.4" cy="836.1" r="3.00"/><circle cx="1133.4" cy="797.8" r="3.00"/><circle cx="1126.6" cy="828.0" r="3.00"/><circle cx="1128.3" cy="821.5" r="3.00"/><circle cx="1130.6" cy="828.9" r="3.00"/><circle cx="1133.2" cy="824.9" r="3.00"/><circle cx="1131.5" cy="822.3" r="3.00"/><circle cx="1132.7" cy="838.2" r="3.00"/><circle cx="1129.3" cy="841.9" r="3.00"/><circle cx="1128.4" cy="839.0" r="3.00"/><circle cx="1130.0" cy="793.5" r="3.00"/><circle cx="1126.1" cy="843.0" r="3.00"/><circle cx="1130.0" cy="849.0" r="3.00"/><circle cx="1135.4" cy="840.3" r="3.00"/><circle cx="1129.3" cy="805.3" r="3.00"/><circle cx="1130.2" cy="836.9" r="3.00"/><circle cx="1133.7" cy="851.5" r="3.00"/><circle cx="1128.8" cy="788.9" r="3.00"/><circle cx="1132.2" cy="785.6" r="3.00"/><circle cx="1131.9" cy="789.9" r="3.00"/><circle cx="1128.6" cy="811.9" r="3.00"/><circle cx="1134.2" cy="848.2" r="3.00"/><circle cx="1130.1" cy="786.9" r="3.00"/><circle cx="1127.8" cy="800.8" r="3.00"/><circle cx="1129.2" cy="826.3" r="3.00"/><circle cx="1133.4" cy="810.1" r="3.00"/><circle cx="1130.6" cy="819.9" r="3.00"/><circle cx="1130.2" cy="798.6" r="3.00"/><circle cx="1134.9" cy="834.5" r="3.00"/><circle cx="1127.5" cy="850.1" r="3.00"/><circle cx="1130.1" cy="853.6" r="3.00"/><circle cx="1127.7" cy="808.3" r="3.00"/><circle cx="1126.7" cy="823.8" r="3.00"/><circle cx="1130.3" cy="809.0" r="3.00"/><circle cx="1127.9" cy="830.9" r="3.00"/><circle cx="1131.2" cy="833.2" r="3.00"/><circle cx="1130.6" cy="844.9" r="3.00"/><circle cx="1132.6" cy="802.5" r="3.00"/><circle cx="1133.7" cy="832.2" r="3.00"/><circle cx="1127.6" cy="803.8" r="3.00"/><circle cx="1127.8" cy="846.9" r="3.00"/><circle cx="1128.3" cy="817.2" r="3.00"/></g>
<g stroke="#ff2418" opacity="0.9"><rect x="1126.5" y="824.4" width="8.4" height="4.0" fill="#ff2418" fill-opacity="0.45" stroke="none"/><line x1="1120.0" y1="826.4" x2="1141.4" y2="826.4" stroke-width="2.4"/><line x1="1130.7" y1="824.4" x2="1130.7" y2="828.4" stroke-width="1.4"/><line x1="1126.5" y1="824.4" x2="1134.9" y2="824.4" stroke-width="1.2"/><line x1="1126.5" y1="828.4" x2="1134.9" y2="828.4" stroke-width="1.2"/></g>
<g fill="#ff9612" stroke="#150818" stroke-width="0.75"><circle cx="1165.1" cy="794.8" r="3.00"/><circle cx="1158.8" cy="813.8" r="3.00"/><circle cx="1163.2" cy="803.2" r="3.00"/><circle cx="1159.6" cy="772.5" r="3.00"/><circle cx="1162.4" cy="809.7" r="3.00"/><circle cx="1162.1" cy="824.2" r="3.00"/><circle cx="1158.1" cy="778.6" r="3.00"/><circle cx="1160.3" cy="832.9" r="3.00"/><circle cx="1155.1" cy="813.1" r="3.00"/><circle cx="1156.2" cy="798.4" r="3.00"/><circle cx="1157.4" cy="820.4" r="3.00"/><circle cx="1160.4" cy="783.3" r="3.00"/><circle cx="1160.7" cy="776.6" r="3.00"/><circle cx="1158.7" cy="768.3" r="3.00"/><circle cx="1160.5" cy="769.9" r="3.00"/><circle cx="1154.6" cy="805.1" r="3.00"/><circle cx="1162.0" cy="818.1" r="3.00"/><circle cx="1157.1" cy="831.0" r="3.00"/><circle cx="1160.4" cy="795.7" r="3.00"/><circle cx="1163.2" cy="797.7" r="3.00"/><circle cx="1159.7" cy="818.9" r="3.00"/><circle cx="1158.8" cy="804.0" r="3.00"/><circle cx="1159.4" cy="789.8" r="3.00"/><circle cx="1157.0" cy="785.1" r="3.00"/><circle cx="1156.2" cy="792.9" r="3.00"/><circle cx="1160.3" cy="764.6" r="3.00"/><circle cx="1157.4" cy="835.2" r="3.00"/><circle cx="1160.7" cy="838.3" r="3.00"/><circle cx="1155.5" cy="801.7" r="3.00"/><circle cx="1164.1" cy="790.3" r="3.00"/><circle cx="1157.9" cy="810.2" r="3.00"/><circle cx="1158.0" cy="839.8" r="3.00"/><circle cx="1161.4" cy="806.3" r="3.00"/><circle cx="1158.2" cy="775.4" r="3.00"/><circle cx="1160.5" cy="828.0" r="3.00"/><circle cx="1160.2" cy="811.3" r="3.00"/><circle cx="1162.1" cy="787.9" r="3.00"/><circle cx="1154.9" cy="789.0" r="3.00"/><circle cx="1156.9" cy="825.2" r="3.00"/><circle cx="1163.8" cy="815.2" r="3.00"/><circle cx="1159.6" cy="786.7" r="3.00"/><circle cx="1164.5" cy="806.8" r="3.00"/><circle cx="1159.3" cy="822.8" r="3.00"/><circle cx="1157.8" cy="781.8" r="3.00"/><circle cx="1160.5" cy="800.5" r="3.00"/><circle cx="1164.6" cy="799.8" r="3.00"/><circle cx="1158.3" cy="827.2" r="3.00"/><circle cx="1162.5" cy="830.4" r="3.00"/><circle cx="1154.2" cy="796.9" r="3.00"/><circle cx="1162.5" cy="793.8" r="3.00"/><circle cx="1155.3" cy="808.6" r="3.00"/><circle cx="1159.2" cy="836.7" r="3.00"/><circle cx="1153.7" cy="791.3" r="3.00"/><circle cx="1163.4" cy="821.0" r="3.00"/><circle cx="1156.4" cy="816.0" r="3.00"/><circle cx="1159.6" cy="734.3" r="3.00"/><circle cx="1159.6" cy="754.7" r="3.00"/></g>
<g stroke="#ff2418" opacity="0.9"><rect x="1155.4" y="800.1" width="8.4" height="4.0" fill="#ff2418" fill-opacity="0.45" stroke="none"/><line x1="1148.9" y1="802.1" x2="1170.3" y2="802.1" stroke-width="2.4"/><line x1="1159.6" y1="800.1" x2="1159.6" y2="804.1" stroke-width="1.4"/><line x1="1155.4" y1="800.1" x2="1163.8" y2="800.1" stroke-width="1.2"/><line x1="1155.4" y1="804.1" x2="1163.8" y2="804.1" stroke-width="1.2"/></g>
<g fill="#ff9612" stroke="#150818" stroke-width="0.75"><circle cx="1186.8" cy="800.8" r="3.00"/><circle cx="1193.5" cy="824.3" r="3.00"/><circle cx="1186.1" cy="845.4" r="3.00"/><circle cx="1186.7" cy="808.8" r="3.00"/><circle cx="1190.5" cy="834.1" r="3.00"/><circle cx="1189.9" cy="795.4" r="3.00"/><circle cx="1189.4" cy="841.2" r="3.00"/><circle cx="1190.8" cy="854.0" r="3.00"/><circle cx="1188.3" cy="798.1" r="3.00"/><circle cx="1191.7" cy="849.3" r="3.00"/><circle cx="1194.7" cy="832.3" r="3.00"/><circle cx="1191.4" cy="808.3" r="3.00"/><circle cx="1184.3" cy="818.7" r="3.00"/><circle cx="1184.5" cy="832.8" r="3.00"/><circle cx="1184.5" cy="812.0" r="3.00"/><circle cx="1185.8" cy="824.9" r="3.00"/><circle cx="1186.2" cy="837.8" r="3.00"/><circle cx="1188.4" cy="830.6" r="3.00"/><circle cx="1189.1" cy="806.9" r="3.00"/><circle cx="1185.4" cy="804.9" r="3.00"/><circle cx="1192.1" cy="844.1" r="3.00"/><circle cx="1191.3" cy="830.9" r="3.00"/><circle cx="1187.0" cy="793.5" r="3.00"/><circle cx="1183.9" cy="842.8" r="3.00"/><circle cx="1186.9" cy="841.9" r="3.00"/><circle cx="1190.3" cy="827.3" r="3.00"/><circle cx="1192.3" cy="817.9" r="3.00"/><circle cx="1193.6" cy="838.9" r="3.00"/><circle cx="1188.8" cy="815.2" r="3.00"/><circle cx="1183.9" cy="839.9" r="3.00"/><circle cx="1183.1" cy="826.5" r="3.00"/><circle cx="1186.6" cy="817.0" r="3.00"/><circle cx="1189.3" cy="822.1" r="3.00"/><circle cx="1191.1" cy="837.1" r="3.00"/><circle cx="1188.4" cy="847.6" r="3.00"/><circle cx="1189.3" cy="810.9" r="3.00"/><circle cx="1192.1" cy="814.1" r="3.00"/><circle cx="1190.6" cy="846.3" r="3.00"/><circle cx="1191.6" cy="803.6" r="3.00"/><circle cx="1191.5" cy="823.3" r="3.00"/><circle cx="1185.2" cy="829.3" r="3.00"/><circle cx="1193.7" cy="821.2" r="3.00"/><circle cx="1187.5" cy="812.8" r="3.00"/><circle cx="1189.1" cy="802.4" r="3.00"/><circle cx="1186.2" cy="851.6" r="3.00"/><circle cx="1186.5" cy="834.7" r="3.00"/><circle cx="1187.4" cy="819.7" r="3.00"/><circle cx="1194.0" cy="828.0" r="3.00"/><circle cx="1186.6" cy="796.4" r="3.00"/><circle cx="1188.5" cy="850.3" r="3.00"/><circle cx="1182.7" cy="835.9" r="3.00"/></g>
<g stroke="#ff2418" opacity="0.9"><rect x="1184.4" y="823.5" width="8.4" height="4.0" fill="#ff2418" fill-opacity="0.45" stroke="none"/><line x1="1177.9" y1="825.5" x2="1199.3" y2="825.5" stroke-width="2.4"/><line x1="1188.6" y1="823.5" x2="1188.6" y2="827.5" stroke-width="1.4"/><line x1="1184.4" y1="823.5" x2="1192.8" y2="823.5" stroke-width="1.2"/><line x1="1184.4" y1="827.5" x2="1192.8" y2="827.5" stroke-width="1.2"/></g>
<text x="640.98" y="898.57" font-size="25.51" font-weight="bold" fill="#000" stroke="#000" stroke-width="0.45" textLength="58.04" lengthAdjust="spacingAndGlyphs">PI3K</text>
<text x="700.14" y="900.88" font-size="14.20" font-weight="bold" fill="#000" stroke="#000" stroke-width="0.45" textLength="3.14" lengthAdjust="spacingAndGlyphs">i</text>
<rect x="706.60" y="885.10" width="4.80" height="4.80" fill="#000" rx="0.8"/>
<rect x="706.60" y="894.30" width="4.80" height="4.80" fill="#000" rx="0.8"/>
<text x="622.57" y="929.57" font-size="25.51" font-weight="bold" fill="#000" stroke="#000" stroke-width="0.45" textLength="76.94" lengthAdjust="spacingAndGlyphs">AMPK</text>
<text x="700.54" y="932.27" font-size="14.20" font-weight="bold" fill="#000" stroke="#000" stroke-width="0.45" textLength="3.14" lengthAdjust="spacingAndGlyphs">i</text>
<rect x="706.60" y="916.10" width="4.80" height="4.80" fill="#000" rx="0.8"/>
<rect x="706.60" y="925.30" width="4.80" height="4.80" fill="#000" rx="0.8"/>
<text x="640.19" y="956.57" font-size="25.51" font-weight="bold" fill="#000" stroke="#000" stroke-width="0.45" textLength="64.97" lengthAdjust="spacingAndGlyphs">LepB</text>
<rect x="706.60" y="944.30" width="4.80" height="4.80" fill="#000" rx="0.8"/>
<rect x="706.60" y="952.30" width="4.80" height="4.80" fill="#000" rx="0.8"/>
<rect x="718.25" y="894.80" width="12.50" height="4.00" fill="#000" />
<rect x="747.15" y="894.80" width="12.50" height="4.00" fill="#000" />
<rect x="774.20" y="895.00" width="16.60" height="3.60" fill="#000" />
<rect x="780.70" y="888.50" width="3.60" height="16.60" fill="#000" />
<rect x="803.10" y="895.00" width="16.60" height="3.60" fill="#000" />
<rect x="809.60" y="888.50" width="3.60" height="16.60" fill="#000" />
<rect x="831.90" y="895.00" width="16.60" height="3.60" fill="#000" />
<rect x="838.40" y="888.50" width="3.60" height="16.60" fill="#000" />
<rect x="892.75" y="894.80" width="12.50" height="4.00" fill="#000" />
<rect x="921.95" y="894.80" width="12.50" height="4.00" fill="#000" />
<rect x="949.20" y="895.00" width="16.60" height="3.60" fill="#000" />
<rect x="955.70" y="888.50" width="3.60" height="16.60" fill="#000" />
<rect x="978.10" y="895.00" width="16.60" height="3.60" fill="#000" />
<rect x="984.60" y="888.50" width="3.60" height="16.60" fill="#000" />
<rect x="1007.30" y="895.00" width="16.60" height="3.60" fill="#000" />
<rect x="1013.80" y="888.50" width="3.60" height="16.60" fill="#000" />
<rect x="1067.05" y="894.80" width="12.50" height="4.00" fill="#000" />
<rect x="1096.15" y="894.80" width="12.50" height="4.00" fill="#000" />
<rect x="1123.50" y="895.00" width="16.60" height="3.60" fill="#000" />
<rect x="1130.00" y="888.50" width="3.60" height="16.60" fill="#000" />
<rect x="1152.30" y="895.00" width="16.60" height="3.60" fill="#000" />
<rect x="1158.80" y="888.50" width="3.60" height="16.60" fill="#000" />
<rect x="1181.40" y="895.00" width="16.60" height="3.60" fill="#000" />
<rect x="1187.90" y="888.50" width="3.60" height="16.60" fill="#000" />
<rect x="718.25" y="920.80" width="12.50" height="4.00" fill="#000" />
<rect x="747.15" y="920.80" width="12.50" height="4.00" fill="#000" />
<rect x="776.05" y="920.80" width="12.50" height="4.00" fill="#000" />
<rect x="803.10" y="921.00" width="16.60" height="3.60" fill="#000" />
<rect x="809.60" y="914.50" width="3.60" height="16.60" fill="#000" />
<rect x="831.90" y="921.00" width="16.60" height="3.60" fill="#000" />
<rect x="838.40" y="914.50" width="3.60" height="16.60" fill="#000" />
<rect x="892.75" y="920.80" width="12.50" height="4.00" fill="#000" />
<rect x="921.95" y="920.80" width="12.50" height="4.00" fill="#000" />
<rect x="951.05" y="920.80" width="12.50" height="4.00" fill="#000" />
<rect x="978.10" y="921.00" width="16.60" height="3.60" fill="#000" />
<rect x="984.60" y="914.50" width="3.60" height="16.60" fill="#000" />
<rect x="1007.30" y="921.00" width="16.60" height="3.60" fill="#000" />
<rect x="1013.80" y="914.50" width="3.60" height="16.60" fill="#000" />
<rect x="1067.05" y="920.80" width="12.50" height="4.00" fill="#000" />
<rect x="1096.15" y="920.80" width="12.50" height="4.00" fill="#000" />
<rect x="1125.35" y="920.80" width="12.50" height="4.00" fill="#000" />
<rect x="1152.30" y="921.00" width="16.60" height="3.60" fill="#000" />
<rect x="1158.80" y="914.50" width="3.60" height="16.60" fill="#000" />
<rect x="1181.40" y="921.00" width="16.60" height="3.60" fill="#000" />
<rect x="1187.90" y="914.50" width="3.60" height="16.60" fill="#000" />
<rect x="718.25" y="948.20" width="12.50" height="4.00" fill="#000" />
<rect x="745.30" y="948.40" width="16.60" height="3.60" fill="#000" />
<rect x="751.80" y="941.90" width="3.60" height="16.60" fill="#000" />
<rect x="776.05" y="948.20" width="12.50" height="4.00" fill="#000" />
<rect x="804.95" y="948.20" width="12.50" height="4.00" fill="#000" />
<rect x="831.90" y="948.40" width="16.60" height="3.60" fill="#000" />
<rect x="838.40" y="941.90" width="3.60" height="16.60" fill="#000" />
<rect x="892.75" y="948.20" width="12.50" height="4.00" fill="#000" />
<rect x="920.10" y="948.40" width="16.60" height="3.60" fill="#000" />
<rect x="926.60" y="941.90" width="3.60" height="16.60" fill="#000" />
<rect x="951.05" y="948.20" width="12.50" height="4.00" fill="#000" />
<rect x="979.95" y="948.20" width="12.50" height="4.00" fill="#000" />
<rect x="1007.30" y="948.40" width="16.60" height="3.60" fill="#000" />
<rect x="1013.80" y="941.90" width="3.60" height="16.60" fill="#000" />
<rect x="1067.05" y="948.20" width="12.50" height="4.00" fill="#000" />
<rect x="1094.30" y="948.40" width="16.60" height="3.60" fill="#000" />
<rect x="1100.80" y="941.90" width="3.60" height="16.60" fill="#000" />
<rect x="1125.35" y="948.20" width="12.50" height="4.00" fill="#000" />
<rect x="1154.15" y="948.20" width="12.50" height="4.00" fill="#000" />
<rect x="1181.40" y="948.40" width="16.60" height="3.60" fill="#000" />
<rect x="1187.90" y="941.90" width="3.60" height="16.60" fill="#000" />
<text x="3.12" y="1005.67" font-size="47.20" font-weight="bold" fill="#000" stroke="#000" stroke-width="0.45" textLength="31.87" lengthAdjust="spacingAndGlyphs">C</text>
<text x="104.01" y="1023.48" font-size="25.51" font-weight="bold" fill="#000" stroke="#000" stroke-width="0.45" textLength="79.98" lengthAdjust="spacingAndGlyphs">FoxO1</text>
<text x="279.82" y="1023.48" font-size="25.51" font-weight="bold" fill="#000" stroke="#000" stroke-width="0.45" textLength="93.70" lengthAdjust="spacingAndGlyphs">FoxO3a</text>
<text x="468.59" y="1023.48" font-size="25.51" font-weight="bold" fill="#000" stroke="#000" stroke-width="0.45" textLength="80.83" lengthAdjust="spacingAndGlyphs">FoxO4</text>
<line x1="58.30" y1="1032.80" x2="234.60" y2="1032.80" stroke="#333" stroke-width="1.60"/>
<line x1="241.30" y1="1032.80" x2="417.00" y2="1032.80" stroke="#333" stroke-width="1.60"/>
<line x1="423.00" y1="1032.80" x2="600.30" y2="1032.80" stroke="#333" stroke-width="1.60"/>
<rect x="97.25" y="1044.50" width="12.50" height="3.80" fill="#000" />
<text x="149.62" y="1053.28" font-size="24.35" font-weight="bold" fill="#000" stroke="#000" stroke-width="0.45" textLength="80.84" lengthAdjust="spacingAndGlyphs">+LepB</text>
<rect x="279.05" y="1044.50" width="12.50" height="3.80" fill="#000" />
<text x="332.92" y="1053.28" font-size="24.35" font-weight="bold" fill="#000" stroke="#000" stroke-width="0.45" textLength="81.36" lengthAdjust="spacingAndGlyphs">+LepB</text>
<rect x="458.25" y="1044.50" width="12.50" height="3.80" fill="#000" />
<text x="515.24" y="1053.28" font-size="24.35" font-weight="bold" fill="#000" stroke="#000" stroke-width="0.45" textLength="79.61" lengthAdjust="spacingAndGlyphs">+LepB</text>
<rect x="56.8" y="1060.6" width="87.0" height="86.6" rx="1.5" fill="#003c00"/>
<g clip-path="url(#c00)"><ellipse cx="100.0" cy="1104.0" rx="62.0" ry="60.0" fill="#007200" filter="url(#b6)" opacity="1.00" transform="rotate(0.0 100.0 1104.0)"/><ellipse cx="103.0" cy="1102.0" rx="38.0" ry="35.0" fill="#008600" filter="url(#b6)" opacity="1.00" transform="rotate(0.0 103.0 1102.0)"/><ellipse cx="104.3" cy="1101.3" rx="24.3" ry="21.7" fill="#005400" filter="url(#b3)" opacity="1.00" transform="rotate(0.0 104.3 1101.3)"/><ellipse cx="101.0" cy="1110.0" rx="1.6" ry="1.6" fill="#009000" filter="url(#b2)" opacity="1.00" transform="rotate(0.0 101.0 1110.0)"/><ellipse cx="60.0" cy="1064.0" rx="14.0" ry="12.0" fill="#002a00" filter="url(#b6)" opacity="1.00" transform="rotate(0.0 60.0 1064.0)"/><ellipse cx="140.0" cy="1146.0" rx="16.0" ry="10.0" fill="#004400" filter="url(#b6)" opacity="1.00" transform="rotate(0.0 140.0 1146.0)"/></g>
<rect x="57.8" y="1061.6" width="85.0" height="84.6" rx="1.5" fill="none" stroke="#0a0a0a" stroke-width="2.2"/>
<rect x="146.6" y="1060.6" width="87.2" height="86.6" rx="1.5" fill="#030603"/>
<g clip-path="url(#c10)"><ellipse cx="191.4" cy="1103.6" rx="34.0" ry="31.0" fill="#002e00" filter="url(#b6)" opacity="1.00" transform="rotate(35.0 191.4 1103.6)"/><path d="M170,1088 Q176,1078 190,1079 Q205,1081 213,1094 Q219,1106 214,1118 Q208,1130 196,1128 Q184,1127 175,1118 Q165,1108 167,1098 Z" fill="#009400" filter="url(#b2)"/><ellipse cx="180.6" cy="1096.9" rx="5.0" ry="4.5" fill="#006400" filter="url(#b2)" opacity="1.00" transform="rotate(0.0 180.6 1096.9)"/><ellipse cx="195.5" cy="1110.3" rx="7.0" ry="6.5" fill="#005e00" filter="url(#b2)" opacity="1.00" transform="rotate(0.0 195.5 1110.3)"/></g>
<rect x="147.6" y="1061.6" width="85.2" height="84.6" rx="1.5" fill="none" stroke="#0a0a0a" stroke-width="2.2"/>
<rect x="238.0" y="1060.6" width="87.7" height="86.6" rx="1.5" fill="#030603"/>
<g clip-path="url(#c20)"><path d="M252,1085 Q256,1066 278,1063 Q300,1061 309,1075 Q317,1095 314,1125 Q312,1150 290,1150 Q262,1150 256,1125 Q248,1105 252,1085 Z" fill="#008a00" filter="url(#b3)"/><ellipse cx="280.0" cy="1073.0" rx="16.0" ry="9.0" fill="#009e00" filter="url(#b3)" opacity="1.00" transform="rotate(0.0 280.0 1073.0)"/><ellipse cx="286.0" cy="1107.7" rx="20.0" ry="22.0" fill="#005000" filter="url(#b3)" opacity="1.00" transform="rotate(-5.0 286.0 1107.7)"/><ellipse cx="312.0" cy="1070.0" rx="10.0" ry="7.0" fill="#004000" filter="url(#b3)" opacity="1.00" transform="rotate(0.0 312.0 1070.0)"/></g>
<rect x="239.0" y="1061.6" width="85.7" height="84.6" rx="1.5" fill="none" stroke="#0a0a0a" stroke-width="2.2"/>
<rect x="329.4" y="1060.6" width="87.0" height="86.6" rx="1.5" fill="#030603"/>
<g clip-path="url(#c30)"><ellipse cx="367.6" cy="1104.4" rx="22.4" ry="22.4" fill="#008400" filter="url(#b2)" opacity="1.00" transform="rotate(30.0 367.6 1104.4)"/><ellipse cx="361.0" cy="1100.0" rx="4.0" ry="4.0" fill="#006000" filter="url(#b2)" opacity="1.00" transform="rotate(0.0 361.0 1100.0)"/><ellipse cx="372.0" cy="1112.0" rx="5.0" ry="4.0" fill="#006000" filter="url(#b2)" opacity="1.00" transform="rotate(0.0 372.0 1112.0)"/><ellipse cx="343.6" cy="1143.0" rx="14.0" ry="7.0" fill="#003600" filter="url(#b3)" opacity="1.00" transform="rotate(0.0 343.6 1143.0)"/><ellipse cx="397.4" cy="1140.0" rx="17.0" ry="10.0" fill="#003a00" filter="url(#b3)" opacity="1.00" transform="rotate(0.0 397.4 1140.0)"/></g>
<rect x="330.4" y="1061.6" width="85.0" height="84.6" rx="1.5" fill="none" stroke="#0a0a0a" stroke-width="2.2"/>
<rect x="422.0" y="1060.6" width="86.3" height="86.6" rx="1.5" fill="#021c02"/>
<g clip-path="url(#c40)"><ellipse cx="463.0" cy="1108.0" rx="44.0" ry="40.0" fill="#007000" filter="url(#b6)" opacity="1.00" transform="rotate(-30.0 463.0 1108.0)"/><ellipse cx="470.6" cy="1096.5" rx="25.0" ry="22.0" fill="#008c00" filter="url(#b3)" opacity="1.00" transform="rotate(0.0 470.6 1096.5)"/><ellipse cx="479.0" cy="1097.3" rx="6.0" ry="7.0" fill="#005e00" filter="url(#b2)" opacity="1.00" transform="rotate(0.0 479.0 1097.3)"/><ellipse cx="456.0" cy="1094.0" rx="3.5" ry="3.5" fill="#006e00" filter="url(#b2)" opacity="1.00" transform="rotate(0.0 456.0 1094.0)"/><ellipse cx="505.0" cy="1140.0" rx="10.0" ry="14.0" fill="#005400" filter="url(#b3)" opacity="1.00" transform="rotate(0.0 505.0 1140.0)"/></g>
<rect x="423.0" y="1061.6" width="84.3" height="84.6" rx="1.5" fill="none" stroke="#0a0a0a" stroke-width="2.2"/>
<rect x="514.0" y="1060.6" width="87.6" height="86.6" rx="1.5" fill="#010301"/>
<g clip-path="url(#c50)"><ellipse cx="559.4" cy="1102.6" rx="16.5" ry="21.5" fill="#00aa00" filter="url(#b2)" opacity="1.00" transform="rotate(-40.0 559.4 1102.6)"/><ellipse cx="550.0" cy="1100.0" rx="3.2" ry="3.5" fill="#006c00" filter="url(#b2)" opacity="1.00" transform="rotate(0.0 550.0 1100.0)"/><ellipse cx="560.5" cy="1096.5" rx="3.5" ry="4.5" fill="#006c00" filter="url(#b2)" opacity="1.00" transform="rotate(0.0 560.5 1096.5)"/></g>
<rect x="515.0" y="1061.6" width="85.6" height="84.6" rx="1.5" fill="none" stroke="#0a0a0a" stroke-width="2.2"/>
<rect x="56.8" y="1155.8" width="87.0" height="87.6" rx="1.5" fill="#00000e"/>
<g clip-path="url(#c01)"><ellipse cx="102.8" cy="1199.9" rx="25.4" ry="22.4" fill="#0008d8" filter="url(#b3)" opacity="1.00" transform="rotate(10.0 102.8 1199.9)"/><ellipse cx="97.0" cy="1194.0" rx="6.5" ry="6.0" fill="#00049a" filter="url(#b2)" opacity="1.00" transform="rotate(0.0 97.0 1194.0)"/></g>
<rect x="57.8" y="1156.8" width="85.0" height="85.6" rx="1.5" fill="none" stroke="#0a0a0a" stroke-width="2.2"/>
<rect x="146.6" y="1155.8" width="87.2" height="87.6" rx="1.5" fill="#000428"/>
<g clip-path="url(#c11)"><ellipse cx="152.0" cy="1162.0" rx="10.0" ry="14.0" fill="#0008c0" filter="url(#b3)" opacity="1.00" transform="rotate(0.0 152.0 1162.0)"/><ellipse cx="191.0" cy="1199.0" rx="27.0" ry="24.7" fill="#000ae0" filter="url(#b3)" opacity="1.00" transform="rotate(25.0 191.0 1199.0)"/><ellipse cx="172.0" cy="1243.0" rx="16.0" ry="5.0" fill="#0008c0" filter="url(#b3)" opacity="1.00" transform="rotate(0.0 172.0 1243.0)"/><ellipse cx="197.0" cy="1206.0" rx="7.0" ry="6.0" fill="#0006b0" filter="url(#b2)" opacity="1.00" transform="rotate(0.0 197.0 1206.0)"/></g>
<rect x="147.6" y="1156.8" width="85.2" height="85.6" rx="1.5" fill="none" stroke="#0a0a0a" stroke-width="2.2"/>
<rect x="238.0" y="1155.8" width="87.7" height="87.6" rx="1.5" fill="#00001c"/>
<g clip-path="url(#c21)"><ellipse cx="281.4" cy="1202.0" rx="20.0" ry="24.0" fill="#0006cc" filter="url(#b3)" opacity="1.00" transform="rotate(-10.0 281.4 1202.0)"/><ellipse cx="280.0" cy="1200.0" rx="5.0" ry="6.0" fill="#0004a0" filter="url(#b2)" opacity="1.00" transform="rotate(0.0 280.0 1200.0)"/></g>
<rect x="239.0" y="1156.8" width="85.7" height="85.6" rx="1.5" fill="none" stroke="#0a0a0a" stroke-width="2.2"/>
<rect x="329.4" y="1155.8" width="87.0" height="87.6" rx="1.5" fill="#000522"/>
<g clip-path="url(#c31)"><ellipse cx="368.0" cy="1199.8" rx="24.0" ry="22.0" fill="#000cff" filter="url(#b3)" opacity="1.00" transform="rotate(20.0 368.0 1199.8)"/><ellipse cx="330.0" cy="1190.0" rx="6.0" ry="18.0" fill="#0008c8" filter="url(#b3)" opacity="1.00" transform="rotate(0.0 330.0 1190.0)"/><ellipse cx="395.0" cy="1248.0" rx="22.0" ry="12.0" fill="#0008c8" filter="url(#b3)" opacity="1.00" transform="rotate(0.0 395.0 1248.0)"/></g>
<rect x="330.4" y="1156.8" width="85.0" height="85.6" rx="1.5" fill="none" stroke="#0a0a0a" stroke-width="2.2"/>
<rect x="422.0" y="1155.8" width="86.3" height="87.6" rx="1.5" fill="#00000e"/>
<g clip-path="url(#c41)"><ellipse cx="470.0" cy="1191.8" rx="25.0" ry="22.0" fill="#0008dc" filter="url(#b3)" opacity="1.00" transform="rotate(20.0 470.0 1191.8)"/><ellipse cx="477.0" cy="1195.0" rx="5.0" ry="6.0" fill="#0004a0" filter="url(#b2)" opacity="1.00" transform="rotate(0.0 477.0 1195.0)"/><ellipse cx="500.0" cy="1243.0" rx="10.0" ry="4.0" fill="#0006a0" filter="url(#b3)" opacity="1.00" transform="rotate(0.0 500.0 1243.0)"/></g>
<rect x="423.0" y="1156.8" width="84.3" height="85.6" rx="1.5" fill="none" stroke="#0a0a0a" stroke-width="2.2"/>
<rect x="514.0" y="1155.8" width="87.6" height="87.6" rx="1.5" fill="#00010e"/>
<g clip-path="url(#c51)"><ellipse cx="557.6" cy="1198.7" rx="17.0" ry="22.0" fill="#0006cc" filter="url(#b3)" opacity="1.00" transform="rotate(-35.0 557.6 1198.7)"/></g>
<rect x="515.0" y="1156.8" width="85.6" height="85.6" rx="1.5" fill="none" stroke="#0a0a0a" stroke-width="2.2"/>
<rect x="551.80" y="1233.90" width="42.60" height="3.20" fill="#fff" />
<text transform="translate(52.8,1137.8) rotate(-90)" font-size="28.5" font-weight="bold" fill="#14ad4c" stroke="#14ad4c" stroke-width="0.5" textLength="68.5" lengthAdjust="spacingAndGlyphs">eGFP</text>
<text transform="translate(52.8,1230.5) rotate(-90)" font-size="28.5" font-weight="bold" fill="#1240f2" stroke="#1240f2" stroke-width="0.5" textLength="61.5" lengthAdjust="spacingAndGlyphs">DAPI</text></svg></body></html>
